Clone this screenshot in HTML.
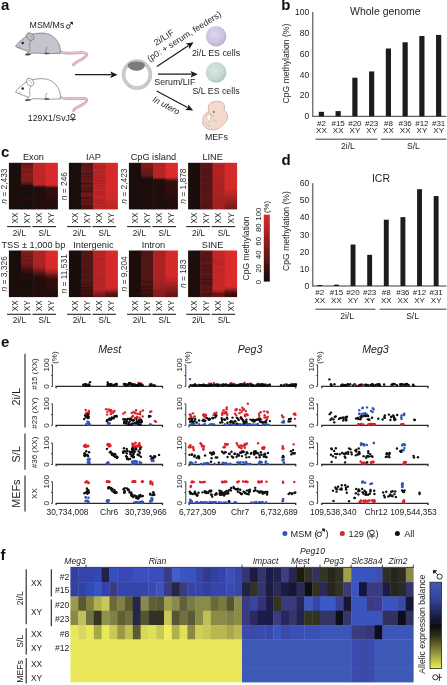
<!DOCTYPE html>
<html><head><meta charset="utf-8"><style>
html,body{margin:0;padding:0;background:#fff;width:447px;height:685px;overflow:hidden}
svg{display:block}
text{font-family:"Liberation Sans",sans-serif}
</style></head><body>
<svg width="447" height="685" viewBox="0 0 447 685" shape-rendering="auto">
<defs><filter id="soft" x="0" y="0" width="100%" height="100%"><feGaussianBlur stdDeviation="0.4"/></filter></defs><g filter="url(#soft)"><rect x="0" y="0" width="447" height="685" fill="#fff"/><text x="281.30" y="10.30" font-size="15" text-anchor="start" fill="#111" style="font-weight:bold;">b</text>
<line x1="312.80" y1="12.00" x2="312.80" y2="116.80" stroke="#3a3a3a" stroke-width="1"/>
<line x1="312.80" y1="116.30" x2="446.50" y2="116.30" stroke="#3a3a3a" stroke-width="1"/>
<text x="309.30" y="119.30" font-size="8.5" text-anchor="end" fill="#1c1c1c" style="">0</text>
<text x="309.30" y="98.44" font-size="8.5" text-anchor="end" fill="#1c1c1c" style="">20</text>
<text x="309.30" y="77.58" font-size="8.5" text-anchor="end" fill="#1c1c1c" style="">40</text>
<text x="309.30" y="56.72" font-size="8.5" text-anchor="end" fill="#1c1c1c" style="">60</text>
<text x="309.30" y="35.86" font-size="8.5" text-anchor="end" fill="#1c1c1c" style="">80</text>
<text x="309.30" y="15.00" font-size="8.5" text-anchor="end" fill="#1c1c1c" style="">100</text>
<rect x="318.80" y="111.82" width="5.20" height="4.48" fill="#1e1e1e"/>
<rect x="335.55" y="111.08" width="5.20" height="5.21" fill="#1e1e1e"/>
<rect x="352.30" y="77.71" width="5.20" height="38.59" fill="#1e1e1e"/>
<rect x="369.05" y="71.45" width="5.20" height="44.85" fill="#1e1e1e"/>
<rect x="385.80" y="48.50" width="5.20" height="67.80" fill="#1e1e1e"/>
<rect x="402.55" y="42.25" width="5.20" height="74.05" fill="#1e1e1e"/>
<rect x="419.30" y="35.99" width="5.20" height="80.31" fill="#1e1e1e"/>
<rect x="436.05" y="34.95" width="5.20" height="81.35" fill="#1e1e1e"/>
<text x="321.40" y="125.60" font-size="8.0" text-anchor="middle" fill="#1c1c1c" style="">#2</text>
<text x="321.40" y="133.30" font-size="8.0" text-anchor="middle" fill="#1c1c1c" style="">XX</text>
<text x="338.15" y="125.60" font-size="8.0" text-anchor="middle" fill="#1c1c1c" style="">#15</text>
<text x="338.15" y="133.30" font-size="8.0" text-anchor="middle" fill="#1c1c1c" style="">XX</text>
<text x="354.90" y="125.60" font-size="8.0" text-anchor="middle" fill="#1c1c1c" style="">#20</text>
<text x="354.90" y="133.30" font-size="8.0" text-anchor="middle" fill="#1c1c1c" style="">XY</text>
<text x="371.65" y="125.60" font-size="8.0" text-anchor="middle" fill="#1c1c1c" style="">#23</text>
<text x="371.65" y="133.30" font-size="8.0" text-anchor="middle" fill="#1c1c1c" style="">XY</text>
<text x="388.40" y="125.60" font-size="8.0" text-anchor="middle" fill="#1c1c1c" style="">#8</text>
<text x="388.40" y="133.30" font-size="8.0" text-anchor="middle" fill="#1c1c1c" style="">XX</text>
<text x="405.15" y="125.60" font-size="8.0" text-anchor="middle" fill="#1c1c1c" style="">#36</text>
<text x="405.15" y="133.30" font-size="8.0" text-anchor="middle" fill="#1c1c1c" style="">XX</text>
<text x="421.90" y="125.60" font-size="8.0" text-anchor="middle" fill="#1c1c1c" style="">#12</text>
<text x="421.90" y="133.30" font-size="8.0" text-anchor="middle" fill="#1c1c1c" style="">XY</text>
<text x="438.65" y="125.60" font-size="8.0" text-anchor="middle" fill="#1c1c1c" style="">#31</text>
<text x="438.65" y="133.30" font-size="8.0" text-anchor="middle" fill="#1c1c1c" style="">XY</text>
<line x1="315.50" y1="139.20" x2="377.60" y2="139.20" stroke="#3a3a3a" stroke-width="1"/>
<line x1="381.00" y1="139.20" x2="446.50" y2="139.20" stroke="#3a3a3a" stroke-width="1"/>
<text x="347.90" y="148.80" font-size="8.6" text-anchor="middle" fill="#1c1c1c" style="">2i/L</text>
<text x="413.40" y="148.80" font-size="8.6" text-anchor="middle" fill="#1c1c1c" style="">S/L</text>
<text x="385.30" y="15.00" font-size="10.5" text-anchor="middle" fill="#1c1c1c" style="">Whole genome</text>
<text x="288.60" y="63.50" font-size="8.6" text-anchor="middle" fill="#1c1c1c" style="" transform="rotate(-90 288.60 63.50)">CpG methylation (%)</text>
<text x="281.60" y="164.50" font-size="15" text-anchor="start" fill="#111" style="font-weight:bold;">d</text>
<line x1="312.80" y1="183.20" x2="312.80" y2="286.50" stroke="#3a3a3a" stroke-width="1"/>
<line x1="312.80" y1="286.00" x2="446.50" y2="286.00" stroke="#3a3a3a" stroke-width="1"/>
<text x="309.30" y="289.00" font-size="8.5" text-anchor="end" fill="#1c1c1c" style="">0</text>
<text x="309.30" y="271.87" font-size="8.5" text-anchor="end" fill="#1c1c1c" style="">10</text>
<text x="309.30" y="254.73" font-size="8.5" text-anchor="end" fill="#1c1c1c" style="">20</text>
<text x="309.30" y="237.60" font-size="8.5" text-anchor="end" fill="#1c1c1c" style="">30</text>
<text x="309.30" y="220.47" font-size="8.5" text-anchor="end" fill="#1c1c1c" style="">40</text>
<text x="309.30" y="203.33" font-size="8.5" text-anchor="end" fill="#1c1c1c" style="">50</text>
<text x="309.30" y="186.20" font-size="8.5" text-anchor="end" fill="#1c1c1c" style="">60</text>
<rect x="317.35" y="284.97" width="4.90" height="1.03" fill="#1e1e1e"/>
<rect x="333.97" y="284.63" width="4.90" height="1.37" fill="#1e1e1e"/>
<rect x="350.59" y="244.54" width="4.90" height="41.46" fill="#1e1e1e"/>
<rect x="367.21" y="254.82" width="4.90" height="31.18" fill="#1e1e1e"/>
<rect x="383.83" y="219.69" width="4.90" height="66.31" fill="#1e1e1e"/>
<rect x="400.45" y="217.12" width="4.90" height="68.88" fill="#1e1e1e"/>
<rect x="417.07" y="189.20" width="4.90" height="96.80" fill="#1e1e1e"/>
<rect x="433.69" y="196.05" width="4.90" height="89.95" fill="#1e1e1e"/>
<text x="319.80" y="295.30" font-size="8.0" text-anchor="middle" fill="#1c1c1c" style="">#2</text>
<text x="319.80" y="303.00" font-size="8.0" text-anchor="middle" fill="#1c1c1c" style="">XX</text>
<text x="336.42" y="295.30" font-size="8.0" text-anchor="middle" fill="#1c1c1c" style="">#15</text>
<text x="336.42" y="303.00" font-size="8.0" text-anchor="middle" fill="#1c1c1c" style="">XX</text>
<text x="353.04" y="295.30" font-size="8.0" text-anchor="middle" fill="#1c1c1c" style="">#20</text>
<text x="353.04" y="303.00" font-size="8.0" text-anchor="middle" fill="#1c1c1c" style="">XY</text>
<text x="369.66" y="295.30" font-size="8.0" text-anchor="middle" fill="#1c1c1c" style="">#23</text>
<text x="369.66" y="303.00" font-size="8.0" text-anchor="middle" fill="#1c1c1c" style="">XY</text>
<text x="386.28" y="295.30" font-size="8.0" text-anchor="middle" fill="#1c1c1c" style="">#8</text>
<text x="386.28" y="303.00" font-size="8.0" text-anchor="middle" fill="#1c1c1c" style="">XX</text>
<text x="402.90" y="295.30" font-size="8.0" text-anchor="middle" fill="#1c1c1c" style="">#36</text>
<text x="402.90" y="303.00" font-size="8.0" text-anchor="middle" fill="#1c1c1c" style="">XX</text>
<text x="419.52" y="295.30" font-size="8.0" text-anchor="middle" fill="#1c1c1c" style="">#12</text>
<text x="419.52" y="303.00" font-size="8.0" text-anchor="middle" fill="#1c1c1c" style="">XY</text>
<text x="436.14" y="295.30" font-size="8.0" text-anchor="middle" fill="#1c1c1c" style="">#31</text>
<text x="436.14" y="303.00" font-size="8.0" text-anchor="middle" fill="#1c1c1c" style="">XY</text>
<line x1="315.50" y1="309.20" x2="375.40" y2="309.20" stroke="#3a3a3a" stroke-width="1"/>
<line x1="379.60" y1="309.20" x2="446.50" y2="309.20" stroke="#3a3a3a" stroke-width="1"/>
<text x="347.10" y="318.80" font-size="8.6" text-anchor="middle" fill="#1c1c1c" style="">2i/L</text>
<text x="412.60" y="318.80" font-size="8.6" text-anchor="middle" fill="#1c1c1c" style="">S/L</text>
<text x="381.00" y="182.00" font-size="10.5" text-anchor="middle" fill="#1c1c1c" style="">ICR</text>
<text x="288.60" y="231.00" font-size="8.6" text-anchor="middle" fill="#1c1c1c" style="" transform="rotate(-90 288.60 231.00)">CpG methylation (%)</text>
<text x="1.00" y="156.70" font-size="15" text-anchor="start" fill="#111" style="font-weight:bold;">c</text>
<linearGradient id="hg1" x1="0" y1="0" x2="0" y2="1"><stop offset="0.0109" stop-color="#1e0b0b"/><stop offset="0.0326" stop-color="#1f0b0b"/><stop offset="0.0543" stop-color="#1e0b0b"/><stop offset="0.0761" stop-color="#1f0c0c"/><stop offset="0.0978" stop-color="#1f0c0c"/><stop offset="0.1196" stop-color="#1d0b0b"/><stop offset="0.1413" stop-color="#1d0b0b"/><stop offset="0.1630" stop-color="#200c0c"/><stop offset="0.1848" stop-color="#1e0b0b"/><stop offset="0.2065" stop-color="#1d0b0b"/><stop offset="0.2283" stop-color="#210c0c"/><stop offset="0.2500" stop-color="#1f0b0b"/><stop offset="0.2717" stop-color="#200c0c"/><stop offset="0.2935" stop-color="#1f0b0b"/><stop offset="0.3152" stop-color="#1f0c0c"/><stop offset="0.3370" stop-color="#1d0b0b"/><stop offset="0.3587" stop-color="#1f0c0c"/><stop offset="0.3804" stop-color="#200c0c"/><stop offset="0.4022" stop-color="#1f0b0b"/><stop offset="0.4239" stop-color="#200c0c"/><stop offset="0.4457" stop-color="#1f0c0c"/><stop offset="0.4674" stop-color="#1d0b0b"/><stop offset="0.4891" stop-color="#200c0c"/><stop offset="0.5109" stop-color="#1f0c0c"/><stop offset="0.5326" stop-color="#1e0b0b"/><stop offset="0.5543" stop-color="#1d0b0b"/><stop offset="0.5761" stop-color="#200c0c"/><stop offset="0.5978" stop-color="#1f0b0b"/><stop offset="0.6196" stop-color="#200c0c"/><stop offset="0.6413" stop-color="#200c0c"/><stop offset="0.6630" stop-color="#200c0c"/><stop offset="0.6848" stop-color="#200c0c"/><stop offset="0.7065" stop-color="#1e0b0b"/><stop offset="0.7283" stop-color="#200c0c"/><stop offset="0.7500" stop-color="#1e0b0b"/><stop offset="0.7717" stop-color="#210c0c"/><stop offset="0.7935" stop-color="#200c0c"/><stop offset="0.8152" stop-color="#1d0b0b"/><stop offset="0.8370" stop-color="#1d0b0b"/><stop offset="0.8587" stop-color="#1d0b0b"/><stop offset="0.8804" stop-color="#210c0c"/><stop offset="0.9022" stop-color="#1e0b0b"/><stop offset="0.9239" stop-color="#1f0c0c"/><stop offset="0.9457" stop-color="#1e0b0b"/><stop offset="0.9674" stop-color="#1f0b0b"/><stop offset="0.9891" stop-color="#1e0b0b"/></linearGradient>
<rect x="8.90" y="162.80" width="12.65" height="46.60" fill="url(#hg1)"/>
<linearGradient id="hg2" x1="0" y1="0" x2="0" y2="1"><stop offset="0.0109" stop-color="#5c1616"/><stop offset="0.0326" stop-color="#661717"/><stop offset="0.0543" stop-color="#691818"/><stop offset="0.0761" stop-color="#751a1a"/><stop offset="0.0978" stop-color="#711919"/><stop offset="0.1196" stop-color="#7b1b1b"/><stop offset="0.1413" stop-color="#7b1b1b"/><stop offset="0.1630" stop-color="#821c1c"/><stop offset="0.1848" stop-color="#7b1b1b"/><stop offset="0.2065" stop-color="#6e1919"/><stop offset="0.2283" stop-color="#861d1d"/><stop offset="0.2500" stop-color="#8c1e1e"/><stop offset="0.2717" stop-color="#8a1d1d"/><stop offset="0.2935" stop-color="#801c1c"/><stop offset="0.3152" stop-color="#841c1c"/><stop offset="0.3370" stop-color="#751a1a"/><stop offset="0.3587" stop-color="#881d1d"/><stop offset="0.3804" stop-color="#801c1c"/><stop offset="0.4022" stop-color="#771a1a"/><stop offset="0.4239" stop-color="#621717"/><stop offset="0.4457" stop-color="#5e1616"/><stop offset="0.4674" stop-color="#441212"/><stop offset="0.4891" stop-color="#160a0a"/><stop offset="0.5109" stop-color="#260d0d"/><stop offset="0.5326" stop-color="#1a0b0b"/><stop offset="0.5543" stop-color="#160a0a"/><stop offset="0.5761" stop-color="#160a0a"/><stop offset="0.5978" stop-color="#250c0c"/><stop offset="0.6196" stop-color="#280d0d"/><stop offset="0.6413" stop-color="#160a0a"/><stop offset="0.6630" stop-color="#200c0c"/><stop offset="0.6848" stop-color="#160a0a"/><stop offset="0.7065" stop-color="#230c0c"/><stop offset="0.7283" stop-color="#170a0a"/><stop offset="0.7500" stop-color="#280d0d"/><stop offset="0.7717" stop-color="#2b0e0e"/><stop offset="0.7935" stop-color="#1d0b0b"/><stop offset="0.8152" stop-color="#2c0e0e"/><stop offset="0.8370" stop-color="#170a0a"/><stop offset="0.8587" stop-color="#160a0a"/><stop offset="0.8804" stop-color="#1f0c0c"/><stop offset="0.9022" stop-color="#160a0a"/><stop offset="0.9239" stop-color="#160a0a"/><stop offset="0.9457" stop-color="#1a0b0b"/><stop offset="0.9674" stop-color="#200c0c"/><stop offset="0.9891" stop-color="#160a0a"/></linearGradient>
<rect x="20.95" y="162.80" width="12.85" height="46.60" fill="url(#hg2)"/>
<linearGradient id="hg3" x1="0" y1="0" x2="0" y2="1"><stop offset="0.0109" stop-color="#bd2626"/><stop offset="0.0326" stop-color="#c02626"/><stop offset="0.0543" stop-color="#be2626"/><stop offset="0.0761" stop-color="#c02626"/><stop offset="0.0978" stop-color="#c02626"/><stop offset="0.1196" stop-color="#be2626"/><stop offset="0.1413" stop-color="#be2626"/><stop offset="0.1630" stop-color="#bf2626"/><stop offset="0.1848" stop-color="#bf2626"/><stop offset="0.2065" stop-color="#bf2626"/><stop offset="0.2283" stop-color="#bf2626"/><stop offset="0.2500" stop-color="#bf2626"/><stop offset="0.2717" stop-color="#c02626"/><stop offset="0.2935" stop-color="#bf2626"/><stop offset="0.3152" stop-color="#be2626"/><stop offset="0.3370" stop-color="#bf2626"/><stop offset="0.3587" stop-color="#bd2626"/><stop offset="0.3804" stop-color="#be2626"/><stop offset="0.4022" stop-color="#c12626"/><stop offset="0.4239" stop-color="#bf2626"/><stop offset="0.4457" stop-color="#bf2626"/><stop offset="0.4674" stop-color="#b92525"/><stop offset="0.4891" stop-color="#8f1e1e"/><stop offset="0.5109" stop-color="#521414"/><stop offset="0.5326" stop-color="#250c0c"/><stop offset="0.5543" stop-color="#230c0c"/><stop offset="0.5761" stop-color="#240c0c"/><stop offset="0.5978" stop-color="#210c0c"/><stop offset="0.6196" stop-color="#240c0c"/><stop offset="0.6413" stop-color="#230c0c"/><stop offset="0.6630" stop-color="#240c0c"/><stop offset="0.6848" stop-color="#220c0c"/><stop offset="0.7065" stop-color="#240c0c"/><stop offset="0.7283" stop-color="#240c0c"/><stop offset="0.7500" stop-color="#210c0c"/><stop offset="0.7717" stop-color="#210c0c"/><stop offset="0.7935" stop-color="#240c0c"/><stop offset="0.8152" stop-color="#250c0c"/><stop offset="0.8370" stop-color="#220c0c"/><stop offset="0.8587" stop-color="#230c0c"/><stop offset="0.8804" stop-color="#230c0c"/><stop offset="0.9022" stop-color="#220c0c"/><stop offset="0.9239" stop-color="#220c0c"/><stop offset="0.9457" stop-color="#220c0c"/><stop offset="0.9674" stop-color="#220c0c"/><stop offset="0.9891" stop-color="#230c0c"/></linearGradient>
<rect x="33.20" y="162.80" width="12.85" height="46.60" fill="url(#hg3)"/>
<linearGradient id="hg4" x1="0" y1="0" x2="0" y2="1"><stop offset="0.0109" stop-color="#dc2b2b"/><stop offset="0.0326" stop-color="#dc2b2b"/><stop offset="0.0543" stop-color="#dd2b2b"/><stop offset="0.0761" stop-color="#d92b2b"/><stop offset="0.0978" stop-color="#db2b2b"/><stop offset="0.1196" stop-color="#dc2b2b"/><stop offset="0.1413" stop-color="#d92b2b"/><stop offset="0.1630" stop-color="#d92a2a"/><stop offset="0.1848" stop-color="#db2b2b"/><stop offset="0.2065" stop-color="#d82a2a"/><stop offset="0.2283" stop-color="#d72a2a"/><stop offset="0.2500" stop-color="#d82a2a"/><stop offset="0.2717" stop-color="#d92a2a"/><stop offset="0.2935" stop-color="#d62a2a"/><stop offset="0.3152" stop-color="#d72a2a"/><stop offset="0.3370" stop-color="#d62a2a"/><stop offset="0.3587" stop-color="#d82a2a"/><stop offset="0.3804" stop-color="#d62a2a"/><stop offset="0.4022" stop-color="#d72a2a"/><stop offset="0.4239" stop-color="#d42a2a"/><stop offset="0.4457" stop-color="#d42a2a"/><stop offset="0.4674" stop-color="#d52a2a"/><stop offset="0.4891" stop-color="#bf2626"/><stop offset="0.5109" stop-color="#811c1c"/><stop offset="0.5326" stop-color="#461212"/><stop offset="0.5543" stop-color="#330f0f"/><stop offset="0.5761" stop-color="#340f0f"/><stop offset="0.5978" stop-color="#320f0f"/><stop offset="0.6196" stop-color="#340f0f"/><stop offset="0.6413" stop-color="#340f0f"/><stop offset="0.6630" stop-color="#300e0e"/><stop offset="0.6848" stop-color="#300e0e"/><stop offset="0.7065" stop-color="#310e0e"/><stop offset="0.7283" stop-color="#2f0e0e"/><stop offset="0.7500" stop-color="#2e0e0e"/><stop offset="0.7717" stop-color="#2b0e0e"/><stop offset="0.7935" stop-color="#290d0d"/><stop offset="0.8152" stop-color="#280d0d"/><stop offset="0.8370" stop-color="#290d0d"/><stop offset="0.8587" stop-color="#260d0d"/><stop offset="0.8804" stop-color="#250d0d"/><stop offset="0.9022" stop-color="#250c0c"/><stop offset="0.9239" stop-color="#240c0c"/><stop offset="0.9457" stop-color="#230c0c"/><stop offset="0.9674" stop-color="#250d0d"/><stop offset="0.9891" stop-color="#220c0c"/></linearGradient>
<rect x="45.45" y="162.80" width="12.45" height="46.60" fill="url(#hg4)"/>
<text x="33.40" y="159.80" font-size="9.2" text-anchor="middle" fill="#1c1c1c" style="">Exon</text>
<text x="6.70" y="186.10" font-size="8.4" text-anchor="middle" fill="#333" transform="rotate(-90 6.70 186.10)"><tspan style="font-style:italic">n</tspan> = 2,433</text>
<text x="17.62" y="212.60" font-size="8.2" text-anchor="end" fill="#1c1c1c" style="" transform="rotate(-90 17.62 212.60)">XX</text>
<text x="29.88" y="212.60" font-size="8.2" text-anchor="end" fill="#1c1c1c" style="" transform="rotate(-90 29.88 212.60)">XY</text>
<text x="42.12" y="212.60" font-size="8.2" text-anchor="end" fill="#1c1c1c" style="" transform="rotate(-90 42.12 212.60)">XX</text>
<text x="54.38" y="212.60" font-size="8.2" text-anchor="end" fill="#1c1c1c" style="" transform="rotate(-90 54.38 212.60)">XY</text>
<line x1="7.10" y1="226.60" x2="30.80" y2="226.60" stroke="#222" stroke-width="1.1"/>
<line x1="32.40" y1="226.60" x2="56.00" y2="226.60" stroke="#222" stroke-width="1.1"/>
<text x="19.35" y="235.60" font-size="8.2" text-anchor="middle" fill="#1c1c1c" style="">2i/L</text>
<text x="44.65" y="235.60" font-size="8.2" text-anchor="middle" fill="#1c1c1c" style="">S/L</text>
<linearGradient id="hg5" x1="0" y1="0" x2="0" y2="1"><stop offset="0.0109" stop-color="#1a0b0b"/><stop offset="0.0326" stop-color="#190b0b"/><stop offset="0.0543" stop-color="#1c0b0b"/><stop offset="0.0761" stop-color="#190b0b"/><stop offset="0.0978" stop-color="#190a0a"/><stop offset="0.1196" stop-color="#1c0b0b"/><stop offset="0.1413" stop-color="#200c0c"/><stop offset="0.1630" stop-color="#1f0c0c"/><stop offset="0.1848" stop-color="#1f0b0b"/><stop offset="0.2065" stop-color="#1a0b0b"/><stop offset="0.2283" stop-color="#1d0b0b"/><stop offset="0.2500" stop-color="#1b0b0b"/><stop offset="0.2717" stop-color="#1a0b0b"/><stop offset="0.2935" stop-color="#190b0b"/><stop offset="0.3152" stop-color="#1a0b0b"/><stop offset="0.3370" stop-color="#200c0c"/><stop offset="0.3587" stop-color="#1f0c0c"/><stop offset="0.3804" stop-color="#1f0c0c"/><stop offset="0.4022" stop-color="#1f0c0c"/><stop offset="0.4239" stop-color="#1a0b0b"/><stop offset="0.4457" stop-color="#1b0b0b"/><stop offset="0.4674" stop-color="#1e0b0b"/><stop offset="0.4891" stop-color="#1e0b0b"/><stop offset="0.5109" stop-color="#200c0c"/><stop offset="0.5326" stop-color="#200c0c"/><stop offset="0.5543" stop-color="#190a0a"/><stop offset="0.5761" stop-color="#1d0b0b"/><stop offset="0.5978" stop-color="#1e0b0b"/><stop offset="0.6196" stop-color="#1d0b0b"/><stop offset="0.6413" stop-color="#1a0b0b"/><stop offset="0.6630" stop-color="#1c0b0b"/><stop offset="0.6848" stop-color="#190a0a"/><stop offset="0.7065" stop-color="#200c0c"/><stop offset="0.7283" stop-color="#200c0c"/><stop offset="0.7500" stop-color="#1d0b0b"/><stop offset="0.7717" stop-color="#1b0b0b"/><stop offset="0.7935" stop-color="#200c0c"/><stop offset="0.8152" stop-color="#1d0b0b"/><stop offset="0.8370" stop-color="#200c0c"/><stop offset="0.8587" stop-color="#1f0c0c"/><stop offset="0.8804" stop-color="#1d0b0b"/><stop offset="0.9022" stop-color="#1c0b0b"/><stop offset="0.9239" stop-color="#1d0b0b"/><stop offset="0.9457" stop-color="#1c0b0b"/><stop offset="0.9674" stop-color="#1a0b0b"/><stop offset="0.9891" stop-color="#1b0b0b"/></linearGradient>
<rect x="68.90" y="162.80" width="12.65" height="46.60" fill="url(#hg5)"/>
<linearGradient id="hg6" x1="0" y1="0" x2="0" y2="1"><stop offset="0.0109" stop-color="#7b1b1b"/><stop offset="0.0326" stop-color="#4c1313"/><stop offset="0.0543" stop-color="#4b1313"/><stop offset="0.0761" stop-color="#6e1919"/><stop offset="0.0978" stop-color="#591515"/><stop offset="0.1196" stop-color="#681818"/><stop offset="0.1413" stop-color="#631717"/><stop offset="0.1630" stop-color="#5b1616"/><stop offset="0.1848" stop-color="#821c1c"/><stop offset="0.2065" stop-color="#511414"/><stop offset="0.2283" stop-color="#5e1616"/><stop offset="0.2500" stop-color="#511414"/><stop offset="0.2717" stop-color="#6a1818"/><stop offset="0.2935" stop-color="#541414"/><stop offset="0.3152" stop-color="#591515"/><stop offset="0.3370" stop-color="#701919"/><stop offset="0.3587" stop-color="#551515"/><stop offset="0.3804" stop-color="#631717"/><stop offset="0.4022" stop-color="#781a1a"/><stop offset="0.4239" stop-color="#471212"/><stop offset="0.4457" stop-color="#441212"/><stop offset="0.4674" stop-color="#4e1313"/><stop offset="0.4891" stop-color="#6e1919"/><stop offset="0.5109" stop-color="#641717"/><stop offset="0.5326" stop-color="#4d1313"/><stop offset="0.5543" stop-color="#521414"/><stop offset="0.5761" stop-color="#481212"/><stop offset="0.5978" stop-color="#591515"/><stop offset="0.6196" stop-color="#3f1111"/><stop offset="0.6413" stop-color="#661717"/><stop offset="0.6630" stop-color="#721919"/><stop offset="0.6848" stop-color="#751a1a"/><stop offset="0.7065" stop-color="#671818"/><stop offset="0.7283" stop-color="#741a1a"/><stop offset="0.7500" stop-color="#3b1010"/><stop offset="0.7717" stop-color="#4b1313"/><stop offset="0.7935" stop-color="#731a1a"/><stop offset="0.8152" stop-color="#671818"/><stop offset="0.8370" stop-color="#511414"/><stop offset="0.8587" stop-color="#701919"/><stop offset="0.8804" stop-color="#5c1616"/><stop offset="0.9022" stop-color="#681818"/><stop offset="0.9239" stop-color="#481212"/><stop offset="0.9457" stop-color="#411111"/><stop offset="0.9674" stop-color="#501414"/><stop offset="0.9891" stop-color="#3d1010"/></linearGradient>
<rect x="80.95" y="162.80" width="12.85" height="46.60" fill="url(#hg6)"/>
<linearGradient id="hg7" x1="0" y1="0" x2="0" y2="1"><stop offset="0.0109" stop-color="#b82525"/><stop offset="0.0326" stop-color="#c42727"/><stop offset="0.0543" stop-color="#b72525"/><stop offset="0.0761" stop-color="#b02424"/><stop offset="0.0978" stop-color="#b02424"/><stop offset="0.1196" stop-color="#b32424"/><stop offset="0.1413" stop-color="#c02626"/><stop offset="0.1630" stop-color="#b72525"/><stop offset="0.1848" stop-color="#b62525"/><stop offset="0.2065" stop-color="#b12424"/><stop offset="0.2283" stop-color="#c52727"/><stop offset="0.2500" stop-color="#b92525"/><stop offset="0.2717" stop-color="#b42424"/><stop offset="0.2935" stop-color="#b12424"/><stop offset="0.3152" stop-color="#b12424"/><stop offset="0.3370" stop-color="#b32424"/><stop offset="0.3587" stop-color="#be2626"/><stop offset="0.3804" stop-color="#b32424"/><stop offset="0.4022" stop-color="#b02424"/><stop offset="0.4239" stop-color="#ba2525"/><stop offset="0.4457" stop-color="#b52424"/><stop offset="0.4674" stop-color="#c52727"/><stop offset="0.4891" stop-color="#b22424"/><stop offset="0.5109" stop-color="#bb2525"/><stop offset="0.5326" stop-color="#c02626"/><stop offset="0.5543" stop-color="#b82525"/><stop offset="0.5761" stop-color="#c52727"/><stop offset="0.5978" stop-color="#ba2525"/><stop offset="0.6196" stop-color="#b52424"/><stop offset="0.6413" stop-color="#b82525"/><stop offset="0.6630" stop-color="#b02424"/><stop offset="0.6848" stop-color="#b82525"/><stop offset="0.7065" stop-color="#b52424"/><stop offset="0.7283" stop-color="#c32727"/><stop offset="0.7500" stop-color="#c12727"/><stop offset="0.7717" stop-color="#ba2525"/><stop offset="0.7935" stop-color="#b02424"/><stop offset="0.8152" stop-color="#b52424"/><stop offset="0.8370" stop-color="#b52424"/><stop offset="0.8587" stop-color="#b42424"/><stop offset="0.8804" stop-color="#b42424"/><stop offset="0.9022" stop-color="#c22727"/><stop offset="0.9239" stop-color="#b22424"/><stop offset="0.9457" stop-color="#b02424"/><stop offset="0.9674" stop-color="#c32727"/><stop offset="0.9891" stop-color="#bc2626"/></linearGradient>
<rect x="93.20" y="162.80" width="12.85" height="46.60" fill="url(#hg7)"/>
<linearGradient id="hg8" x1="0" y1="0" x2="0" y2="1"><stop offset="0.0109" stop-color="#d82a2a"/><stop offset="0.0326" stop-color="#d32a2a"/><stop offset="0.0543" stop-color="#d82a2a"/><stop offset="0.0761" stop-color="#d52a2a"/><stop offset="0.0978" stop-color="#d72a2a"/><stop offset="0.1196" stop-color="#d62a2a"/><stop offset="0.1413" stop-color="#d42a2a"/><stop offset="0.1630" stop-color="#d12929"/><stop offset="0.1848" stop-color="#d22929"/><stop offset="0.2065" stop-color="#d72a2a"/><stop offset="0.2283" stop-color="#d82a2a"/><stop offset="0.2500" stop-color="#d82a2a"/><stop offset="0.2717" stop-color="#d32929"/><stop offset="0.2935" stop-color="#d52a2a"/><stop offset="0.3152" stop-color="#d72a2a"/><stop offset="0.3370" stop-color="#d52a2a"/><stop offset="0.3587" stop-color="#d72a2a"/><stop offset="0.3804" stop-color="#d42a2a"/><stop offset="0.4022" stop-color="#d52a2a"/><stop offset="0.4239" stop-color="#d62a2a"/><stop offset="0.4457" stop-color="#d22929"/><stop offset="0.4674" stop-color="#d82a2a"/><stop offset="0.4891" stop-color="#d82a2a"/><stop offset="0.5109" stop-color="#d02929"/><stop offset="0.5326" stop-color="#d82a2a"/><stop offset="0.5543" stop-color="#d82a2a"/><stop offset="0.5761" stop-color="#d62a2a"/><stop offset="0.5978" stop-color="#d02929"/><stop offset="0.6196" stop-color="#d82a2a"/><stop offset="0.6413" stop-color="#d12929"/><stop offset="0.6630" stop-color="#d82a2a"/><stop offset="0.6848" stop-color="#d62a2a"/><stop offset="0.7065" stop-color="#d02929"/><stop offset="0.7283" stop-color="#cf2929"/><stop offset="0.7500" stop-color="#d12929"/><stop offset="0.7717" stop-color="#ce2929"/><stop offset="0.7935" stop-color="#ce2929"/><stop offset="0.8152" stop-color="#ce2929"/><stop offset="0.8370" stop-color="#c62727"/><stop offset="0.8587" stop-color="#c22727"/><stop offset="0.8804" stop-color="#c82828"/><stop offset="0.9022" stop-color="#be2626"/><stop offset="0.9239" stop-color="#c42727"/><stop offset="0.9457" stop-color="#bc2626"/><stop offset="0.9674" stop-color="#c02626"/><stop offset="0.9891" stop-color="#be2626"/></linearGradient>
<rect x="105.45" y="162.80" width="12.45" height="46.60" fill="url(#hg8)"/>
<text x="93.40" y="159.80" font-size="9.2" text-anchor="middle" fill="#1c1c1c" style="">IAP</text>
<text x="66.70" y="186.10" font-size="8.4" text-anchor="middle" fill="#333" transform="rotate(-90 66.70 186.10)"><tspan style="font-style:italic">n</tspan> = 246</text>
<text x="77.62" y="212.60" font-size="8.2" text-anchor="end" fill="#1c1c1c" style="" transform="rotate(-90 77.62 212.60)">XX</text>
<text x="89.88" y="212.60" font-size="8.2" text-anchor="end" fill="#1c1c1c" style="" transform="rotate(-90 89.88 212.60)">XY</text>
<text x="102.12" y="212.60" font-size="8.2" text-anchor="end" fill="#1c1c1c" style="" transform="rotate(-90 102.12 212.60)">XX</text>
<text x="114.38" y="212.60" font-size="8.2" text-anchor="end" fill="#1c1c1c" style="" transform="rotate(-90 114.38 212.60)">XY</text>
<line x1="67.10" y1="226.60" x2="90.80" y2="226.60" stroke="#222" stroke-width="1.1"/>
<line x1="92.40" y1="226.60" x2="116.00" y2="226.60" stroke="#222" stroke-width="1.1"/>
<text x="79.35" y="235.60" font-size="8.2" text-anchor="middle" fill="#1c1c1c" style="">2i/L</text>
<text x="104.65" y="235.60" font-size="8.2" text-anchor="middle" fill="#1c1c1c" style="">S/L</text>
<linearGradient id="hg9" x1="0" y1="0" x2="0" y2="1"><stop offset="0.0109" stop-color="#1d0b0b"/><stop offset="0.0326" stop-color="#1e0b0b"/><stop offset="0.0543" stop-color="#1e0b0b"/><stop offset="0.0761" stop-color="#1e0b0b"/><stop offset="0.0978" stop-color="#1e0b0b"/><stop offset="0.1196" stop-color="#1e0b0b"/><stop offset="0.1413" stop-color="#1a0b0b"/><stop offset="0.1630" stop-color="#1c0b0b"/><stop offset="0.1848" stop-color="#1e0b0b"/><stop offset="0.2065" stop-color="#1d0b0b"/><stop offset="0.2283" stop-color="#1e0b0b"/><stop offset="0.2500" stop-color="#1b0b0b"/><stop offset="0.2717" stop-color="#1c0b0b"/><stop offset="0.2935" stop-color="#1b0b0b"/><stop offset="0.3152" stop-color="#1d0b0b"/><stop offset="0.3370" stop-color="#1d0b0b"/><stop offset="0.3587" stop-color="#1a0b0b"/><stop offset="0.3804" stop-color="#1b0b0b"/><stop offset="0.4022" stop-color="#1c0b0b"/><stop offset="0.4239" stop-color="#1e0b0b"/><stop offset="0.4457" stop-color="#1e0b0b"/><stop offset="0.4674" stop-color="#1b0b0b"/><stop offset="0.4891" stop-color="#1e0b0b"/><stop offset="0.5109" stop-color="#1b0b0b"/><stop offset="0.5326" stop-color="#1d0b0b"/><stop offset="0.5543" stop-color="#1b0b0b"/><stop offset="0.5761" stop-color="#1a0b0b"/><stop offset="0.5978" stop-color="#1e0b0b"/><stop offset="0.6196" stop-color="#1b0b0b"/><stop offset="0.6413" stop-color="#1b0b0b"/><stop offset="0.6630" stop-color="#1f0b0b"/><stop offset="0.6848" stop-color="#1e0b0b"/><stop offset="0.7065" stop-color="#1c0b0b"/><stop offset="0.7283" stop-color="#1e0b0b"/><stop offset="0.7500" stop-color="#1d0b0b"/><stop offset="0.7717" stop-color="#1d0b0b"/><stop offset="0.7935" stop-color="#1b0b0b"/><stop offset="0.8152" stop-color="#1e0b0b"/><stop offset="0.8370" stop-color="#1d0b0b"/><stop offset="0.8587" stop-color="#1e0b0b"/><stop offset="0.8804" stop-color="#1e0b0b"/><stop offset="0.9022" stop-color="#1c0b0b"/><stop offset="0.9239" stop-color="#1c0b0b"/><stop offset="0.9457" stop-color="#1b0b0b"/><stop offset="0.9674" stop-color="#1b0b0b"/><stop offset="0.9891" stop-color="#1b0b0b"/></linearGradient>
<rect x="128.90" y="162.80" width="12.65" height="46.60" fill="url(#hg9)"/>
<linearGradient id="hg10" x1="0" y1="0" x2="0" y2="1"><stop offset="0.0109" stop-color="#7e1b1b"/><stop offset="0.0326" stop-color="#801c1c"/><stop offset="0.0543" stop-color="#761a1a"/><stop offset="0.0761" stop-color="#7c1b1b"/><stop offset="0.0978" stop-color="#751a1a"/><stop offset="0.1196" stop-color="#731919"/><stop offset="0.1413" stop-color="#771a1a"/><stop offset="0.1630" stop-color="#701919"/><stop offset="0.1848" stop-color="#6c1818"/><stop offset="0.2065" stop-color="#6b1818"/><stop offset="0.2283" stop-color="#6c1818"/><stop offset="0.2500" stop-color="#611717"/><stop offset="0.2717" stop-color="#681818"/><stop offset="0.2935" stop-color="#4a1313"/><stop offset="0.3152" stop-color="#3c1010"/><stop offset="0.3370" stop-color="#2a0d0d"/><stop offset="0.3587" stop-color="#160a0a"/><stop offset="0.3804" stop-color="#200c0c"/><stop offset="0.4022" stop-color="#1b0b0b"/><stop offset="0.4239" stop-color="#1d0b0b"/><stop offset="0.4457" stop-color="#160a0a"/><stop offset="0.4674" stop-color="#170a0a"/><stop offset="0.4891" stop-color="#180a0a"/><stop offset="0.5109" stop-color="#220c0c"/><stop offset="0.5326" stop-color="#190a0a"/><stop offset="0.5543" stop-color="#200c0c"/><stop offset="0.5761" stop-color="#220c0c"/><stop offset="0.5978" stop-color="#220c0c"/><stop offset="0.6196" stop-color="#1a0b0b"/><stop offset="0.6413" stop-color="#1b0b0b"/><stop offset="0.6630" stop-color="#1d0b0b"/><stop offset="0.6848" stop-color="#200c0c"/><stop offset="0.7065" stop-color="#170a0a"/><stop offset="0.7283" stop-color="#200c0c"/><stop offset="0.7500" stop-color="#200c0c"/><stop offset="0.7717" stop-color="#210c0c"/><stop offset="0.7935" stop-color="#160a0a"/><stop offset="0.8152" stop-color="#220c0c"/><stop offset="0.8370" stop-color="#170a0a"/><stop offset="0.8587" stop-color="#1a0b0b"/><stop offset="0.8804" stop-color="#1e0b0b"/><stop offset="0.9022" stop-color="#220c0c"/><stop offset="0.9239" stop-color="#1a0b0b"/><stop offset="0.9457" stop-color="#220c0c"/><stop offset="0.9674" stop-color="#1d0b0b"/><stop offset="0.9891" stop-color="#1a0b0b"/></linearGradient>
<rect x="140.95" y="162.80" width="12.85" height="46.60" fill="url(#hg10)"/>
<linearGradient id="hg11" x1="0" y1="0" x2="0" y2="1"><stop offset="0.0109" stop-color="#b52525"/><stop offset="0.0326" stop-color="#b42424"/><stop offset="0.0543" stop-color="#b42424"/><stop offset="0.0761" stop-color="#b42424"/><stop offset="0.0978" stop-color="#b72525"/><stop offset="0.1196" stop-color="#b82525"/><stop offset="0.1413" stop-color="#b42424"/><stop offset="0.1630" stop-color="#b42424"/><stop offset="0.1848" stop-color="#b82525"/><stop offset="0.2065" stop-color="#b62525"/><stop offset="0.2283" stop-color="#b52525"/><stop offset="0.2500" stop-color="#b52424"/><stop offset="0.2717" stop-color="#b62525"/><stop offset="0.2935" stop-color="#b72525"/><stop offset="0.3152" stop-color="#a82222"/><stop offset="0.3370" stop-color="#731a1a"/><stop offset="0.3587" stop-color="#391010"/><stop offset="0.3804" stop-color="#230c0c"/><stop offset="0.4022" stop-color="#1f0b0b"/><stop offset="0.4239" stop-color="#210c0c"/><stop offset="0.4457" stop-color="#220c0c"/><stop offset="0.4674" stop-color="#1f0c0c"/><stop offset="0.4891" stop-color="#220c0c"/><stop offset="0.5109" stop-color="#230c0c"/><stop offset="0.5326" stop-color="#210c0c"/><stop offset="0.5543" stop-color="#220c0c"/><stop offset="0.5761" stop-color="#1f0c0c"/><stop offset="0.5978" stop-color="#210c0c"/><stop offset="0.6196" stop-color="#1f0c0c"/><stop offset="0.6413" stop-color="#220c0c"/><stop offset="0.6630" stop-color="#200c0c"/><stop offset="0.6848" stop-color="#210c0c"/><stop offset="0.7065" stop-color="#230c0c"/><stop offset="0.7283" stop-color="#220c0c"/><stop offset="0.7500" stop-color="#230c0c"/><stop offset="0.7717" stop-color="#210c0c"/><stop offset="0.7935" stop-color="#210c0c"/><stop offset="0.8152" stop-color="#220c0c"/><stop offset="0.8370" stop-color="#210c0c"/><stop offset="0.8587" stop-color="#200c0c"/><stop offset="0.8804" stop-color="#200c0c"/><stop offset="0.9022" stop-color="#1f0c0c"/><stop offset="0.9239" stop-color="#200c0c"/><stop offset="0.9457" stop-color="#230c0c"/><stop offset="0.9674" stop-color="#230c0c"/><stop offset="0.9891" stop-color="#210c0c"/></linearGradient>
<rect x="153.20" y="162.80" width="12.85" height="46.60" fill="url(#hg11)"/>
<linearGradient id="hg12" x1="0" y1="0" x2="0" y2="1"><stop offset="0.0109" stop-color="#dd2b2b"/><stop offset="0.0326" stop-color="#dc2b2b"/><stop offset="0.0543" stop-color="#db2b2b"/><stop offset="0.0761" stop-color="#dc2b2b"/><stop offset="0.0978" stop-color="#de2b2b"/><stop offset="0.1196" stop-color="#de2b2b"/><stop offset="0.1413" stop-color="#dc2b2b"/><stop offset="0.1630" stop-color="#de2b2b"/><stop offset="0.1848" stop-color="#de2b2b"/><stop offset="0.2065" stop-color="#de2b2b"/><stop offset="0.2283" stop-color="#dd2b2b"/><stop offset="0.2500" stop-color="#de2b2b"/><stop offset="0.2717" stop-color="#dc2b2b"/><stop offset="0.2935" stop-color="#de2b2b"/><stop offset="0.3152" stop-color="#d12929"/><stop offset="0.3370" stop-color="#a92222"/><stop offset="0.3587" stop-color="#741a1a"/><stop offset="0.3804" stop-color="#461212"/><stop offset="0.4022" stop-color="#330f0f"/><stop offset="0.4239" stop-color="#360f0f"/><stop offset="0.4457" stop-color="#350f0f"/><stop offset="0.4674" stop-color="#340f0f"/><stop offset="0.4891" stop-color="#310e0e"/><stop offset="0.5109" stop-color="#330f0f"/><stop offset="0.5326" stop-color="#310e0e"/><stop offset="0.5543" stop-color="#320f0f"/><stop offset="0.5761" stop-color="#300e0e"/><stop offset="0.5978" stop-color="#310e0e"/><stop offset="0.6196" stop-color="#2f0e0e"/><stop offset="0.6413" stop-color="#2f0e0e"/><stop offset="0.6630" stop-color="#2c0e0e"/><stop offset="0.6848" stop-color="#2c0e0e"/><stop offset="0.7065" stop-color="#2b0e0e"/><stop offset="0.7283" stop-color="#2b0d0d"/><stop offset="0.7500" stop-color="#270d0d"/><stop offset="0.7717" stop-color="#290d0d"/><stop offset="0.7935" stop-color="#280d0d"/><stop offset="0.8152" stop-color="#260d0d"/><stop offset="0.8370" stop-color="#260d0d"/><stop offset="0.8587" stop-color="#250d0d"/><stop offset="0.8804" stop-color="#230c0c"/><stop offset="0.9022" stop-color="#220c0c"/><stop offset="0.9239" stop-color="#200c0c"/><stop offset="0.9457" stop-color="#230c0c"/><stop offset="0.9674" stop-color="#230c0c"/><stop offset="0.9891" stop-color="#210c0c"/></linearGradient>
<rect x="165.45" y="162.80" width="12.45" height="46.60" fill="url(#hg12)"/>
<text x="153.40" y="159.80" font-size="9.2" text-anchor="middle" fill="#1c1c1c" style="">CpG island</text>
<text x="126.70" y="186.10" font-size="8.4" text-anchor="middle" fill="#333" transform="rotate(-90 126.70 186.10)"><tspan style="font-style:italic">n</tspan> = 2,423</text>
<text x="137.62" y="212.60" font-size="8.2" text-anchor="end" fill="#1c1c1c" style="" transform="rotate(-90 137.62 212.60)">XX</text>
<text x="149.88" y="212.60" font-size="8.2" text-anchor="end" fill="#1c1c1c" style="" transform="rotate(-90 149.88 212.60)">XY</text>
<text x="162.12" y="212.60" font-size="8.2" text-anchor="end" fill="#1c1c1c" style="" transform="rotate(-90 162.12 212.60)">XX</text>
<text x="174.38" y="212.60" font-size="8.2" text-anchor="end" fill="#1c1c1c" style="" transform="rotate(-90 174.38 212.60)">XY</text>
<line x1="127.10" y1="226.60" x2="150.80" y2="226.60" stroke="#222" stroke-width="1.1"/>
<line x1="152.40" y1="226.60" x2="176.00" y2="226.60" stroke="#222" stroke-width="1.1"/>
<text x="139.35" y="235.60" font-size="8.2" text-anchor="middle" fill="#1c1c1c" style="">2i/L</text>
<text x="164.65" y="235.60" font-size="8.2" text-anchor="middle" fill="#1c1c1c" style="">S/L</text>
<linearGradient id="hg13" x1="0" y1="0" x2="0" y2="1"><stop offset="0.0109" stop-color="#1e0b0b"/><stop offset="0.0326" stop-color="#1e0b0b"/><stop offset="0.0543" stop-color="#1c0b0b"/><stop offset="0.0761" stop-color="#1b0b0b"/><stop offset="0.0978" stop-color="#1a0b0b"/><stop offset="0.1196" stop-color="#1d0b0b"/><stop offset="0.1413" stop-color="#1c0b0b"/><stop offset="0.1630" stop-color="#1e0b0b"/><stop offset="0.1848" stop-color="#1c0b0b"/><stop offset="0.2065" stop-color="#1e0b0b"/><stop offset="0.2283" stop-color="#1b0b0b"/><stop offset="0.2500" stop-color="#1e0b0b"/><stop offset="0.2717" stop-color="#1d0b0b"/><stop offset="0.2935" stop-color="#1c0b0b"/><stop offset="0.3152" stop-color="#1d0b0b"/><stop offset="0.3370" stop-color="#1d0b0b"/><stop offset="0.3587" stop-color="#1b0b0b"/><stop offset="0.3804" stop-color="#1d0b0b"/><stop offset="0.4022" stop-color="#1e0b0b"/><stop offset="0.4239" stop-color="#1b0b0b"/><stop offset="0.4457" stop-color="#1e0b0b"/><stop offset="0.4674" stop-color="#1d0b0b"/><stop offset="0.4891" stop-color="#1e0b0b"/><stop offset="0.5109" stop-color="#1c0b0b"/><stop offset="0.5326" stop-color="#1b0b0b"/><stop offset="0.5543" stop-color="#1e0b0b"/><stop offset="0.5761" stop-color="#1e0b0b"/><stop offset="0.5978" stop-color="#1c0b0b"/><stop offset="0.6196" stop-color="#1b0b0b"/><stop offset="0.6413" stop-color="#1b0b0b"/><stop offset="0.6630" stop-color="#1d0b0b"/><stop offset="0.6848" stop-color="#1c0b0b"/><stop offset="0.7065" stop-color="#1e0b0b"/><stop offset="0.7283" stop-color="#1d0b0b"/><stop offset="0.7500" stop-color="#1b0b0b"/><stop offset="0.7717" stop-color="#1d0b0b"/><stop offset="0.7935" stop-color="#1c0b0b"/><stop offset="0.8152" stop-color="#1e0b0b"/><stop offset="0.8370" stop-color="#1e0b0b"/><stop offset="0.8587" stop-color="#1d0b0b"/><stop offset="0.8804" stop-color="#1d0b0b"/><stop offset="0.9022" stop-color="#1d0b0b"/><stop offset="0.9239" stop-color="#1e0b0b"/><stop offset="0.9457" stop-color="#1f0b0b"/><stop offset="0.9674" stop-color="#1a0b0b"/><stop offset="0.9891" stop-color="#1c0b0b"/></linearGradient>
<rect x="188.10" y="162.80" width="12.65" height="46.60" fill="url(#hg13)"/>
<linearGradient id="hg14" x1="0" y1="0" x2="0" y2="1"><stop offset="0.0109" stop-color="#5b1616"/><stop offset="0.0326" stop-color="#541414"/><stop offset="0.0543" stop-color="#5a1515"/><stop offset="0.0761" stop-color="#4f1414"/><stop offset="0.0978" stop-color="#601616"/><stop offset="0.1196" stop-color="#581515"/><stop offset="0.1413" stop-color="#4f1414"/><stop offset="0.1630" stop-color="#5b1616"/><stop offset="0.1848" stop-color="#531414"/><stop offset="0.2065" stop-color="#511414"/><stop offset="0.2283" stop-color="#571515"/><stop offset="0.2500" stop-color="#4f1313"/><stop offset="0.2717" stop-color="#501414"/><stop offset="0.2935" stop-color="#5e1616"/><stop offset="0.3152" stop-color="#5b1515"/><stop offset="0.3370" stop-color="#4c1313"/><stop offset="0.3587" stop-color="#5c1616"/><stop offset="0.3804" stop-color="#4b1313"/><stop offset="0.4022" stop-color="#521414"/><stop offset="0.4239" stop-color="#5e1616"/><stop offset="0.4457" stop-color="#581515"/><stop offset="0.4674" stop-color="#511414"/><stop offset="0.4891" stop-color="#521414"/><stop offset="0.5109" stop-color="#521414"/><stop offset="0.5326" stop-color="#4c1313"/><stop offset="0.5543" stop-color="#5f1616"/><stop offset="0.5761" stop-color="#4a1313"/><stop offset="0.5978" stop-color="#521414"/><stop offset="0.6196" stop-color="#591515"/><stop offset="0.6413" stop-color="#511414"/><stop offset="0.6630" stop-color="#5e1616"/><stop offset="0.6848" stop-color="#4e1313"/><stop offset="0.7065" stop-color="#5d1616"/><stop offset="0.7283" stop-color="#5b1616"/><stop offset="0.7500" stop-color="#561515"/><stop offset="0.7717" stop-color="#5b1515"/><stop offset="0.7935" stop-color="#511414"/><stop offset="0.8152" stop-color="#591515"/><stop offset="0.8370" stop-color="#581515"/><stop offset="0.8587" stop-color="#521414"/><stop offset="0.8804" stop-color="#511414"/><stop offset="0.9022" stop-color="#561515"/><stop offset="0.9239" stop-color="#4f1414"/><stop offset="0.9457" stop-color="#481212"/><stop offset="0.9674" stop-color="#561515"/><stop offset="0.9891" stop-color="#4b1313"/></linearGradient>
<rect x="200.15" y="162.80" width="12.85" height="46.60" fill="url(#hg14)"/>
<linearGradient id="hg15" x1="0" y1="0" x2="0" y2="1"><stop offset="0.0109" stop-color="#b52525"/><stop offset="0.0326" stop-color="#b82525"/><stop offset="0.0543" stop-color="#b22424"/><stop offset="0.0761" stop-color="#b02424"/><stop offset="0.0978" stop-color="#b02424"/><stop offset="0.1196" stop-color="#b42424"/><stop offset="0.1413" stop-color="#b22424"/><stop offset="0.1630" stop-color="#b02424"/><stop offset="0.1848" stop-color="#b12424"/><stop offset="0.2065" stop-color="#b52525"/><stop offset="0.2283" stop-color="#af2323"/><stop offset="0.2500" stop-color="#b02424"/><stop offset="0.2717" stop-color="#b32424"/><stop offset="0.2935" stop-color="#b02424"/><stop offset="0.3152" stop-color="#ad2323"/><stop offset="0.3370" stop-color="#ae2323"/><stop offset="0.3587" stop-color="#ae2323"/><stop offset="0.3804" stop-color="#ab2323"/><stop offset="0.4022" stop-color="#ac2323"/><stop offset="0.4239" stop-color="#ab2323"/><stop offset="0.4457" stop-color="#af2323"/><stop offset="0.4674" stop-color="#aa2323"/><stop offset="0.4891" stop-color="#ad2323"/><stop offset="0.5109" stop-color="#af2323"/><stop offset="0.5326" stop-color="#ae2323"/><stop offset="0.5543" stop-color="#a92222"/><stop offset="0.5761" stop-color="#aa2323"/><stop offset="0.5978" stop-color="#a72222"/><stop offset="0.6196" stop-color="#a82222"/><stop offset="0.6413" stop-color="#a82222"/><stop offset="0.6630" stop-color="#aa2323"/><stop offset="0.6848" stop-color="#ab2323"/><stop offset="0.7065" stop-color="#a52222"/><stop offset="0.7283" stop-color="#a22121"/><stop offset="0.7500" stop-color="#a52222"/><stop offset="0.7717" stop-color="#a12121"/><stop offset="0.7935" stop-color="#a12121"/><stop offset="0.8152" stop-color="#a72222"/><stop offset="0.8370" stop-color="#a02121"/><stop offset="0.8587" stop-color="#a52222"/><stop offset="0.8804" stop-color="#a22121"/><stop offset="0.9022" stop-color="#a62222"/><stop offset="0.9239" stop-color="#a52222"/><stop offset="0.9457" stop-color="#9e2121"/><stop offset="0.9674" stop-color="#9e2121"/><stop offset="0.9891" stop-color="#a42222"/></linearGradient>
<rect x="212.40" y="162.80" width="12.85" height="46.60" fill="url(#hg15)"/>
<linearGradient id="hg16" x1="0" y1="0" x2="0" y2="1"><stop offset="0.0109" stop-color="#d52a2a"/><stop offset="0.0326" stop-color="#d42a2a"/><stop offset="0.0543" stop-color="#d52a2a"/><stop offset="0.0761" stop-color="#d52a2a"/><stop offset="0.0978" stop-color="#d42a2a"/><stop offset="0.1196" stop-color="#d42a2a"/><stop offset="0.1413" stop-color="#d22929"/><stop offset="0.1630" stop-color="#d32a2a"/><stop offset="0.1848" stop-color="#d32929"/><stop offset="0.2065" stop-color="#d52a2a"/><stop offset="0.2283" stop-color="#d52a2a"/><stop offset="0.2500" stop-color="#d32929"/><stop offset="0.2717" stop-color="#d52a2a"/><stop offset="0.2935" stop-color="#d22929"/><stop offset="0.3152" stop-color="#d22929"/><stop offset="0.3370" stop-color="#d52a2a"/><stop offset="0.3587" stop-color="#d42a2a"/><stop offset="0.3804" stop-color="#d62a2a"/><stop offset="0.4022" stop-color="#d52a2a"/><stop offset="0.4239" stop-color="#d52a2a"/><stop offset="0.4457" stop-color="#d22929"/><stop offset="0.4674" stop-color="#d62a2a"/><stop offset="0.4891" stop-color="#d22929"/><stop offset="0.5109" stop-color="#d52a2a"/><stop offset="0.5326" stop-color="#d62a2a"/><stop offset="0.5543" stop-color="#d52a2a"/><stop offset="0.5761" stop-color="#d02929"/><stop offset="0.5978" stop-color="#ca2828"/><stop offset="0.6196" stop-color="#c62727"/><stop offset="0.6413" stop-color="#c22727"/><stop offset="0.6630" stop-color="#ba2525"/><stop offset="0.6848" stop-color="#b92525"/><stop offset="0.7065" stop-color="#b42424"/><stop offset="0.7283" stop-color="#ad2323"/><stop offset="0.7500" stop-color="#aa2323"/><stop offset="0.7717" stop-color="#a42222"/><stop offset="0.7935" stop-color="#9f2121"/><stop offset="0.8152" stop-color="#9c2020"/><stop offset="0.8370" stop-color="#941f1f"/><stop offset="0.8587" stop-color="#931f1f"/><stop offset="0.8804" stop-color="#8f1e1e"/><stop offset="0.9022" stop-color="#871d1d"/><stop offset="0.9239" stop-color="#851d1d"/><stop offset="0.9457" stop-color="#7d1b1b"/><stop offset="0.9674" stop-color="#7b1b1b"/><stop offset="0.9891" stop-color="#741a1a"/></linearGradient>
<rect x="224.65" y="162.80" width="12.45" height="46.60" fill="url(#hg16)"/>
<text x="212.60" y="159.80" font-size="9.2" text-anchor="middle" fill="#1c1c1c" style="">LINE</text>
<text x="185.90" y="186.10" font-size="8.4" text-anchor="middle" fill="#333" transform="rotate(-90 185.90 186.10)"><tspan style="font-style:italic">n</tspan> = 1,878</text>
<text x="196.82" y="212.60" font-size="8.2" text-anchor="end" fill="#1c1c1c" style="" transform="rotate(-90 196.82 212.60)">XX</text>
<text x="209.07" y="212.60" font-size="8.2" text-anchor="end" fill="#1c1c1c" style="" transform="rotate(-90 209.07 212.60)">XY</text>
<text x="221.32" y="212.60" font-size="8.2" text-anchor="end" fill="#1c1c1c" style="" transform="rotate(-90 221.32 212.60)">XX</text>
<text x="233.57" y="212.60" font-size="8.2" text-anchor="end" fill="#1c1c1c" style="" transform="rotate(-90 233.57 212.60)">XY</text>
<line x1="186.30" y1="226.60" x2="210.00" y2="226.60" stroke="#222" stroke-width="1.1"/>
<line x1="211.60" y1="226.60" x2="235.20" y2="226.60" stroke="#222" stroke-width="1.1"/>
<text x="198.55" y="235.60" font-size="8.2" text-anchor="middle" fill="#1c1c1c" style="">2i/L</text>
<text x="223.85" y="235.60" font-size="8.2" text-anchor="middle" fill="#1c1c1c" style="">S/L</text>
<linearGradient id="hg17" x1="0" y1="0" x2="0" y2="1"><stop offset="0.0109" stop-color="#1c0b0b"/><stop offset="0.0326" stop-color="#1b0b0b"/><stop offset="0.0543" stop-color="#1d0b0b"/><stop offset="0.0761" stop-color="#1b0b0b"/><stop offset="0.0978" stop-color="#1d0b0b"/><stop offset="0.1196" stop-color="#1c0b0b"/><stop offset="0.1413" stop-color="#1b0b0b"/><stop offset="0.1630" stop-color="#1d0b0b"/><stop offset="0.1848" stop-color="#1a0b0b"/><stop offset="0.2065" stop-color="#1c0b0b"/><stop offset="0.2283" stop-color="#1b0b0b"/><stop offset="0.2500" stop-color="#1b0b0b"/><stop offset="0.2717" stop-color="#1c0b0b"/><stop offset="0.2935" stop-color="#1e0b0b"/><stop offset="0.3152" stop-color="#1b0b0b"/><stop offset="0.3370" stop-color="#1b0b0b"/><stop offset="0.3587" stop-color="#1d0b0b"/><stop offset="0.3804" stop-color="#1e0b0b"/><stop offset="0.4022" stop-color="#1d0b0b"/><stop offset="0.4239" stop-color="#1c0b0b"/><stop offset="0.4457" stop-color="#1f0b0b"/><stop offset="0.4674" stop-color="#1b0b0b"/><stop offset="0.4891" stop-color="#1e0b0b"/><stop offset="0.5109" stop-color="#1c0b0b"/><stop offset="0.5326" stop-color="#1b0b0b"/><stop offset="0.5543" stop-color="#1b0b0b"/><stop offset="0.5761" stop-color="#1c0b0b"/><stop offset="0.5978" stop-color="#1e0b0b"/><stop offset="0.6196" stop-color="#1b0b0b"/><stop offset="0.6413" stop-color="#1d0b0b"/><stop offset="0.6630" stop-color="#1d0b0b"/><stop offset="0.6848" stop-color="#1c0b0b"/><stop offset="0.7065" stop-color="#1d0b0b"/><stop offset="0.7283" stop-color="#1b0b0b"/><stop offset="0.7500" stop-color="#1b0b0b"/><stop offset="0.7717" stop-color="#1b0b0b"/><stop offset="0.7935" stop-color="#1d0b0b"/><stop offset="0.8152" stop-color="#1c0b0b"/><stop offset="0.8370" stop-color="#1c0b0b"/><stop offset="0.8587" stop-color="#1d0b0b"/><stop offset="0.8804" stop-color="#1c0b0b"/><stop offset="0.9022" stop-color="#1c0b0b"/><stop offset="0.9239" stop-color="#1e0b0b"/><stop offset="0.9457" stop-color="#1d0b0b"/><stop offset="0.9674" stop-color="#1b0b0b"/><stop offset="0.9891" stop-color="#1d0b0b"/></linearGradient>
<rect x="8.90" y="250.50" width="12.65" height="46.60" fill="url(#hg17)"/>
<linearGradient id="hg18" x1="0" y1="0" x2="0" y2="1"><stop offset="0.0109" stop-color="#761a1a"/><stop offset="0.0326" stop-color="#7d1b1b"/><stop offset="0.0543" stop-color="#7a1b1b"/><stop offset="0.0761" stop-color="#701919"/><stop offset="0.0978" stop-color="#7f1c1c"/><stop offset="0.1196" stop-color="#6d1818"/><stop offset="0.1413" stop-color="#731a1a"/><stop offset="0.1630" stop-color="#7b1b1b"/><stop offset="0.1848" stop-color="#6e1919"/><stop offset="0.2065" stop-color="#751a1a"/><stop offset="0.2283" stop-color="#6b1818"/><stop offset="0.2500" stop-color="#771a1a"/><stop offset="0.2717" stop-color="#751a1a"/><stop offset="0.2935" stop-color="#6c1818"/><stop offset="0.3152" stop-color="#6c1818"/><stop offset="0.3370" stop-color="#591515"/><stop offset="0.3587" stop-color="#591515"/><stop offset="0.3804" stop-color="#4f1313"/><stop offset="0.4022" stop-color="#461212"/><stop offset="0.4239" stop-color="#3b1010"/><stop offset="0.4457" stop-color="#3b1010"/><stop offset="0.4674" stop-color="#360f0f"/><stop offset="0.4891" stop-color="#260d0d"/><stop offset="0.5109" stop-color="#250d0d"/><stop offset="0.5326" stop-color="#160a0a"/><stop offset="0.5543" stop-color="#210c0c"/><stop offset="0.5761" stop-color="#200c0c"/><stop offset="0.5978" stop-color="#270d0d"/><stop offset="0.6196" stop-color="#230c0c"/><stop offset="0.6413" stop-color="#180a0a"/><stop offset="0.6630" stop-color="#1a0b0b"/><stop offset="0.6848" stop-color="#200c0c"/><stop offset="0.7065" stop-color="#160a0a"/><stop offset="0.7283" stop-color="#1c0b0b"/><stop offset="0.7500" stop-color="#160a0a"/><stop offset="0.7717" stop-color="#160a0a"/><stop offset="0.7935" stop-color="#160a0a"/><stop offset="0.8152" stop-color="#220c0c"/><stop offset="0.8370" stop-color="#160a0a"/><stop offset="0.8587" stop-color="#170a0a"/><stop offset="0.8804" stop-color="#1a0b0b"/><stop offset="0.9022" stop-color="#250c0c"/><stop offset="0.9239" stop-color="#160a0a"/><stop offset="0.9457" stop-color="#1b0b0b"/><stop offset="0.9674" stop-color="#1e0b0b"/><stop offset="0.9891" stop-color="#250c0c"/></linearGradient>
<rect x="20.95" y="250.50" width="12.85" height="46.60" fill="url(#hg18)"/>
<linearGradient id="hg19" x1="0" y1="0" x2="0" y2="1"><stop offset="0.0109" stop-color="#af2323"/><stop offset="0.0326" stop-color="#af2323"/><stop offset="0.0543" stop-color="#ac2323"/><stop offset="0.0761" stop-color="#ad2323"/><stop offset="0.0978" stop-color="#ad2323"/><stop offset="0.1196" stop-color="#af2323"/><stop offset="0.1413" stop-color="#af2424"/><stop offset="0.1630" stop-color="#ac2323"/><stop offset="0.1848" stop-color="#ac2323"/><stop offset="0.2065" stop-color="#ac2323"/><stop offset="0.2283" stop-color="#ac2323"/><stop offset="0.2500" stop-color="#ad2323"/><stop offset="0.2717" stop-color="#ae2323"/><stop offset="0.2935" stop-color="#ac2323"/><stop offset="0.3152" stop-color="#aa2323"/><stop offset="0.3370" stop-color="#a82222"/><stop offset="0.3587" stop-color="#a02121"/><stop offset="0.3804" stop-color="#982020"/><stop offset="0.4022" stop-color="#8e1e1e"/><stop offset="0.4239" stop-color="#801c1c"/><stop offset="0.4457" stop-color="#711919"/><stop offset="0.4674" stop-color="#641717"/><stop offset="0.4891" stop-color="#561515"/><stop offset="0.5109" stop-color="#461212"/><stop offset="0.5326" stop-color="#3e1111"/><stop offset="0.5543" stop-color="#330f0f"/><stop offset="0.5761" stop-color="#2c0e0e"/><stop offset="0.5978" stop-color="#260d0d"/><stop offset="0.6196" stop-color="#220c0c"/><stop offset="0.6413" stop-color="#230c0c"/><stop offset="0.6630" stop-color="#210c0c"/><stop offset="0.6848" stop-color="#240c0c"/><stop offset="0.7065" stop-color="#210c0c"/><stop offset="0.7283" stop-color="#210c0c"/><stop offset="0.7500" stop-color="#220c0c"/><stop offset="0.7717" stop-color="#220c0c"/><stop offset="0.7935" stop-color="#220c0c"/><stop offset="0.8152" stop-color="#210c0c"/><stop offset="0.8370" stop-color="#210c0c"/><stop offset="0.8587" stop-color="#210c0c"/><stop offset="0.8804" stop-color="#210c0c"/><stop offset="0.9022" stop-color="#220c0c"/><stop offset="0.9239" stop-color="#210c0c"/><stop offset="0.9457" stop-color="#250c0c"/><stop offset="0.9674" stop-color="#230c0c"/><stop offset="0.9891" stop-color="#210c0c"/></linearGradient>
<rect x="33.20" y="250.50" width="12.85" height="46.60" fill="url(#hg19)"/>
<linearGradient id="hg20" x1="0" y1="0" x2="0" y2="1"><stop offset="0.0109" stop-color="#de2b2b"/><stop offset="0.0326" stop-color="#de2b2b"/><stop offset="0.0543" stop-color="#dd2b2b"/><stop offset="0.0761" stop-color="#dc2b2b"/><stop offset="0.0978" stop-color="#de2b2b"/><stop offset="0.1196" stop-color="#de2b2b"/><stop offset="0.1413" stop-color="#dc2b2b"/><stop offset="0.1630" stop-color="#db2b2b"/><stop offset="0.1848" stop-color="#d92b2b"/><stop offset="0.2065" stop-color="#d92a2a"/><stop offset="0.2283" stop-color="#d92b2b"/><stop offset="0.2500" stop-color="#d82a2a"/><stop offset="0.2717" stop-color="#da2b2b"/><stop offset="0.2935" stop-color="#d72a2a"/><stop offset="0.3152" stop-color="#d62a2a"/><stop offset="0.3370" stop-color="#da2b2b"/><stop offset="0.3587" stop-color="#d72a2a"/><stop offset="0.3804" stop-color="#d32929"/><stop offset="0.4022" stop-color="#cc2828"/><stop offset="0.4239" stop-color="#be2626"/><stop offset="0.4457" stop-color="#b12424"/><stop offset="0.4674" stop-color="#a22121"/><stop offset="0.4891" stop-color="#8f1e1e"/><stop offset="0.5109" stop-color="#7c1b1b"/><stop offset="0.5326" stop-color="#671818"/><stop offset="0.5543" stop-color="#571515"/><stop offset="0.5761" stop-color="#481212"/><stop offset="0.5978" stop-color="#3f1111"/><stop offset="0.6196" stop-color="#370f0f"/><stop offset="0.6413" stop-color="#350f0f"/><stop offset="0.6630" stop-color="#320f0f"/><stop offset="0.6848" stop-color="#310e0e"/><stop offset="0.7065" stop-color="#320f0f"/><stop offset="0.7283" stop-color="#320f0f"/><stop offset="0.7500" stop-color="#300e0e"/><stop offset="0.7717" stop-color="#2e0e0e"/><stop offset="0.7935" stop-color="#2c0e0e"/><stop offset="0.8152" stop-color="#2a0d0d"/><stop offset="0.8370" stop-color="#270d0d"/><stop offset="0.8587" stop-color="#260d0d"/><stop offset="0.8804" stop-color="#240c0c"/><stop offset="0.9022" stop-color="#220c0c"/><stop offset="0.9239" stop-color="#210c0c"/><stop offset="0.9457" stop-color="#210c0c"/><stop offset="0.9674" stop-color="#200c0c"/><stop offset="0.9891" stop-color="#220c0c"/></linearGradient>
<rect x="45.45" y="250.50" width="12.45" height="46.60" fill="url(#hg20)"/>
<text x="33.40" y="247.50" font-size="9.2" text-anchor="middle" fill="#1c1c1c" style="">TSS ± 1,000 bp</text>
<text x="6.70" y="273.80" font-size="8.4" text-anchor="middle" fill="#333" transform="rotate(-90 6.70 273.80)"><tspan style="font-style:italic">n</tspan> = 3,326</text>
<text x="17.62" y="300.30" font-size="8.2" text-anchor="end" fill="#1c1c1c" style="" transform="rotate(-90 17.62 300.30)">XX</text>
<text x="29.88" y="300.30" font-size="8.2" text-anchor="end" fill="#1c1c1c" style="" transform="rotate(-90 29.88 300.30)">XY</text>
<text x="42.12" y="300.30" font-size="8.2" text-anchor="end" fill="#1c1c1c" style="" transform="rotate(-90 42.12 300.30)">XX</text>
<text x="54.38" y="300.30" font-size="8.2" text-anchor="end" fill="#1c1c1c" style="" transform="rotate(-90 54.38 300.30)">XY</text>
<line x1="7.10" y1="314.30" x2="30.80" y2="314.30" stroke="#222" stroke-width="1.1"/>
<line x1="32.40" y1="314.30" x2="56.00" y2="314.30" stroke="#222" stroke-width="1.1"/>
<text x="19.35" y="323.30" font-size="8.2" text-anchor="middle" fill="#1c1c1c" style="">2i/L</text>
<text x="44.65" y="323.30" font-size="8.2" text-anchor="middle" fill="#1c1c1c" style="">S/L</text>
<linearGradient id="hg21" x1="0" y1="0" x2="0" y2="1"><stop offset="0.0109" stop-color="#1b0b0b"/><stop offset="0.0326" stop-color="#1e0b0b"/><stop offset="0.0543" stop-color="#1b0b0b"/><stop offset="0.0761" stop-color="#1d0b0b"/><stop offset="0.0978" stop-color="#1b0b0b"/><stop offset="0.1196" stop-color="#1b0b0b"/><stop offset="0.1413" stop-color="#1f0b0b"/><stop offset="0.1630" stop-color="#1b0b0b"/><stop offset="0.1848" stop-color="#1d0b0b"/><stop offset="0.2065" stop-color="#1c0b0b"/><stop offset="0.2283" stop-color="#1c0b0b"/><stop offset="0.2500" stop-color="#1c0b0b"/><stop offset="0.2717" stop-color="#1b0b0b"/><stop offset="0.2935" stop-color="#1e0b0b"/><stop offset="0.3152" stop-color="#1b0b0b"/><stop offset="0.3370" stop-color="#1b0b0b"/><stop offset="0.3587" stop-color="#1a0b0b"/><stop offset="0.3804" stop-color="#1b0b0b"/><stop offset="0.4022" stop-color="#1c0b0b"/><stop offset="0.4239" stop-color="#1e0b0b"/><stop offset="0.4457" stop-color="#1c0b0b"/><stop offset="0.4674" stop-color="#1b0b0b"/><stop offset="0.4891" stop-color="#1b0b0b"/><stop offset="0.5109" stop-color="#1f0b0b"/><stop offset="0.5326" stop-color="#1b0b0b"/><stop offset="0.5543" stop-color="#1d0b0b"/><stop offset="0.5761" stop-color="#1c0b0b"/><stop offset="0.5978" stop-color="#1d0b0b"/><stop offset="0.6196" stop-color="#1c0b0b"/><stop offset="0.6413" stop-color="#1d0b0b"/><stop offset="0.6630" stop-color="#1c0b0b"/><stop offset="0.6848" stop-color="#1d0b0b"/><stop offset="0.7065" stop-color="#1e0b0b"/><stop offset="0.7283" stop-color="#1d0b0b"/><stop offset="0.7500" stop-color="#1b0b0b"/><stop offset="0.7717" stop-color="#1b0b0b"/><stop offset="0.7935" stop-color="#1e0b0b"/><stop offset="0.8152" stop-color="#1c0b0b"/><stop offset="0.8370" stop-color="#1b0b0b"/><stop offset="0.8587" stop-color="#1e0b0b"/><stop offset="0.8804" stop-color="#1d0b0b"/><stop offset="0.9022" stop-color="#1d0b0b"/><stop offset="0.9239" stop-color="#1e0b0b"/><stop offset="0.9457" stop-color="#1c0b0b"/><stop offset="0.9674" stop-color="#1c0b0b"/><stop offset="0.9891" stop-color="#1e0b0b"/></linearGradient>
<rect x="68.90" y="250.50" width="12.65" height="46.60" fill="url(#hg21)"/>
<linearGradient id="hg22" x1="0" y1="0" x2="0" y2="1"><stop offset="0.0109" stop-color="#4a1313"/><stop offset="0.0326" stop-color="#551414"/><stop offset="0.0543" stop-color="#491313"/><stop offset="0.0761" stop-color="#541414"/><stop offset="0.0978" stop-color="#541414"/><stop offset="0.1196" stop-color="#581515"/><stop offset="0.1413" stop-color="#561515"/><stop offset="0.1630" stop-color="#501414"/><stop offset="0.1848" stop-color="#4b1313"/><stop offset="0.2065" stop-color="#4a1313"/><stop offset="0.2283" stop-color="#511414"/><stop offset="0.2500" stop-color="#501414"/><stop offset="0.2717" stop-color="#491212"/><stop offset="0.2935" stop-color="#571515"/><stop offset="0.3152" stop-color="#501414"/><stop offset="0.3370" stop-color="#541414"/><stop offset="0.3587" stop-color="#4b1313"/><stop offset="0.3804" stop-color="#4c1313"/><stop offset="0.4022" stop-color="#481212"/><stop offset="0.4239" stop-color="#4e1313"/><stop offset="0.4457" stop-color="#4c1313"/><stop offset="0.4674" stop-color="#4f1313"/><stop offset="0.4891" stop-color="#4e1313"/><stop offset="0.5109" stop-color="#561515"/><stop offset="0.5326" stop-color="#571515"/><stop offset="0.5543" stop-color="#4b1313"/><stop offset="0.5761" stop-color="#4f1313"/><stop offset="0.5978" stop-color="#4b1313"/><stop offset="0.6196" stop-color="#521414"/><stop offset="0.6413" stop-color="#561515"/><stop offset="0.6630" stop-color="#481212"/><stop offset="0.6848" stop-color="#501414"/><stop offset="0.7065" stop-color="#471212"/><stop offset="0.7283" stop-color="#411111"/><stop offset="0.7500" stop-color="#4d1313"/><stop offset="0.7717" stop-color="#441212"/><stop offset="0.7935" stop-color="#401111"/><stop offset="0.8152" stop-color="#441212"/><stop offset="0.8370" stop-color="#3f1111"/><stop offset="0.8587" stop-color="#411111"/><stop offset="0.8804" stop-color="#401111"/><stop offset="0.9022" stop-color="#3f1111"/><stop offset="0.9239" stop-color="#401111"/><stop offset="0.9457" stop-color="#3a1010"/><stop offset="0.9674" stop-color="#350f0f"/><stop offset="0.9891" stop-color="#340f0f"/></linearGradient>
<rect x="80.95" y="250.50" width="12.85" height="46.60" fill="url(#hg22)"/>
<linearGradient id="hg23" x1="0" y1="0" x2="0" y2="1"><stop offset="0.0109" stop-color="#b22424"/><stop offset="0.0326" stop-color="#b62525"/><stop offset="0.0543" stop-color="#b52424"/><stop offset="0.0761" stop-color="#b82525"/><stop offset="0.0978" stop-color="#b62525"/><stop offset="0.1196" stop-color="#b82525"/><stop offset="0.1413" stop-color="#ba2525"/><stop offset="0.1630" stop-color="#b22424"/><stop offset="0.1848" stop-color="#b22424"/><stop offset="0.2065" stop-color="#b32424"/><stop offset="0.2283" stop-color="#b52424"/><stop offset="0.2500" stop-color="#b62525"/><stop offset="0.2717" stop-color="#b82525"/><stop offset="0.2935" stop-color="#b52424"/><stop offset="0.3152" stop-color="#ba2525"/><stop offset="0.3370" stop-color="#b22424"/><stop offset="0.3587" stop-color="#b92525"/><stop offset="0.3804" stop-color="#b32424"/><stop offset="0.4022" stop-color="#b92525"/><stop offset="0.4239" stop-color="#b22424"/><stop offset="0.4457" stop-color="#ba2525"/><stop offset="0.4674" stop-color="#b82525"/><stop offset="0.4891" stop-color="#ba2525"/><stop offset="0.5109" stop-color="#b72525"/><stop offset="0.5326" stop-color="#b32424"/><stop offset="0.5543" stop-color="#ba2525"/><stop offset="0.5761" stop-color="#b52525"/><stop offset="0.5978" stop-color="#b22424"/><stop offset="0.6196" stop-color="#b72525"/><stop offset="0.6413" stop-color="#b62525"/><stop offset="0.6630" stop-color="#b62525"/><stop offset="0.6848" stop-color="#b32424"/><stop offset="0.7065" stop-color="#b32424"/><stop offset="0.7283" stop-color="#b72525"/><stop offset="0.7500" stop-color="#b52525"/><stop offset="0.7717" stop-color="#b32424"/><stop offset="0.7935" stop-color="#b52525"/><stop offset="0.8152" stop-color="#b82525"/><stop offset="0.8370" stop-color="#b62525"/><stop offset="0.8587" stop-color="#ad2323"/><stop offset="0.8804" stop-color="#a22121"/><stop offset="0.9022" stop-color="#951f1f"/><stop offset="0.9239" stop-color="#861d1d"/><stop offset="0.9457" stop-color="#7a1b1b"/><stop offset="0.9674" stop-color="#721919"/><stop offset="0.9891" stop-color="#6a1818"/></linearGradient>
<rect x="93.20" y="250.50" width="12.85" height="46.60" fill="url(#hg23)"/>
<linearGradient id="hg24" x1="0" y1="0" x2="0" y2="1"><stop offset="0.0109" stop-color="#d92b2b"/><stop offset="0.0326" stop-color="#d92a2a"/><stop offset="0.0543" stop-color="#d82a2a"/><stop offset="0.0761" stop-color="#d62a2a"/><stop offset="0.0978" stop-color="#d72a2a"/><stop offset="0.1196" stop-color="#d72a2a"/><stop offset="0.1413" stop-color="#d52a2a"/><stop offset="0.1630" stop-color="#d92a2a"/><stop offset="0.1848" stop-color="#d82a2a"/><stop offset="0.2065" stop-color="#d62a2a"/><stop offset="0.2283" stop-color="#d72a2a"/><stop offset="0.2500" stop-color="#d42a2a"/><stop offset="0.2717" stop-color="#d42a2a"/><stop offset="0.2935" stop-color="#d52a2a"/><stop offset="0.3152" stop-color="#d62a2a"/><stop offset="0.3370" stop-color="#d52a2a"/><stop offset="0.3587" stop-color="#d22929"/><stop offset="0.3804" stop-color="#d52a2a"/><stop offset="0.4022" stop-color="#d62a2a"/><stop offset="0.4239" stop-color="#d52a2a"/><stop offset="0.4457" stop-color="#d52a2a"/><stop offset="0.4674" stop-color="#d52a2a"/><stop offset="0.4891" stop-color="#d22929"/><stop offset="0.5109" stop-color="#d22929"/><stop offset="0.5326" stop-color="#d32929"/><stop offset="0.5543" stop-color="#d42a2a"/><stop offset="0.5761" stop-color="#d22929"/><stop offset="0.5978" stop-color="#d42a2a"/><stop offset="0.6196" stop-color="#d32a2a"/><stop offset="0.6413" stop-color="#d22929"/><stop offset="0.6630" stop-color="#d22929"/><stop offset="0.6848" stop-color="#d32929"/><stop offset="0.7065" stop-color="#d22929"/><stop offset="0.7283" stop-color="#d02929"/><stop offset="0.7500" stop-color="#d22929"/><stop offset="0.7717" stop-color="#cf2929"/><stop offset="0.7935" stop-color="#cd2929"/><stop offset="0.8152" stop-color="#c62727"/><stop offset="0.8370" stop-color="#b62525"/><stop offset="0.8587" stop-color="#9f2121"/><stop offset="0.8804" stop-color="#891d1d"/><stop offset="0.9022" stop-color="#741a1a"/><stop offset="0.9239" stop-color="#611717"/><stop offset="0.9457" stop-color="#511414"/><stop offset="0.9674" stop-color="#491212"/><stop offset="0.9891" stop-color="#471212"/></linearGradient>
<rect x="105.45" y="250.50" width="12.45" height="46.60" fill="url(#hg24)"/>
<text x="93.40" y="247.50" font-size="9.2" text-anchor="middle" fill="#1c1c1c" style="">Intergenic</text>
<text x="66.70" y="273.80" font-size="8.4" text-anchor="middle" fill="#333" transform="rotate(-90 66.70 273.80)"><tspan style="font-style:italic">n</tspan> = 11,531</text>
<text x="77.62" y="300.30" font-size="8.2" text-anchor="end" fill="#1c1c1c" style="" transform="rotate(-90 77.62 300.30)">XX</text>
<text x="89.88" y="300.30" font-size="8.2" text-anchor="end" fill="#1c1c1c" style="" transform="rotate(-90 89.88 300.30)">XY</text>
<text x="102.12" y="300.30" font-size="8.2" text-anchor="end" fill="#1c1c1c" style="" transform="rotate(-90 102.12 300.30)">XX</text>
<text x="114.38" y="300.30" font-size="8.2" text-anchor="end" fill="#1c1c1c" style="" transform="rotate(-90 114.38 300.30)">XY</text>
<line x1="67.10" y1="314.30" x2="90.80" y2="314.30" stroke="#222" stroke-width="1.1"/>
<line x1="92.40" y1="314.30" x2="116.00" y2="314.30" stroke="#222" stroke-width="1.1"/>
<text x="79.35" y="323.30" font-size="8.2" text-anchor="middle" fill="#1c1c1c" style="">2i/L</text>
<text x="104.65" y="323.30" font-size="8.2" text-anchor="middle" fill="#1c1c1c" style="">S/L</text>
<linearGradient id="hg25" x1="0" y1="0" x2="0" y2="1"><stop offset="0.0109" stop-color="#1e0b0b"/><stop offset="0.0326" stop-color="#1e0b0b"/><stop offset="0.0543" stop-color="#1d0b0b"/><stop offset="0.0761" stop-color="#200c0c"/><stop offset="0.0978" stop-color="#1d0b0b"/><stop offset="0.1196" stop-color="#1f0b0b"/><stop offset="0.1413" stop-color="#200c0c"/><stop offset="0.1630" stop-color="#1d0b0b"/><stop offset="0.1848" stop-color="#1f0b0b"/><stop offset="0.2065" stop-color="#1f0c0c"/><stop offset="0.2283" stop-color="#1d0b0b"/><stop offset="0.2500" stop-color="#1e0b0b"/><stop offset="0.2717" stop-color="#200c0c"/><stop offset="0.2935" stop-color="#1e0b0b"/><stop offset="0.3152" stop-color="#200c0c"/><stop offset="0.3370" stop-color="#1d0b0b"/><stop offset="0.3587" stop-color="#1e0b0b"/><stop offset="0.3804" stop-color="#1d0b0b"/><stop offset="0.4022" stop-color="#1f0b0b"/><stop offset="0.4239" stop-color="#200c0c"/><stop offset="0.4457" stop-color="#1f0c0c"/><stop offset="0.4674" stop-color="#200c0c"/><stop offset="0.4891" stop-color="#1e0b0b"/><stop offset="0.5109" stop-color="#200c0c"/><stop offset="0.5326" stop-color="#1d0b0b"/><stop offset="0.5543" stop-color="#1e0b0b"/><stop offset="0.5761" stop-color="#1f0c0c"/><stop offset="0.5978" stop-color="#200c0c"/><stop offset="0.6196" stop-color="#1e0b0b"/><stop offset="0.6413" stop-color="#1d0b0b"/><stop offset="0.6630" stop-color="#1e0b0b"/><stop offset="0.6848" stop-color="#1d0b0b"/><stop offset="0.7065" stop-color="#1e0b0b"/><stop offset="0.7283" stop-color="#200c0c"/><stop offset="0.7500" stop-color="#1d0b0b"/><stop offset="0.7717" stop-color="#200c0c"/><stop offset="0.7935" stop-color="#200c0c"/><stop offset="0.8152" stop-color="#1d0b0b"/><stop offset="0.8370" stop-color="#1e0b0b"/><stop offset="0.8587" stop-color="#1f0b0b"/><stop offset="0.8804" stop-color="#1d0b0b"/><stop offset="0.9022" stop-color="#1e0b0b"/><stop offset="0.9239" stop-color="#200c0c"/><stop offset="0.9457" stop-color="#1d0b0b"/><stop offset="0.9674" stop-color="#1f0c0c"/><stop offset="0.9891" stop-color="#1d0b0b"/></linearGradient>
<rect x="128.90" y="250.50" width="12.65" height="46.60" fill="url(#hg25)"/>
<linearGradient id="hg26" x1="0" y1="0" x2="0" y2="1"><stop offset="0.0109" stop-color="#541414"/><stop offset="0.0326" stop-color="#591515"/><stop offset="0.0543" stop-color="#4d1313"/><stop offset="0.0761" stop-color="#4a1313"/><stop offset="0.0978" stop-color="#4b1313"/><stop offset="0.1196" stop-color="#531414"/><stop offset="0.1413" stop-color="#4a1313"/><stop offset="0.1630" stop-color="#4b1313"/><stop offset="0.1848" stop-color="#521414"/><stop offset="0.2065" stop-color="#5a1515"/><stop offset="0.2283" stop-color="#511414"/><stop offset="0.2500" stop-color="#511414"/><stop offset="0.2717" stop-color="#551414"/><stop offset="0.2935" stop-color="#4b1313"/><stop offset="0.3152" stop-color="#541414"/><stop offset="0.3370" stop-color="#4d1313"/><stop offset="0.3587" stop-color="#541414"/><stop offset="0.3804" stop-color="#5a1515"/><stop offset="0.4022" stop-color="#4b1313"/><stop offset="0.4239" stop-color="#531414"/><stop offset="0.4457" stop-color="#541414"/><stop offset="0.4674" stop-color="#4c1313"/><stop offset="0.4891" stop-color="#4e1313"/><stop offset="0.5109" stop-color="#5a1515"/><stop offset="0.5326" stop-color="#591515"/><stop offset="0.5543" stop-color="#491313"/><stop offset="0.5761" stop-color="#521414"/><stop offset="0.5978" stop-color="#551515"/><stop offset="0.6196" stop-color="#481212"/><stop offset="0.6413" stop-color="#4d1313"/><stop offset="0.6630" stop-color="#421111"/><stop offset="0.6848" stop-color="#471212"/><stop offset="0.7065" stop-color="#4b1313"/><stop offset="0.7283" stop-color="#481212"/><stop offset="0.7500" stop-color="#4a1313"/><stop offset="0.7717" stop-color="#3d1111"/><stop offset="0.7935" stop-color="#411111"/><stop offset="0.8152" stop-color="#481212"/><stop offset="0.8370" stop-color="#421111"/><stop offset="0.8587" stop-color="#3f1111"/><stop offset="0.8804" stop-color="#3d1111"/><stop offset="0.9022" stop-color="#461212"/><stop offset="0.9239" stop-color="#3e1111"/><stop offset="0.9457" stop-color="#330f0f"/><stop offset="0.9674" stop-color="#3f1111"/><stop offset="0.9891" stop-color="#360f0f"/></linearGradient>
<rect x="140.95" y="250.50" width="12.85" height="46.60" fill="url(#hg26)"/>
<linearGradient id="hg27" x1="0" y1="0" x2="0" y2="1"><stop offset="0.0109" stop-color="#ad2323"/><stop offset="0.0326" stop-color="#ab2323"/><stop offset="0.0543" stop-color="#ad2323"/><stop offset="0.0761" stop-color="#ac2323"/><stop offset="0.0978" stop-color="#aa2323"/><stop offset="0.1196" stop-color="#ae2323"/><stop offset="0.1413" stop-color="#aa2323"/><stop offset="0.1630" stop-color="#b02424"/><stop offset="0.1848" stop-color="#a92323"/><stop offset="0.2065" stop-color="#b02424"/><stop offset="0.2283" stop-color="#b02424"/><stop offset="0.2500" stop-color="#ad2323"/><stop offset="0.2717" stop-color="#af2424"/><stop offset="0.2935" stop-color="#ab2323"/><stop offset="0.3152" stop-color="#af2424"/><stop offset="0.3370" stop-color="#ad2323"/><stop offset="0.3587" stop-color="#ab2323"/><stop offset="0.3804" stop-color="#b12424"/><stop offset="0.4022" stop-color="#ac2323"/><stop offset="0.4239" stop-color="#ac2323"/><stop offset="0.4457" stop-color="#b02424"/><stop offset="0.4674" stop-color="#ac2323"/><stop offset="0.4891" stop-color="#af2323"/><stop offset="0.5109" stop-color="#aa2323"/><stop offset="0.5326" stop-color="#b02424"/><stop offset="0.5543" stop-color="#ab2323"/><stop offset="0.5761" stop-color="#a92323"/><stop offset="0.5978" stop-color="#b12424"/><stop offset="0.6196" stop-color="#a82222"/><stop offset="0.6413" stop-color="#ad2323"/><stop offset="0.6630" stop-color="#ab2323"/><stop offset="0.6848" stop-color="#a52222"/><stop offset="0.7065" stop-color="#9d2121"/><stop offset="0.7283" stop-color="#9c2020"/><stop offset="0.7500" stop-color="#9a2020"/><stop offset="0.7717" stop-color="#9a2020"/><stop offset="0.7935" stop-color="#992020"/><stop offset="0.8152" stop-color="#9a2020"/><stop offset="0.8370" stop-color="#921f1f"/><stop offset="0.8587" stop-color="#8e1e1e"/><stop offset="0.8804" stop-color="#8f1e1e"/><stop offset="0.9022" stop-color="#891d1d"/><stop offset="0.9239" stop-color="#871d1d"/><stop offset="0.9457" stop-color="#881d1d"/><stop offset="0.9674" stop-color="#871d1d"/><stop offset="0.9891" stop-color="#7f1c1c"/></linearGradient>
<rect x="153.20" y="250.50" width="12.85" height="46.60" fill="url(#hg27)"/>
<linearGradient id="hg28" x1="0" y1="0" x2="0" y2="1"><stop offset="0.0109" stop-color="#d42a2a"/><stop offset="0.0326" stop-color="#d52a2a"/><stop offset="0.0543" stop-color="#d52a2a"/><stop offset="0.0761" stop-color="#d42a2a"/><stop offset="0.0978" stop-color="#d62a2a"/><stop offset="0.1196" stop-color="#d32929"/><stop offset="0.1413" stop-color="#d52a2a"/><stop offset="0.1630" stop-color="#d52a2a"/><stop offset="0.1848" stop-color="#d62a2a"/><stop offset="0.2065" stop-color="#d42a2a"/><stop offset="0.2283" stop-color="#d22929"/><stop offset="0.2500" stop-color="#d22929"/><stop offset="0.2717" stop-color="#d42a2a"/><stop offset="0.2935" stop-color="#d32929"/><stop offset="0.3152" stop-color="#d52a2a"/><stop offset="0.3370" stop-color="#d22929"/><stop offset="0.3587" stop-color="#d52a2a"/><stop offset="0.3804" stop-color="#d32929"/><stop offset="0.4022" stop-color="#d22929"/><stop offset="0.4239" stop-color="#d32929"/><stop offset="0.4457" stop-color="#d42a2a"/><stop offset="0.4674" stop-color="#d42a2a"/><stop offset="0.4891" stop-color="#d42a2a"/><stop offset="0.5109" stop-color="#d32929"/><stop offset="0.5326" stop-color="#d42a2a"/><stop offset="0.5543" stop-color="#d52a2a"/><stop offset="0.5761" stop-color="#cd2929"/><stop offset="0.5978" stop-color="#c92828"/><stop offset="0.6196" stop-color="#c02626"/><stop offset="0.6413" stop-color="#be2626"/><stop offset="0.6630" stop-color="#b82525"/><stop offset="0.6848" stop-color="#b12424"/><stop offset="0.7065" stop-color="#ab2323"/><stop offset="0.7283" stop-color="#a52222"/><stop offset="0.7500" stop-color="#a12121"/><stop offset="0.7717" stop-color="#982020"/><stop offset="0.7935" stop-color="#941f1f"/><stop offset="0.8152" stop-color="#8e1e1e"/><stop offset="0.8370" stop-color="#871d1d"/><stop offset="0.8587" stop-color="#841c1c"/><stop offset="0.8804" stop-color="#7e1b1b"/><stop offset="0.9022" stop-color="#751a1a"/><stop offset="0.9239" stop-color="#721919"/><stop offset="0.9457" stop-color="#6b1818"/><stop offset="0.9674" stop-color="#661717"/><stop offset="0.9891" stop-color="#611616"/></linearGradient>
<rect x="165.45" y="250.50" width="12.45" height="46.60" fill="url(#hg28)"/>
<text x="153.40" y="247.50" font-size="9.2" text-anchor="middle" fill="#1c1c1c" style="">Intron</text>
<text x="126.70" y="273.80" font-size="8.4" text-anchor="middle" fill="#333" transform="rotate(-90 126.70 273.80)"><tspan style="font-style:italic">n</tspan> = 9,204</text>
<text x="137.62" y="300.30" font-size="8.2" text-anchor="end" fill="#1c1c1c" style="" transform="rotate(-90 137.62 300.30)">XX</text>
<text x="149.88" y="300.30" font-size="8.2" text-anchor="end" fill="#1c1c1c" style="" transform="rotate(-90 149.88 300.30)">XY</text>
<text x="162.12" y="300.30" font-size="8.2" text-anchor="end" fill="#1c1c1c" style="" transform="rotate(-90 162.12 300.30)">XX</text>
<text x="174.38" y="300.30" font-size="8.2" text-anchor="end" fill="#1c1c1c" style="" transform="rotate(-90 174.38 300.30)">XY</text>
<line x1="127.10" y1="314.30" x2="150.80" y2="314.30" stroke="#222" stroke-width="1.1"/>
<line x1="152.40" y1="314.30" x2="176.00" y2="314.30" stroke="#222" stroke-width="1.1"/>
<text x="139.35" y="323.30" font-size="8.2" text-anchor="middle" fill="#1c1c1c" style="">2i/L</text>
<text x="164.65" y="323.30" font-size="8.2" text-anchor="middle" fill="#1c1c1c" style="">S/L</text>
<linearGradient id="hg29" x1="0" y1="0" x2="0" y2="1"><stop offset="0.0109" stop-color="#1f0c0c"/><stop offset="0.0326" stop-color="#1e0b0b"/><stop offset="0.0543" stop-color="#1f0c0c"/><stop offset="0.0761" stop-color="#1c0b0b"/><stop offset="0.0978" stop-color="#210c0c"/><stop offset="0.1196" stop-color="#210c0c"/><stop offset="0.1413" stop-color="#200c0c"/><stop offset="0.1630" stop-color="#1c0b0b"/><stop offset="0.1848" stop-color="#1f0b0b"/><stop offset="0.2065" stop-color="#1d0b0b"/><stop offset="0.2283" stop-color="#1c0b0b"/><stop offset="0.2500" stop-color="#230c0c"/><stop offset="0.2717" stop-color="#230c0c"/><stop offset="0.2935" stop-color="#1b0b0b"/><stop offset="0.3152" stop-color="#220c0c"/><stop offset="0.3370" stop-color="#200c0c"/><stop offset="0.3587" stop-color="#1e0b0b"/><stop offset="0.3804" stop-color="#1d0b0b"/><stop offset="0.4022" stop-color="#200c0c"/><stop offset="0.4239" stop-color="#1e0b0b"/><stop offset="0.4457" stop-color="#200c0c"/><stop offset="0.4674" stop-color="#200c0c"/><stop offset="0.4891" stop-color="#1b0b0b"/><stop offset="0.5109" stop-color="#210c0c"/><stop offset="0.5326" stop-color="#230c0c"/><stop offset="0.5543" stop-color="#230c0c"/><stop offset="0.5761" stop-color="#200c0c"/><stop offset="0.5978" stop-color="#1b0b0b"/><stop offset="0.6196" stop-color="#1a0b0b"/><stop offset="0.6413" stop-color="#1b0b0b"/><stop offset="0.6630" stop-color="#220c0c"/><stop offset="0.6848" stop-color="#1d0b0b"/><stop offset="0.7065" stop-color="#1d0b0b"/><stop offset="0.7283" stop-color="#220c0c"/><stop offset="0.7500" stop-color="#1d0b0b"/><stop offset="0.7717" stop-color="#1f0c0c"/><stop offset="0.7935" stop-color="#1e0b0b"/><stop offset="0.8152" stop-color="#1b0b0b"/><stop offset="0.8370" stop-color="#1f0c0c"/><stop offset="0.8587" stop-color="#220c0c"/><stop offset="0.8804" stop-color="#1c0b0b"/><stop offset="0.9022" stop-color="#1c0b0b"/><stop offset="0.9239" stop-color="#1e0b0b"/><stop offset="0.9457" stop-color="#1b0b0b"/><stop offset="0.9674" stop-color="#1f0b0b"/><stop offset="0.9891" stop-color="#210c0c"/></linearGradient>
<rect x="188.10" y="250.50" width="12.65" height="46.60" fill="url(#hg29)"/>
<linearGradient id="hg30" x1="0" y1="0" x2="0" y2="1"><stop offset="0.0109" stop-color="#621717"/><stop offset="0.0326" stop-color="#5c1616"/><stop offset="0.0543" stop-color="#6a1818"/><stop offset="0.0761" stop-color="#4b1313"/><stop offset="0.0978" stop-color="#5d1616"/><stop offset="0.1196" stop-color="#541414"/><stop offset="0.1413" stop-color="#5e1616"/><stop offset="0.1630" stop-color="#491212"/><stop offset="0.1848" stop-color="#651717"/><stop offset="0.2065" stop-color="#471212"/><stop offset="0.2283" stop-color="#4a1313"/><stop offset="0.2500" stop-color="#661717"/><stop offset="0.2717" stop-color="#6c1818"/><stop offset="0.2935" stop-color="#551515"/><stop offset="0.3152" stop-color="#541414"/><stop offset="0.3370" stop-color="#4c1313"/><stop offset="0.3587" stop-color="#4e1313"/><stop offset="0.3804" stop-color="#5c1616"/><stop offset="0.4022" stop-color="#491212"/><stop offset="0.4239" stop-color="#461212"/><stop offset="0.4457" stop-color="#541414"/><stop offset="0.4674" stop-color="#481212"/><stop offset="0.4891" stop-color="#5c1616"/><stop offset="0.5109" stop-color="#631717"/><stop offset="0.5326" stop-color="#611717"/><stop offset="0.5543" stop-color="#541414"/><stop offset="0.5761" stop-color="#4e1313"/><stop offset="0.5978" stop-color="#521414"/><stop offset="0.6196" stop-color="#3f1111"/><stop offset="0.6413" stop-color="#5d1616"/><stop offset="0.6630" stop-color="#4d1313"/><stop offset="0.6848" stop-color="#4c1313"/><stop offset="0.7065" stop-color="#411111"/><stop offset="0.7283" stop-color="#511414"/><stop offset="0.7500" stop-color="#571515"/><stop offset="0.7717" stop-color="#4e1313"/><stop offset="0.7935" stop-color="#631717"/><stop offset="0.8152" stop-color="#5a1515"/><stop offset="0.8370" stop-color="#471212"/><stop offset="0.8587" stop-color="#531414"/><stop offset="0.8804" stop-color="#631717"/><stop offset="0.9022" stop-color="#521414"/><stop offset="0.9239" stop-color="#561515"/><stop offset="0.9457" stop-color="#3e1111"/><stop offset="0.9674" stop-color="#501414"/><stop offset="0.9891" stop-color="#4f1313"/></linearGradient>
<rect x="200.15" y="250.50" width="12.85" height="46.60" fill="url(#hg30)"/>
<linearGradient id="hg31" x1="0" y1="0" x2="0" y2="1"><stop offset="0.0109" stop-color="#c12626"/><stop offset="0.0326" stop-color="#c12727"/><stop offset="0.0543" stop-color="#c52727"/><stop offset="0.0761" stop-color="#c42727"/><stop offset="0.0978" stop-color="#c32727"/><stop offset="0.1196" stop-color="#bc2626"/><stop offset="0.1413" stop-color="#c22727"/><stop offset="0.1630" stop-color="#cd2828"/><stop offset="0.1848" stop-color="#c12626"/><stop offset="0.2065" stop-color="#b92525"/><stop offset="0.2283" stop-color="#b82525"/><stop offset="0.2500" stop-color="#c42727"/><stop offset="0.2717" stop-color="#b92525"/><stop offset="0.2935" stop-color="#ba2525"/><stop offset="0.3152" stop-color="#ba2525"/><stop offset="0.3370" stop-color="#c22727"/><stop offset="0.3587" stop-color="#cd2929"/><stop offset="0.3804" stop-color="#c22727"/><stop offset="0.4022" stop-color="#c22727"/><stop offset="0.4239" stop-color="#c12727"/><stop offset="0.4457" stop-color="#c32727"/><stop offset="0.4674" stop-color="#c22727"/><stop offset="0.4891" stop-color="#c82828"/><stop offset="0.5109" stop-color="#cb2828"/><stop offset="0.5326" stop-color="#c72828"/><stop offset="0.5543" stop-color="#c12727"/><stop offset="0.5761" stop-color="#c62727"/><stop offset="0.5978" stop-color="#cc2828"/><stop offset="0.6196" stop-color="#bb2626"/><stop offset="0.6413" stop-color="#bd2626"/><stop offset="0.6630" stop-color="#c52727"/><stop offset="0.6848" stop-color="#c72727"/><stop offset="0.7065" stop-color="#c62727"/><stop offset="0.7283" stop-color="#c52727"/><stop offset="0.7500" stop-color="#ca2828"/><stop offset="0.7717" stop-color="#c22727"/><stop offset="0.7935" stop-color="#c92828"/><stop offset="0.8152" stop-color="#cd2828"/><stop offset="0.8370" stop-color="#bd2626"/><stop offset="0.8587" stop-color="#b62525"/><stop offset="0.8804" stop-color="#9c2020"/><stop offset="0.9022" stop-color="#881d1d"/><stop offset="0.9239" stop-color="#621717"/><stop offset="0.9457" stop-color="#6b1818"/><stop offset="0.9674" stop-color="#671818"/><stop offset="0.9891" stop-color="#6c1818"/></linearGradient>
<rect x="212.40" y="250.50" width="12.85" height="46.60" fill="url(#hg31)"/>
<linearGradient id="hg32" x1="0" y1="0" x2="0" y2="1"><stop offset="0.0109" stop-color="#e12c2c"/><stop offset="0.0326" stop-color="#db2b2b"/><stop offset="0.0543" stop-color="#de2b2b"/><stop offset="0.0761" stop-color="#da2b2b"/><stop offset="0.0978" stop-color="#de2b2b"/><stop offset="0.1196" stop-color="#e02c2c"/><stop offset="0.1413" stop-color="#da2b2b"/><stop offset="0.1630" stop-color="#db2b2b"/><stop offset="0.1848" stop-color="#d92b2b"/><stop offset="0.2065" stop-color="#da2b2b"/><stop offset="0.2283" stop-color="#da2b2b"/><stop offset="0.2500" stop-color="#d92b2b"/><stop offset="0.2717" stop-color="#e12c2c"/><stop offset="0.2935" stop-color="#e02c2c"/><stop offset="0.3152" stop-color="#dc2b2b"/><stop offset="0.3370" stop-color="#df2b2b"/><stop offset="0.3587" stop-color="#de2b2b"/><stop offset="0.3804" stop-color="#dd2b2b"/><stop offset="0.4022" stop-color="#dc2b2b"/><stop offset="0.4239" stop-color="#de2b2b"/><stop offset="0.4457" stop-color="#dd2b2b"/><stop offset="0.4674" stop-color="#db2b2b"/><stop offset="0.4891" stop-color="#dc2b2b"/><stop offset="0.5109" stop-color="#de2b2b"/><stop offset="0.5326" stop-color="#de2b2b"/><stop offset="0.5543" stop-color="#da2b2b"/><stop offset="0.5761" stop-color="#de2b2b"/><stop offset="0.5978" stop-color="#e02c2c"/><stop offset="0.6196" stop-color="#e02c2c"/><stop offset="0.6413" stop-color="#de2b2b"/><stop offset="0.6630" stop-color="#d92b2b"/><stop offset="0.6848" stop-color="#dc2b2b"/><stop offset="0.7065" stop-color="#d92b2b"/><stop offset="0.7283" stop-color="#d92a2a"/><stop offset="0.7500" stop-color="#db2b2b"/><stop offset="0.7717" stop-color="#d72a2a"/><stop offset="0.7935" stop-color="#cc2828"/><stop offset="0.8152" stop-color="#b62525"/><stop offset="0.8370" stop-color="#9a2020"/><stop offset="0.8587" stop-color="#841c1c"/><stop offset="0.8804" stop-color="#691818"/><stop offset="0.9022" stop-color="#541414"/><stop offset="0.9239" stop-color="#421111"/><stop offset="0.9457" stop-color="#3d1010"/><stop offset="0.9674" stop-color="#3c1010"/><stop offset="0.9891" stop-color="#3f1111"/></linearGradient>
<rect x="224.65" y="250.50" width="12.45" height="46.60" fill="url(#hg32)"/>
<text x="212.60" y="247.50" font-size="9.2" text-anchor="middle" fill="#1c1c1c" style="">SINE</text>
<text x="185.90" y="273.80" font-size="8.4" text-anchor="middle" fill="#333" transform="rotate(-90 185.90 273.80)"><tspan style="font-style:italic">n</tspan> = 183</text>
<text x="196.82" y="300.30" font-size="8.2" text-anchor="end" fill="#1c1c1c" style="" transform="rotate(-90 196.82 300.30)">XX</text>
<text x="209.07" y="300.30" font-size="8.2" text-anchor="end" fill="#1c1c1c" style="" transform="rotate(-90 209.07 300.30)">XY</text>
<text x="221.32" y="300.30" font-size="8.2" text-anchor="end" fill="#1c1c1c" style="" transform="rotate(-90 221.32 300.30)">XX</text>
<text x="233.57" y="300.30" font-size="8.2" text-anchor="end" fill="#1c1c1c" style="" transform="rotate(-90 233.57 300.30)">XY</text>
<line x1="186.30" y1="314.30" x2="210.00" y2="314.30" stroke="#222" stroke-width="1.1"/>
<line x1="211.60" y1="314.30" x2="235.20" y2="314.30" stroke="#222" stroke-width="1.1"/>
<text x="198.55" y="323.30" font-size="8.2" text-anchor="middle" fill="#1c1c1c" style="">2i/L</text>
<text x="223.85" y="323.30" font-size="8.2" text-anchor="middle" fill="#1c1c1c" style="">S/L</text>
<defs><linearGradient id="rg" x1="0" y1="1" x2="0" y2="0"><stop offset="0" stop-color="#140808"/><stop offset="1" stop-color="#e02a2a"/></linearGradient></defs>
<rect x="263.80" y="214.60" width="6.00" height="67.00" fill="url(#rg)"/>
<text x="260.90" y="282.00" font-size="7.9" text-anchor="middle" fill="#1c1c1c" style="" transform="rotate(-90 260.90 282.00)">0</text>
<text x="260.90" y="268.42" font-size="7.9" text-anchor="middle" fill="#1c1c1c" style="" transform="rotate(-90 260.90 268.42)">20</text>
<text x="260.90" y="254.84" font-size="7.9" text-anchor="middle" fill="#1c1c1c" style="" transform="rotate(-90 260.90 254.84)">40</text>
<text x="260.90" y="241.26" font-size="7.9" text-anchor="middle" fill="#1c1c1c" style="" transform="rotate(-90 260.90 241.26)">60</text>
<text x="260.90" y="227.68" font-size="7.9" text-anchor="middle" fill="#1c1c1c" style="" transform="rotate(-90 260.90 227.68)">80</text>
<text x="260.90" y="214.10" font-size="7.9" text-anchor="middle" fill="#1c1c1c" style="" transform="rotate(-90 260.90 214.10)">100</text>
<text x="268.60" y="207.00" font-size="7.8" text-anchor="middle" fill="#1c1c1c" style="" transform="rotate(-90 268.60 207.00)">(%)</text>
<text x="248.60" y="248.50" font-size="8.6" text-anchor="middle" fill="#1c1c1c" style="" transform="rotate(-90 248.60 248.50)">CpG methylation</text>
<text x="1.00" y="346.80" font-size="15" text-anchor="start" fill="#111" style="font-weight:bold;">e</text>
<path d="M51.00 364.90 H52.40 V386.40 H51.00 M51.00 375.65 H52.40" stroke="#2a2a2a" stroke-width="0.9" fill="none"/>
<path d="M56.10 388.20 V386.40 H162.50 V388.20" stroke="#2a2a2a" stroke-width="1.3" fill="none"/>
<text x="48.60" y="386.40" font-size="8.0" text-anchor="middle" fill="#1c1c1c" style="" transform="rotate(-90 48.60 386.40)">0</text>
<text x="48.60" y="364.90" font-size="8.0" text-anchor="middle" fill="#1c1c1c" style="" transform="rotate(-90 48.60 364.90)">100</text>
<path d="M51.00 403.90 H52.40 V425.40 H51.00 M51.00 414.65 H52.40" stroke="#2a2a2a" stroke-width="0.9" fill="none"/>
<path d="M56.10 427.20 V425.40 H162.50 V427.20" stroke="#2a2a2a" stroke-width="1.3" fill="none"/>
<text x="48.60" y="425.40" font-size="8.0" text-anchor="middle" fill="#1c1c1c" style="" transform="rotate(-90 48.60 425.40)">0</text>
<text x="48.60" y="403.90" font-size="8.0" text-anchor="middle" fill="#1c1c1c" style="" transform="rotate(-90 48.60 403.90)">100</text>
<path d="M51.00 443.00 H52.40 V464.50 H51.00 M51.00 453.75 H52.40" stroke="#2a2a2a" stroke-width="0.9" fill="none"/>
<path d="M56.10 466.30 V464.50 H162.50 V466.30" stroke="#2a2a2a" stroke-width="1.3" fill="none"/>
<text x="48.60" y="464.50" font-size="8.0" text-anchor="middle" fill="#1c1c1c" style="" transform="rotate(-90 48.60 464.50)">0</text>
<text x="48.60" y="443.00" font-size="8.0" text-anchor="middle" fill="#1c1c1c" style="" transform="rotate(-90 48.60 443.00)">100</text>
<path d="M51.00 481.80 H52.40 V503.30 H51.00 M51.00 492.55 H52.40" stroke="#2a2a2a" stroke-width="0.9" fill="none"/>
<path d="M56.10 505.10 V503.30 H162.50 V505.10" stroke="#2a2a2a" stroke-width="1.3" fill="none"/>
<text x="48.60" y="503.30" font-size="8.0" text-anchor="middle" fill="#1c1c1c" style="" transform="rotate(-90 48.60 503.30)">0</text>
<text x="48.60" y="481.80" font-size="8.0" text-anchor="middle" fill="#1c1c1c" style="" transform="rotate(-90 48.60 481.80)">100</text>
<text x="57.00" y="357.60" font-size="8.0" text-anchor="middle" fill="#1c1c1c" style="" transform="rotate(-90 57.00 357.60)">(%)</text>
<path d="M184.40 364.90 H185.80 V386.40 H184.40 M184.40 375.65 H185.80" stroke="#2a2a2a" stroke-width="0.9" fill="none"/>
<path d="M189.10 388.20 V386.40 H295.70 V388.20" stroke="#2a2a2a" stroke-width="1.3" fill="none"/>
<text x="182.00" y="386.40" font-size="8.0" text-anchor="middle" fill="#1c1c1c" style="" transform="rotate(-90 182.00 386.40)">0</text>
<text x="182.00" y="364.90" font-size="8.0" text-anchor="middle" fill="#1c1c1c" style="" transform="rotate(-90 182.00 364.90)">100</text>
<path d="M184.40 403.90 H185.80 V425.40 H184.40 M184.40 414.65 H185.80" stroke="#2a2a2a" stroke-width="0.9" fill="none"/>
<path d="M189.10 427.20 V425.40 H295.70 V427.20" stroke="#2a2a2a" stroke-width="1.3" fill="none"/>
<text x="182.00" y="425.40" font-size="8.0" text-anchor="middle" fill="#1c1c1c" style="" transform="rotate(-90 182.00 425.40)">0</text>
<text x="182.00" y="403.90" font-size="8.0" text-anchor="middle" fill="#1c1c1c" style="" transform="rotate(-90 182.00 403.90)">100</text>
<path d="M184.40 443.00 H185.80 V464.50 H184.40 M184.40 453.75 H185.80" stroke="#2a2a2a" stroke-width="0.9" fill="none"/>
<path d="M189.10 466.30 V464.50 H295.70 V466.30" stroke="#2a2a2a" stroke-width="1.3" fill="none"/>
<text x="182.00" y="464.50" font-size="8.0" text-anchor="middle" fill="#1c1c1c" style="" transform="rotate(-90 182.00 464.50)">0</text>
<text x="182.00" y="443.00" font-size="8.0" text-anchor="middle" fill="#1c1c1c" style="" transform="rotate(-90 182.00 443.00)">100</text>
<path d="M184.40 481.80 H185.80 V503.30 H184.40 M184.40 492.55 H185.80" stroke="#2a2a2a" stroke-width="0.9" fill="none"/>
<path d="M189.10 505.10 V503.30 H295.70 V505.10" stroke="#2a2a2a" stroke-width="1.3" fill="none"/>
<text x="182.00" y="503.30" font-size="8.0" text-anchor="middle" fill="#1c1c1c" style="" transform="rotate(-90 182.00 503.30)">0</text>
<text x="182.00" y="481.80" font-size="8.0" text-anchor="middle" fill="#1c1c1c" style="" transform="rotate(-90 182.00 481.80)">100</text>
<text x="190.40" y="357.60" font-size="8.0" text-anchor="middle" fill="#1c1c1c" style="" transform="rotate(-90 190.40 357.60)">(%)</text>
<path d="M316.20 364.90 H317.60 V386.40 H316.20 M316.20 375.65 H317.60" stroke="#2a2a2a" stroke-width="0.9" fill="none"/>
<path d="M321.80 388.20 V386.40 H428.00 V388.20" stroke="#2a2a2a" stroke-width="1.3" fill="none"/>
<text x="313.80" y="386.40" font-size="8.0" text-anchor="middle" fill="#1c1c1c" style="" transform="rotate(-90 313.80 386.40)">0</text>
<text x="313.80" y="364.90" font-size="8.0" text-anchor="middle" fill="#1c1c1c" style="" transform="rotate(-90 313.80 364.90)">100</text>
<path d="M316.20 403.90 H317.60 V425.40 H316.20 M316.20 414.65 H317.60" stroke="#2a2a2a" stroke-width="0.9" fill="none"/>
<path d="M321.80 427.20 V425.40 H428.00 V427.20" stroke="#2a2a2a" stroke-width="1.3" fill="none"/>
<text x="313.80" y="425.40" font-size="8.0" text-anchor="middle" fill="#1c1c1c" style="" transform="rotate(-90 313.80 425.40)">0</text>
<text x="313.80" y="403.90" font-size="8.0" text-anchor="middle" fill="#1c1c1c" style="" transform="rotate(-90 313.80 403.90)">100</text>
<path d="M316.20 443.00 H317.60 V464.50 H316.20 M316.20 453.75 H317.60" stroke="#2a2a2a" stroke-width="0.9" fill="none"/>
<path d="M321.80 466.30 V464.50 H428.00 V466.30" stroke="#2a2a2a" stroke-width="1.3" fill="none"/>
<text x="313.80" y="464.50" font-size="8.0" text-anchor="middle" fill="#1c1c1c" style="" transform="rotate(-90 313.80 464.50)">0</text>
<text x="313.80" y="443.00" font-size="8.0" text-anchor="middle" fill="#1c1c1c" style="" transform="rotate(-90 313.80 443.00)">100</text>
<path d="M316.20 481.80 H317.60 V503.30 H316.20 M316.20 492.55 H317.60" stroke="#2a2a2a" stroke-width="0.9" fill="none"/>
<path d="M321.80 505.10 V503.30 H428.00 V505.10" stroke="#2a2a2a" stroke-width="1.3" fill="none"/>
<text x="313.80" y="503.30" font-size="8.0" text-anchor="middle" fill="#1c1c1c" style="" transform="rotate(-90 313.80 503.30)">0</text>
<text x="313.80" y="481.80" font-size="8.0" text-anchor="middle" fill="#1c1c1c" style="" transform="rotate(-90 313.80 481.80)">100</text>
<text x="322.20" y="357.60" font-size="8.0" text-anchor="middle" fill="#1c1c1c" style="" transform="rotate(-90 322.20 357.60)">(%)</text>
<text x="109.70" y="353.10" font-size="10.6" text-anchor="middle" fill="#1c1c1c" style="font-style:italic;">Mest</text>
<text x="250.00" y="353.10" font-size="10.6" text-anchor="middle" fill="#1c1c1c" style="font-style:italic;">Peg3</text>
<text x="375.50" y="353.10" font-size="10.6" text-anchor="middle" fill="#1c1c1c" style="font-style:italic;">Meg3</text>
<text x="20.00" y="396.70" font-size="10.8" text-anchor="middle" fill="#1c1c1c" style="" transform="rotate(-90 20.00 396.70)">2i/L</text>
<text x="20.00" y="454.40" font-size="10.8" text-anchor="middle" fill="#1c1c1c" style="" transform="rotate(-90 20.00 454.40)">S/L</text>
<text x="20.00" y="493.60" font-size="10.8" text-anchor="middle" fill="#1c1c1c" style="" transform="rotate(-90 20.00 493.60)">MEFs</text>
<line x1="25.00" y1="353.80" x2="25.00" y2="427.40" stroke="#222" stroke-width="1.1"/>
<line x1="25.00" y1="433.60" x2="25.00" y2="469.80" stroke="#222" stroke-width="1.1"/>
<line x1="25.00" y1="475.60" x2="25.00" y2="511.40" stroke="#222" stroke-width="1.1"/>
<text x="36.80" y="374.00" font-size="8.0" text-anchor="middle" fill="#1c1c1c" style="" transform="rotate(-90 36.80 374.00)">#15 (XX)</text>
<text x="36.80" y="413.00" font-size="8.0" text-anchor="middle" fill="#1c1c1c" style="" transform="rotate(-90 36.80 413.00)">#23 (XY)</text>
<text x="36.80" y="452.40" font-size="8.0" text-anchor="middle" fill="#1c1c1c" style="" transform="rotate(-90 36.80 452.40)">#36 (XX)</text>
<text x="36.80" y="493.60" font-size="8.0" text-anchor="middle" fill="#1c1c1c" style="" transform="rotate(-90 36.80 493.60)">XX</text>
<text x="67.50" y="515.00" font-size="8.4" text-anchor="middle" fill="#1c1c1c" style="">30,734,008</text>
<text x="109.20" y="515.00" font-size="8.4" text-anchor="middle" fill="#1c1c1c" style="">Chr6</text>
<text x="145.80" y="515.00" font-size="8.4" text-anchor="middle" fill="#1c1c1c" style="">30,739,966</text>
<text x="197.60" y="515.00" font-size="8.4" text-anchor="middle" fill="#1c1c1c" style="">6,727,309</text>
<text x="240.00" y="515.00" font-size="8.4" text-anchor="middle" fill="#1c1c1c" style="">Chr7</text>
<text x="279.10" y="515.00" font-size="8.4" text-anchor="middle" fill="#1c1c1c" style="">6,732,689</text>
<text x="333.30" y="515.00" font-size="8.4" text-anchor="middle" fill="#1c1c1c" style="">109,538,340</text>
<text x="376.20" y="515.00" font-size="8.4" text-anchor="middle" fill="#1c1c1c" style="">Chr12</text>
<text x="413.50" y="515.00" font-size="8.4" text-anchor="middle" fill="#1c1c1c" style="">109,544,353</text>
<circle cx="284.90" cy="533.60" r="2.50" fill="#3556b6"/>
<text x="290.50" y="536.70" font-size="9.2" text-anchor="start" fill="#1c1c1c" style="">MSM (</text>
<circle cx="342.30" cy="533.60" r="2.50" fill="#da2229"/>
<text x="348.60" y="536.70" font-size="9.2" text-anchor="start" fill="#1c1c1c" style="">129 (</text>
<circle cx="397.40" cy="533.60" r="2.50" fill="#111111"/>
<text x="404.20" y="536.70" font-size="9.2" text-anchor="start" fill="#1c1c1c" style="">All</text>
<g transform="translate(319.20 534.30) rotate(0)" stroke="#1c1c1c" stroke-width="0.9" fill="none"><circle cx="0" cy="0" r="2.28"/><path d="M1.60 -1.60 L5.36 -5.36"/><path d="M2.85 -5.36 L5.36 -5.36 L5.36 -2.85 Z" fill="#1c1c1c" stroke-linejoin="miter"/></g>
<text x="325.40" y="536.70" font-size="9.2" text-anchor="start" fill="#1c1c1c" style="">)</text>
<g transform="translate(372.00 532.40) rotate(0)" stroke="#1c1c1c" stroke-width="0.9" fill="none"><circle cx="0" cy="0" r="2.28"/><path d="M0 2.28 V5.81 M-3.19 3.65 H3.19"/></g>
<text x="375.60" y="536.70" font-size="9.2" text-anchor="start" fill="#1c1c1c" style="">)</text>
<circle cx="139.25" cy="384.15" r="1.20" fill="#da2229"/>
<circle cx="140.48" cy="383.28" r="1.20" fill="#da2229"/>
<circle cx="139.11" cy="383.60" r="1.20" fill="#da2229"/>
<circle cx="139.70" cy="383.69" r="1.20" fill="#da2229"/>
<circle cx="138.37" cy="382.88" r="1.20" fill="#da2229"/>
<circle cx="86.81" cy="413.40" r="1.20" fill="#da2229"/>
<circle cx="86.77" cy="412.62" r="1.20" fill="#da2229"/>
<circle cx="88.79" cy="413.76" r="1.20" fill="#da2229"/>
<circle cx="88.89" cy="412.38" r="1.20" fill="#da2229"/>
<circle cx="86.52" cy="413.51" r="1.20" fill="#da2229"/>
<circle cx="87.59" cy="413.33" r="1.20" fill="#da2229"/>
<circle cx="85.71" cy="414.05" r="1.20" fill="#da2229"/>
<circle cx="85.70" cy="409.99" r="1.20" fill="#da2229"/>
<circle cx="88.89" cy="410.95" r="1.20" fill="#da2229"/>
<circle cx="106.02" cy="409.16" r="1.20" fill="#da2229"/>
<circle cx="111.22" cy="410.25" r="1.20" fill="#da2229"/>
<circle cx="107.07" cy="414.58" r="1.20" fill="#da2229"/>
<circle cx="108.49" cy="409.51" r="1.20" fill="#da2229"/>
<circle cx="109.47" cy="410.47" r="1.20" fill="#da2229"/>
<circle cx="107.40" cy="411.85" r="1.20" fill="#da2229"/>
<circle cx="110.26" cy="409.90" r="1.20" fill="#da2229"/>
<circle cx="110.84" cy="413.73" r="1.20" fill="#da2229"/>
<circle cx="111.24" cy="413.83" r="1.20" fill="#da2229"/>
<circle cx="110.81" cy="411.64" r="1.20" fill="#da2229"/>
<circle cx="113.56" cy="411.81" r="1.20" fill="#da2229"/>
<circle cx="114.55" cy="411.01" r="1.20" fill="#da2229"/>
<circle cx="113.12" cy="412.72" r="1.20" fill="#da2229"/>
<circle cx="124.97" cy="412.36" r="1.20" fill="#da2229"/>
<circle cx="123.30" cy="413.66" r="1.20" fill="#da2229"/>
<circle cx="137.47" cy="417.10" r="1.20" fill="#da2229"/>
<circle cx="134.89" cy="418.03" r="1.20" fill="#da2229"/>
<circle cx="139.54" cy="417.77" r="1.20" fill="#da2229"/>
<circle cx="142.94" cy="410.53" r="1.20" fill="#da2229"/>
<circle cx="140.47" cy="411.81" r="1.20" fill="#da2229"/>
<circle cx="135.41" cy="412.61" r="1.20" fill="#da2229"/>
<circle cx="140.14" cy="414.32" r="1.20" fill="#da2229"/>
<circle cx="131.74" cy="413.07" r="1.20" fill="#da2229"/>
<circle cx="134.91" cy="413.20" r="1.20" fill="#da2229"/>
<circle cx="136.05" cy="410.26" r="1.20" fill="#da2229"/>
<circle cx="133.42" cy="411.84" r="1.20" fill="#da2229"/>
<circle cx="139.38" cy="413.66" r="1.20" fill="#da2229"/>
<circle cx="131.96" cy="417.03" r="1.20" fill="#da2229"/>
<circle cx="142.61" cy="416.47" r="1.20" fill="#da2229"/>
<circle cx="132.96" cy="415.97" r="1.20" fill="#da2229"/>
<circle cx="137.45" cy="413.98" r="1.20" fill="#da2229"/>
<circle cx="131.04" cy="418.42" r="1.20" fill="#da2229"/>
<circle cx="136.95" cy="416.86" r="1.20" fill="#da2229"/>
<circle cx="151.22" cy="411.36" r="1.20" fill="#da2229"/>
<circle cx="150.19" cy="411.99" r="1.20" fill="#da2229"/>
<circle cx="154.81" cy="421.05" r="1.20" fill="#da2229"/>
<circle cx="155.91" cy="421.85" r="1.20" fill="#da2229"/>
<circle cx="85.46" cy="444.59" r="1.20" fill="#da2229"/>
<circle cx="84.16" cy="446.24" r="1.20" fill="#da2229"/>
<circle cx="86.37" cy="446.69" r="1.20" fill="#da2229"/>
<circle cx="88.08" cy="445.67" r="1.20" fill="#da2229"/>
<circle cx="85.49" cy="445.99" r="1.20" fill="#da2229"/>
<circle cx="88.15" cy="446.25" r="1.20" fill="#da2229"/>
<circle cx="84.41" cy="445.84" r="1.20" fill="#da2229"/>
<circle cx="85.17" cy="445.36" r="1.20" fill="#da2229"/>
<circle cx="85.21" cy="446.82" r="1.20" fill="#da2229"/>
<circle cx="110.47" cy="445.52" r="1.20" fill="#da2229"/>
<circle cx="107.46" cy="444.72" r="1.20" fill="#da2229"/>
<circle cx="109.47" cy="444.20" r="1.20" fill="#da2229"/>
<circle cx="109.99" cy="445.79" r="1.20" fill="#da2229"/>
<circle cx="108.13" cy="445.39" r="1.20" fill="#da2229"/>
<circle cx="108.58" cy="444.58" r="1.20" fill="#da2229"/>
<circle cx="109.15" cy="446.54" r="1.20" fill="#da2229"/>
<circle cx="107.86" cy="444.06" r="1.20" fill="#da2229"/>
<circle cx="132.35" cy="443.70" r="1.20" fill="#da2229"/>
<circle cx="138.86" cy="445.33" r="1.20" fill="#da2229"/>
<circle cx="136.49" cy="445.98" r="1.20" fill="#da2229"/>
<circle cx="139.37" cy="444.96" r="1.20" fill="#da2229"/>
<circle cx="134.65" cy="447.09" r="1.20" fill="#da2229"/>
<circle cx="135.45" cy="442.87" r="1.20" fill="#da2229"/>
<circle cx="138.76" cy="444.27" r="1.20" fill="#da2229"/>
<circle cx="141.34" cy="447.09" r="1.20" fill="#da2229"/>
<circle cx="138.02" cy="446.34" r="1.20" fill="#da2229"/>
<circle cx="135.97" cy="446.37" r="1.20" fill="#da2229"/>
<circle cx="135.49" cy="442.97" r="1.20" fill="#da2229"/>
<circle cx="139.25" cy="443.23" r="1.20" fill="#da2229"/>
<circle cx="132.75" cy="445.81" r="1.20" fill="#da2229"/>
<circle cx="139.84" cy="447.04" r="1.20" fill="#da2229"/>
<circle cx="133.90" cy="446.84" r="1.20" fill="#da2229"/>
<circle cx="140.18" cy="446.13" r="1.20" fill="#da2229"/>
<circle cx="136.24" cy="447.16" r="1.20" fill="#da2229"/>
<circle cx="133.14" cy="444.80" r="1.20" fill="#da2229"/>
<circle cx="139.91" cy="445.62" r="1.20" fill="#da2229"/>
<circle cx="135.19" cy="447.04" r="1.20" fill="#da2229"/>
<circle cx="133.00" cy="446.53" r="1.20" fill="#da2229"/>
<circle cx="134.06" cy="444.53" r="1.20" fill="#da2229"/>
<circle cx="86.79" cy="481.35" r="1.20" fill="#da2229"/>
<circle cx="86.42" cy="481.61" r="1.20" fill="#da2229"/>
<circle cx="85.46" cy="482.32" r="1.20" fill="#da2229"/>
<circle cx="87.75" cy="482.04" r="1.20" fill="#da2229"/>
<circle cx="87.05" cy="482.32" r="1.20" fill="#da2229"/>
<circle cx="88.89" cy="483.12" r="1.20" fill="#da2229"/>
<circle cx="87.66" cy="482.19" r="1.20" fill="#da2229"/>
<circle cx="109.69" cy="481.84" r="1.20" fill="#da2229"/>
<circle cx="107.49" cy="481.93" r="1.20" fill="#da2229"/>
<circle cx="108.98" cy="481.39" r="1.20" fill="#da2229"/>
<circle cx="107.12" cy="481.42" r="1.20" fill="#da2229"/>
<circle cx="108.95" cy="481.93" r="1.20" fill="#da2229"/>
<circle cx="107.82" cy="481.92" r="1.20" fill="#da2229"/>
<circle cx="106.88" cy="481.43" r="1.20" fill="#da2229"/>
<circle cx="133.38" cy="481.58" r="1.20" fill="#da2229"/>
<circle cx="132.62" cy="481.87" r="1.20" fill="#da2229"/>
<circle cx="142.47" cy="481.88" r="1.20" fill="#da2229"/>
<circle cx="133.92" cy="481.34" r="1.20" fill="#da2229"/>
<circle cx="135.40" cy="481.81" r="1.20" fill="#da2229"/>
<circle cx="133.06" cy="481.62" r="1.20" fill="#da2229"/>
<circle cx="132.65" cy="481.80" r="1.20" fill="#da2229"/>
<circle cx="134.44" cy="481.46" r="1.20" fill="#da2229"/>
<circle cx="133.78" cy="481.57" r="1.20" fill="#da2229"/>
<circle cx="134.66" cy="481.30" r="1.20" fill="#da2229"/>
<circle cx="142.90" cy="481.35" r="1.20" fill="#da2229"/>
<circle cx="141.90" cy="481.59" r="1.20" fill="#da2229"/>
<circle cx="142.24" cy="481.53" r="1.20" fill="#da2229"/>
<circle cx="133.75" cy="481.47" r="1.20" fill="#da2229"/>
<circle cx="152.55" cy="484.48" r="1.20" fill="#da2229"/>
<circle cx="150.58" cy="482.00" r="1.20" fill="#da2229"/>
<circle cx="152.30" cy="482.72" r="1.20" fill="#da2229"/>
<circle cx="150.37" cy="483.67" r="1.20" fill="#da2229"/>
<circle cx="150.71" cy="481.36" r="1.20" fill="#da2229"/>
<circle cx="203.61" cy="384.38" r="1.20" fill="#da2229"/>
<circle cx="211.02" cy="383.69" r="1.20" fill="#da2229"/>
<circle cx="209.00" cy="383.72" r="1.20" fill="#da2229"/>
<circle cx="213.84" cy="383.09" r="1.20" fill="#da2229"/>
<circle cx="201.74" cy="385.18" r="1.20" fill="#da2229"/>
<circle cx="244.44" cy="382.71" r="1.20" fill="#da2229"/>
<circle cx="234.62" cy="384.14" r="1.20" fill="#da2229"/>
<circle cx="240.33" cy="384.08" r="1.20" fill="#da2229"/>
<circle cx="230.00" cy="384.56" r="1.20" fill="#da2229"/>
<circle cx="233.47" cy="383.67" r="1.20" fill="#da2229"/>
<circle cx="231.08" cy="383.22" r="1.20" fill="#da2229"/>
<circle cx="265.52" cy="384.51" r="1.20" fill="#da2229"/>
<circle cx="259.13" cy="384.02" r="1.20" fill="#da2229"/>
<circle cx="262.77" cy="384.04" r="1.20" fill="#da2229"/>
<circle cx="258.26" cy="383.86" r="1.20" fill="#da2229"/>
<circle cx="250.38" cy="383.44" r="1.20" fill="#da2229"/>
<circle cx="292.99" cy="384.28" r="1.20" fill="#da2229"/>
<circle cx="286.02" cy="384.39" r="1.20" fill="#da2229"/>
<circle cx="284.28" cy="384.79" r="1.20" fill="#da2229"/>
<circle cx="190.51" cy="414.83" r="1.20" fill="#da2229"/>
<circle cx="190.75" cy="417.85" r="1.20" fill="#da2229"/>
<circle cx="194.56" cy="416.83" r="1.20" fill="#da2229"/>
<circle cx="192.92" cy="418.34" r="1.20" fill="#da2229"/>
<circle cx="192.94" cy="413.36" r="1.20" fill="#da2229"/>
<circle cx="194.49" cy="416.33" r="1.20" fill="#da2229"/>
<circle cx="189.90" cy="414.52" r="1.20" fill="#da2229"/>
<circle cx="191.15" cy="416.61" r="1.20" fill="#da2229"/>
<circle cx="190.47" cy="415.91" r="1.20" fill="#da2229"/>
<circle cx="204.09" cy="416.29" r="1.20" fill="#da2229"/>
<circle cx="203.88" cy="414.54" r="1.20" fill="#da2229"/>
<circle cx="204.86" cy="415.38" r="1.20" fill="#da2229"/>
<circle cx="205.94" cy="415.75" r="1.20" fill="#da2229"/>
<circle cx="203.22" cy="414.91" r="1.20" fill="#da2229"/>
<circle cx="205.83" cy="414.68" r="1.20" fill="#da2229"/>
<circle cx="205.50" cy="417.60" r="1.20" fill="#da2229"/>
<circle cx="214.53" cy="413.27" r="1.20" fill="#da2229"/>
<circle cx="216.40" cy="412.73" r="1.20" fill="#da2229"/>
<circle cx="213.60" cy="414.95" r="1.20" fill="#da2229"/>
<circle cx="224.89" cy="412.50" r="1.20" fill="#da2229"/>
<circle cx="222.65" cy="412.53" r="1.20" fill="#da2229"/>
<circle cx="226.50" cy="409.15" r="1.20" fill="#da2229"/>
<circle cx="223.61" cy="410.29" r="1.20" fill="#da2229"/>
<circle cx="227.26" cy="414.80" r="1.20" fill="#da2229"/>
<circle cx="222.10" cy="414.75" r="1.20" fill="#da2229"/>
<circle cx="226.75" cy="407.46" r="1.20" fill="#da2229"/>
<circle cx="224.71" cy="413.28" r="1.20" fill="#da2229"/>
<circle cx="226.39" cy="413.24" r="1.20" fill="#da2229"/>
<circle cx="222.27" cy="413.93" r="1.20" fill="#da2229"/>
<circle cx="226.20" cy="411.87" r="1.20" fill="#da2229"/>
<circle cx="239.51" cy="413.16" r="1.20" fill="#da2229"/>
<circle cx="236.78" cy="409.13" r="1.20" fill="#da2229"/>
<circle cx="239.86" cy="409.96" r="1.20" fill="#da2229"/>
<circle cx="242.38" cy="407.70" r="1.20" fill="#da2229"/>
<circle cx="245.35" cy="415.95" r="1.20" fill="#da2229"/>
<circle cx="240.87" cy="417.26" r="1.20" fill="#da2229"/>
<circle cx="244.82" cy="414.89" r="1.20" fill="#da2229"/>
<circle cx="247.70" cy="414.95" r="1.20" fill="#da2229"/>
<circle cx="241.61" cy="412.09" r="1.20" fill="#da2229"/>
<circle cx="245.76" cy="410.98" r="1.20" fill="#da2229"/>
<circle cx="246.45" cy="413.94" r="1.20" fill="#da2229"/>
<circle cx="236.27" cy="415.38" r="1.20" fill="#da2229"/>
<circle cx="235.60" cy="409.77" r="1.20" fill="#da2229"/>
<circle cx="243.92" cy="409.26" r="1.20" fill="#da2229"/>
<circle cx="245.15" cy="416.03" r="1.20" fill="#da2229"/>
<circle cx="235.83" cy="410.29" r="1.20" fill="#da2229"/>
<circle cx="235.01" cy="413.75" r="1.20" fill="#da2229"/>
<circle cx="242.64" cy="410.36" r="1.20" fill="#da2229"/>
<circle cx="264.16" cy="411.36" r="1.20" fill="#da2229"/>
<circle cx="267.75" cy="416.85" r="1.20" fill="#da2229"/>
<circle cx="261.15" cy="419.34" r="1.20" fill="#da2229"/>
<circle cx="259.21" cy="415.76" r="1.20" fill="#da2229"/>
<circle cx="264.42" cy="417.50" r="1.20" fill="#da2229"/>
<circle cx="258.99" cy="413.63" r="1.20" fill="#da2229"/>
<circle cx="264.72" cy="415.22" r="1.20" fill="#da2229"/>
<circle cx="259.41" cy="417.83" r="1.20" fill="#da2229"/>
<circle cx="260.68" cy="412.19" r="1.20" fill="#da2229"/>
<circle cx="267.26" cy="419.12" r="1.20" fill="#da2229"/>
<circle cx="267.37" cy="411.68" r="1.20" fill="#da2229"/>
<circle cx="265.93" cy="417.52" r="1.20" fill="#da2229"/>
<circle cx="267.67" cy="412.57" r="1.20" fill="#da2229"/>
<circle cx="259.39" cy="419.22" r="1.20" fill="#da2229"/>
<circle cx="282.76" cy="417.03" r="1.20" fill="#da2229"/>
<circle cx="282.05" cy="415.42" r="1.20" fill="#da2229"/>
<circle cx="283.35" cy="417.30" r="1.20" fill="#da2229"/>
<circle cx="294.98" cy="418.85" r="1.20" fill="#da2229"/>
<circle cx="295.50" cy="414.74" r="1.20" fill="#da2229"/>
<circle cx="294.04" cy="414.32" r="1.20" fill="#da2229"/>
<circle cx="294.71" cy="413.51" r="1.20" fill="#da2229"/>
<circle cx="247.87" cy="403.74" r="1.20" fill="#da2229"/>
<circle cx="189.59" cy="446.24" r="1.20" fill="#da2229"/>
<circle cx="189.21" cy="447.07" r="1.20" fill="#da2229"/>
<circle cx="190.42" cy="445.14" r="1.20" fill="#da2229"/>
<circle cx="190.67" cy="447.22" r="1.20" fill="#da2229"/>
<circle cx="189.07" cy="447.15" r="1.20" fill="#da2229"/>
<circle cx="193.80" cy="450.14" r="1.20" fill="#da2229"/>
<circle cx="193.37" cy="448.52" r="1.20" fill="#da2229"/>
<circle cx="193.20" cy="447.04" r="1.20" fill="#da2229"/>
<circle cx="201.28" cy="444.21" r="1.20" fill="#da2229"/>
<circle cx="202.59" cy="445.65" r="1.20" fill="#da2229"/>
<circle cx="202.01" cy="446.36" r="1.20" fill="#da2229"/>
<circle cx="200.50" cy="443.27" r="1.20" fill="#da2229"/>
<circle cx="203.20" cy="446.50" r="1.20" fill="#da2229"/>
<circle cx="204.02" cy="446.44" r="1.20" fill="#da2229"/>
<circle cx="203.32" cy="449.03" r="1.20" fill="#da2229"/>
<circle cx="203.59" cy="449.52" r="1.20" fill="#da2229"/>
<circle cx="227.73" cy="444.32" r="1.20" fill="#da2229"/>
<circle cx="224.70" cy="447.28" r="1.20" fill="#da2229"/>
<circle cx="223.55" cy="447.22" r="1.20" fill="#da2229"/>
<circle cx="225.13" cy="443.89" r="1.20" fill="#da2229"/>
<circle cx="226.45" cy="444.72" r="1.20" fill="#da2229"/>
<circle cx="224.56" cy="446.50" r="1.20" fill="#da2229"/>
<circle cx="226.82" cy="444.56" r="1.20" fill="#da2229"/>
<circle cx="243.30" cy="445.59" r="1.20" fill="#da2229"/>
<circle cx="244.70" cy="445.40" r="1.20" fill="#da2229"/>
<circle cx="238.90" cy="446.70" r="1.20" fill="#da2229"/>
<circle cx="239.41" cy="447.19" r="1.20" fill="#da2229"/>
<circle cx="245.88" cy="444.67" r="1.20" fill="#da2229"/>
<circle cx="242.75" cy="446.24" r="1.20" fill="#da2229"/>
<circle cx="241.34" cy="448.32" r="1.20" fill="#da2229"/>
<circle cx="241.22" cy="445.41" r="1.20" fill="#da2229"/>
<circle cx="239.85" cy="445.90" r="1.20" fill="#da2229"/>
<circle cx="246.99" cy="443.45" r="1.20" fill="#da2229"/>
<circle cx="236.85" cy="443.25" r="1.20" fill="#da2229"/>
<circle cx="244.74" cy="444.06" r="1.20" fill="#da2229"/>
<circle cx="244.85" cy="447.69" r="1.20" fill="#da2229"/>
<circle cx="237.45" cy="445.09" r="1.20" fill="#da2229"/>
<circle cx="263.80" cy="448.34" r="1.20" fill="#da2229"/>
<circle cx="258.10" cy="443.25" r="1.20" fill="#da2229"/>
<circle cx="264.37" cy="447.38" r="1.20" fill="#da2229"/>
<circle cx="263.80" cy="447.15" r="1.20" fill="#da2229"/>
<circle cx="263.89" cy="448.87" r="1.20" fill="#da2229"/>
<circle cx="262.26" cy="447.60" r="1.20" fill="#da2229"/>
<circle cx="262.45" cy="448.80" r="1.20" fill="#da2229"/>
<circle cx="283.29" cy="448.35" r="1.20" fill="#da2229"/>
<circle cx="282.89" cy="448.53" r="1.20" fill="#da2229"/>
<circle cx="282.77" cy="448.01" r="1.20" fill="#da2229"/>
<circle cx="282.66" cy="446.12" r="1.20" fill="#da2229"/>
<circle cx="293.66" cy="444.36" r="1.20" fill="#da2229"/>
<circle cx="192.09" cy="481.46" r="1.20" fill="#da2229"/>
<circle cx="191.64" cy="482.22" r="1.20" fill="#da2229"/>
<circle cx="192.74" cy="481.99" r="1.20" fill="#da2229"/>
<circle cx="193.74" cy="481.96" r="1.20" fill="#da2229"/>
<circle cx="200.07" cy="482.01" r="1.20" fill="#da2229"/>
<circle cx="204.80" cy="481.86" r="1.20" fill="#da2229"/>
<circle cx="204.11" cy="481.98" r="1.20" fill="#da2229"/>
<circle cx="203.04" cy="482.29" r="1.20" fill="#da2229"/>
<circle cx="201.01" cy="482.26" r="1.20" fill="#da2229"/>
<circle cx="225.22" cy="482.03" r="1.20" fill="#da2229"/>
<circle cx="226.46" cy="481.68" r="1.20" fill="#da2229"/>
<circle cx="223.92" cy="482.09" r="1.20" fill="#da2229"/>
<circle cx="222.20" cy="482.24" r="1.20" fill="#da2229"/>
<circle cx="225.05" cy="481.41" r="1.20" fill="#da2229"/>
<circle cx="223.51" cy="481.94" r="1.20" fill="#da2229"/>
<circle cx="222.10" cy="481.74" r="1.20" fill="#da2229"/>
<circle cx="237.68" cy="482.02" r="1.20" fill="#da2229"/>
<circle cx="237.56" cy="482.08" r="1.20" fill="#da2229"/>
<circle cx="237.63" cy="482.18" r="1.20" fill="#da2229"/>
<circle cx="238.85" cy="481.37" r="1.20" fill="#da2229"/>
<circle cx="247.53" cy="481.98" r="1.20" fill="#da2229"/>
<circle cx="243.06" cy="481.55" r="1.20" fill="#da2229"/>
<circle cx="245.31" cy="481.79" r="1.20" fill="#da2229"/>
<circle cx="246.28" cy="481.50" r="1.20" fill="#da2229"/>
<circle cx="245.59" cy="481.91" r="1.20" fill="#da2229"/>
<circle cx="259.18" cy="482.33" r="1.20" fill="#da2229"/>
<circle cx="259.49" cy="482.21" r="1.20" fill="#da2229"/>
<circle cx="266.47" cy="481.77" r="1.20" fill="#da2229"/>
<circle cx="258.25" cy="482.03" r="1.20" fill="#da2229"/>
<circle cx="261.71" cy="481.48" r="1.20" fill="#da2229"/>
<circle cx="261.72" cy="481.79" r="1.20" fill="#da2229"/>
<circle cx="260.38" cy="482.03" r="1.20" fill="#da2229"/>
<circle cx="258.72" cy="481.53" r="1.20" fill="#da2229"/>
<circle cx="282.98" cy="481.76" r="1.20" fill="#da2229"/>
<circle cx="283.14" cy="482.87" r="1.20" fill="#da2229"/>
<circle cx="294.27" cy="482.03" r="1.20" fill="#da2229"/>
<circle cx="190.57" cy="487.01" r="1.20" fill="#da2229"/>
<circle cx="190.93" cy="486.04" r="1.20" fill="#da2229"/>
<circle cx="367.67" cy="385.33" r="1.20" fill="#da2229"/>
<circle cx="367.69" cy="385.54" r="1.20" fill="#da2229"/>
<circle cx="359.43" cy="384.98" r="1.20" fill="#da2229"/>
<circle cx="364.43" cy="384.87" r="1.20" fill="#da2229"/>
<circle cx="368.25" cy="385.28" r="1.20" fill="#da2229"/>
<circle cx="363.98" cy="385.16" r="1.20" fill="#da2229"/>
<circle cx="361.39" cy="385.52" r="1.20" fill="#da2229"/>
<circle cx="362.47" cy="385.02" r="1.20" fill="#da2229"/>
<circle cx="374.15" cy="424.80" r="1.20" fill="#da2229"/>
<circle cx="358.42" cy="424.52" r="1.20" fill="#da2229"/>
<circle cx="369.60" cy="424.43" r="1.20" fill="#da2229"/>
<circle cx="370.92" cy="423.86" r="1.20" fill="#da2229"/>
<circle cx="369.33" cy="424.18" r="1.20" fill="#da2229"/>
<circle cx="360.43" cy="424.27" r="1.20" fill="#da2229"/>
<circle cx="368.67" cy="424.69" r="1.20" fill="#da2229"/>
<circle cx="358.44" cy="424.17" r="1.20" fill="#da2229"/>
<circle cx="374.89" cy="424.20" r="1.20" fill="#da2229"/>
<circle cx="361.41" cy="423.96" r="1.20" fill="#da2229"/>
<circle cx="363.40" cy="424.53" r="1.20" fill="#da2229"/>
<circle cx="371.83" cy="424.05" r="1.20" fill="#da2229"/>
<circle cx="373.83" cy="423.95" r="1.20" fill="#da2229"/>
<circle cx="358.04" cy="424.65" r="1.20" fill="#da2229"/>
<circle cx="367.91" cy="424.65" r="1.20" fill="#da2229"/>
<circle cx="372.47" cy="424.11" r="1.20" fill="#da2229"/>
<circle cx="370.85" cy="423.89" r="1.20" fill="#da2229"/>
<circle cx="370.03" cy="423.86" r="1.20" fill="#da2229"/>
<circle cx="402.87" cy="424.75" r="1.20" fill="#da2229"/>
<circle cx="403.07" cy="423.88" r="1.20" fill="#da2229"/>
<circle cx="403.46" cy="424.55" r="1.20" fill="#da2229"/>
<circle cx="401.39" cy="424.76" r="1.20" fill="#da2229"/>
<circle cx="401.49" cy="424.14" r="1.20" fill="#da2229"/>
<circle cx="361.97" cy="462.88" r="1.20" fill="#da2229"/>
<circle cx="365.85" cy="463.14" r="1.20" fill="#da2229"/>
<circle cx="363.92" cy="463.10" r="1.20" fill="#da2229"/>
<circle cx="362.31" cy="462.90" r="1.20" fill="#da2229"/>
<circle cx="362.67" cy="463.70" r="1.20" fill="#da2229"/>
<circle cx="363.85" cy="462.56" r="1.20" fill="#da2229"/>
<circle cx="360.67" cy="461.49" r="1.20" fill="#da2229"/>
<circle cx="365.92" cy="463.29" r="1.20" fill="#da2229"/>
<circle cx="371.36" cy="461.99" r="1.20" fill="#da2229"/>
<circle cx="372.02" cy="462.54" r="1.20" fill="#da2229"/>
<circle cx="373.06" cy="462.06" r="1.20" fill="#da2229"/>
<circle cx="371.06" cy="462.74" r="1.20" fill="#da2229"/>
<circle cx="373.24" cy="461.72" r="1.20" fill="#da2229"/>
<circle cx="373.46" cy="461.94" r="1.20" fill="#da2229"/>
<circle cx="404.97" cy="463.93" r="1.20" fill="#da2229"/>
<circle cx="404.10" cy="462.17" r="1.20" fill="#da2229"/>
<circle cx="403.73" cy="463.84" r="1.20" fill="#da2229"/>
<circle cx="404.78" cy="462.02" r="1.20" fill="#da2229"/>
<circle cx="405.99" cy="462.12" r="1.20" fill="#da2229"/>
<circle cx="365.63" cy="502.72" r="1.20" fill="#da2229"/>
<circle cx="369.56" cy="500.50" r="1.20" fill="#da2229"/>
<circle cx="366.81" cy="501.35" r="1.20" fill="#da2229"/>
<circle cx="359.57" cy="501.97" r="1.20" fill="#da2229"/>
<circle cx="368.07" cy="500.73" r="1.20" fill="#da2229"/>
<circle cx="363.52" cy="500.65" r="1.20" fill="#da2229"/>
<circle cx="368.00" cy="501.37" r="1.20" fill="#da2229"/>
<circle cx="361.42" cy="501.01" r="1.20" fill="#da2229"/>
<circle cx="360.33" cy="501.72" r="1.20" fill="#da2229"/>
<circle cx="373.07" cy="500.56" r="1.20" fill="#da2229"/>
<circle cx="374.06" cy="502.30" r="1.20" fill="#da2229"/>
<circle cx="373.38" cy="501.59" r="1.20" fill="#da2229"/>
<circle cx="360.80" cy="500.49" r="1.20" fill="#da2229"/>
<circle cx="374.15" cy="500.29" r="1.20" fill="#da2229"/>
<circle cx="364.09" cy="502.22" r="1.20" fill="#da2229"/>
<circle cx="373.72" cy="500.96" r="1.20" fill="#da2229"/>
<circle cx="373.73" cy="500.92" r="1.20" fill="#da2229"/>
<circle cx="374.74" cy="500.92" r="1.20" fill="#da2229"/>
<circle cx="371.94" cy="500.42" r="1.20" fill="#da2229"/>
<circle cx="365.31" cy="500.43" r="1.20" fill="#da2229"/>
<circle cx="403.83" cy="500.32" r="1.20" fill="#da2229"/>
<circle cx="404.08" cy="501.15" r="1.20" fill="#da2229"/>
<circle cx="403.02" cy="501.92" r="1.20" fill="#da2229"/>
<circle cx="403.55" cy="502.77" r="1.20" fill="#da2229"/>
<circle cx="403.63" cy="502.14" r="1.20" fill="#da2229"/>
<circle cx="132.33" cy="385.14" r="1.20" fill="#3556b6"/>
<circle cx="134.58" cy="385.19" r="1.20" fill="#3556b6"/>
<circle cx="134.10" cy="384.19" r="1.20" fill="#3556b6"/>
<circle cx="150.04" cy="384.18" r="1.20" fill="#3556b6"/>
<circle cx="150.54" cy="384.98" r="1.20" fill="#3556b6"/>
<circle cx="151.23" cy="383.87" r="1.20" fill="#3556b6"/>
<circle cx="89.50" cy="424.60" r="1.20" fill="#3556b6"/>
<circle cx="89.16" cy="424.63" r="1.20" fill="#3556b6"/>
<circle cx="87.43" cy="421.68" r="1.20" fill="#3556b6"/>
<circle cx="89.52" cy="424.55" r="1.20" fill="#3556b6"/>
<circle cx="88.27" cy="423.54" r="1.20" fill="#3556b6"/>
<circle cx="88.70" cy="422.13" r="1.20" fill="#3556b6"/>
<circle cx="88.23" cy="421.89" r="1.20" fill="#3556b6"/>
<circle cx="89.59" cy="424.37" r="1.20" fill="#3556b6"/>
<circle cx="86.23" cy="424.26" r="1.20" fill="#3556b6"/>
<circle cx="108.03" cy="423.41" r="1.20" fill="#3556b6"/>
<circle cx="109.42" cy="423.33" r="1.20" fill="#3556b6"/>
<circle cx="108.62" cy="423.61" r="1.20" fill="#3556b6"/>
<circle cx="108.62" cy="424.04" r="1.20" fill="#3556b6"/>
<circle cx="108.65" cy="423.10" r="1.20" fill="#3556b6"/>
<circle cx="109.43" cy="423.35" r="1.20" fill="#3556b6"/>
<circle cx="108.70" cy="424.74" r="1.20" fill="#3556b6"/>
<circle cx="137.62" cy="424.12" r="1.20" fill="#3556b6"/>
<circle cx="137.46" cy="424.56" r="1.20" fill="#3556b6"/>
<circle cx="138.00" cy="423.47" r="1.20" fill="#3556b6"/>
<circle cx="137.14" cy="423.29" r="1.20" fill="#3556b6"/>
<circle cx="135.05" cy="424.17" r="1.20" fill="#3556b6"/>
<circle cx="140.77" cy="423.60" r="1.20" fill="#3556b6"/>
<circle cx="135.10" cy="424.70" r="1.20" fill="#3556b6"/>
<circle cx="135.57" cy="423.93" r="1.20" fill="#3556b6"/>
<circle cx="135.76" cy="424.22" r="1.20" fill="#3556b6"/>
<circle cx="137.26" cy="424.72" r="1.20" fill="#3556b6"/>
<circle cx="138.00" cy="424.15" r="1.20" fill="#3556b6"/>
<circle cx="139.63" cy="424.31" r="1.20" fill="#3556b6"/>
<circle cx="150.14" cy="424.19" r="1.20" fill="#3556b6"/>
<circle cx="151.39" cy="424.89" r="1.20" fill="#3556b6"/>
<circle cx="151.04" cy="424.86" r="1.20" fill="#3556b6"/>
<circle cx="89.32" cy="462.08" r="1.20" fill="#3556b6"/>
<circle cx="87.67" cy="462.53" r="1.20" fill="#3556b6"/>
<circle cx="87.74" cy="459.52" r="1.20" fill="#3556b6"/>
<circle cx="89.57" cy="459.53" r="1.20" fill="#3556b6"/>
<circle cx="89.47" cy="462.89" r="1.20" fill="#3556b6"/>
<circle cx="89.03" cy="462.71" r="1.20" fill="#3556b6"/>
<circle cx="89.35" cy="458.64" r="1.20" fill="#3556b6"/>
<circle cx="88.59" cy="460.32" r="1.20" fill="#3556b6"/>
<circle cx="88.67" cy="462.55" r="1.20" fill="#3556b6"/>
<circle cx="108.59" cy="463.81" r="1.20" fill="#3556b6"/>
<circle cx="106.72" cy="463.42" r="1.20" fill="#3556b6"/>
<circle cx="108.06" cy="463.15" r="1.20" fill="#3556b6"/>
<circle cx="107.16" cy="462.92" r="1.20" fill="#3556b6"/>
<circle cx="108.26" cy="462.19" r="1.20" fill="#3556b6"/>
<circle cx="140.45" cy="463.09" r="1.20" fill="#3556b6"/>
<circle cx="132.52" cy="463.70" r="1.20" fill="#3556b6"/>
<circle cx="133.15" cy="461.60" r="1.20" fill="#3556b6"/>
<circle cx="132.84" cy="461.56" r="1.20" fill="#3556b6"/>
<circle cx="132.02" cy="461.78" r="1.20" fill="#3556b6"/>
<circle cx="134.47" cy="461.92" r="1.20" fill="#3556b6"/>
<circle cx="139.60" cy="461.89" r="1.20" fill="#3556b6"/>
<circle cx="132.74" cy="463.93" r="1.20" fill="#3556b6"/>
<circle cx="135.83" cy="461.07" r="1.20" fill="#3556b6"/>
<circle cx="136.64" cy="463.15" r="1.20" fill="#3556b6"/>
<circle cx="136.71" cy="461.35" r="1.20" fill="#3556b6"/>
<circle cx="134.07" cy="463.60" r="1.20" fill="#3556b6"/>
<circle cx="141.18" cy="462.63" r="1.20" fill="#3556b6"/>
<circle cx="136.44" cy="463.00" r="1.20" fill="#3556b6"/>
<circle cx="134.44" cy="461.22" r="1.20" fill="#3556b6"/>
<circle cx="140.02" cy="463.18" r="1.20" fill="#3556b6"/>
<circle cx="153.17" cy="458.89" r="1.20" fill="#3556b6"/>
<circle cx="152.25" cy="458.69" r="1.20" fill="#3556b6"/>
<circle cx="151.27" cy="459.15" r="1.20" fill="#3556b6"/>
<circle cx="153.55" cy="461.04" r="1.20" fill="#3556b6"/>
<circle cx="151.83" cy="460.97" r="1.20" fill="#3556b6"/>
<circle cx="85.68" cy="497.57" r="1.20" fill="#3556b6"/>
<circle cx="88.49" cy="497.72" r="1.20" fill="#3556b6"/>
<circle cx="88.21" cy="501.11" r="1.20" fill="#3556b6"/>
<circle cx="85.44" cy="501.13" r="1.20" fill="#3556b6"/>
<circle cx="88.94" cy="502.67" r="1.20" fill="#3556b6"/>
<circle cx="87.67" cy="500.73" r="1.20" fill="#3556b6"/>
<circle cx="86.44" cy="500.64" r="1.20" fill="#3556b6"/>
<circle cx="87.96" cy="501.71" r="1.20" fill="#3556b6"/>
<circle cx="85.80" cy="497.32" r="1.20" fill="#3556b6"/>
<circle cx="108.26" cy="501.64" r="1.20" fill="#3556b6"/>
<circle cx="106.75" cy="500.91" r="1.20" fill="#3556b6"/>
<circle cx="108.80" cy="500.26" r="1.20" fill="#3556b6"/>
<circle cx="107.33" cy="500.75" r="1.20" fill="#3556b6"/>
<circle cx="107.08" cy="500.51" r="1.20" fill="#3556b6"/>
<circle cx="107.55" cy="502.71" r="1.20" fill="#3556b6"/>
<circle cx="139.74" cy="501.86" r="1.20" fill="#3556b6"/>
<circle cx="137.85" cy="502.63" r="1.20" fill="#3556b6"/>
<circle cx="136.03" cy="502.59" r="1.20" fill="#3556b6"/>
<circle cx="141.40" cy="502.01" r="1.20" fill="#3556b6"/>
<circle cx="135.97" cy="502.47" r="1.20" fill="#3556b6"/>
<circle cx="134.26" cy="502.33" r="1.20" fill="#3556b6"/>
<circle cx="142.76" cy="501.99" r="1.20" fill="#3556b6"/>
<circle cx="142.36" cy="502.72" r="1.20" fill="#3556b6"/>
<circle cx="142.26" cy="501.82" r="1.20" fill="#3556b6"/>
<circle cx="141.11" cy="502.66" r="1.20" fill="#3556b6"/>
<circle cx="141.69" cy="501.75" r="1.20" fill="#3556b6"/>
<circle cx="140.40" cy="502.25" r="1.20" fill="#3556b6"/>
<circle cx="136.43" cy="501.86" r="1.20" fill="#3556b6"/>
<circle cx="138.99" cy="502.45" r="1.20" fill="#3556b6"/>
<circle cx="150.25" cy="501.65" r="1.20" fill="#3556b6"/>
<circle cx="152.11" cy="500.45" r="1.20" fill="#3556b6"/>
<circle cx="150.40" cy="500.40" r="1.20" fill="#3556b6"/>
<circle cx="151.39" cy="498.08" r="1.20" fill="#3556b6"/>
<circle cx="151.42" cy="501.17" r="1.20" fill="#3556b6"/>
<circle cx="152.49" cy="498.82" r="1.20" fill="#3556b6"/>
<circle cx="190.05" cy="379.11" r="1.20" fill="#3556b6"/>
<circle cx="222.42" cy="385.65" r="1.20" fill="#3556b6"/>
<circle cx="194.38" cy="385.45" r="1.20" fill="#3556b6"/>
<circle cx="239.74" cy="385.29" r="1.20" fill="#3556b6"/>
<circle cx="190.63" cy="385.63" r="1.20" fill="#3556b6"/>
<circle cx="224.99" cy="385.63" r="1.20" fill="#3556b6"/>
<circle cx="193.47" cy="385.37" r="1.20" fill="#3556b6"/>
<circle cx="193.44" cy="385.49" r="1.20" fill="#3556b6"/>
<circle cx="215.00" cy="385.63" r="1.20" fill="#3556b6"/>
<circle cx="257.04" cy="385.77" r="1.20" fill="#3556b6"/>
<circle cx="230.92" cy="385.73" r="1.20" fill="#3556b6"/>
<circle cx="238.42" cy="424.31" r="1.20" fill="#3556b6"/>
<circle cx="243.05" cy="424.80" r="1.20" fill="#3556b6"/>
<circle cx="240.25" cy="424.19" r="1.20" fill="#3556b6"/>
<circle cx="194.49" cy="423.86" r="1.20" fill="#3556b6"/>
<circle cx="257.91" cy="424.05" r="1.20" fill="#3556b6"/>
<circle cx="252.70" cy="424.36" r="1.20" fill="#3556b6"/>
<circle cx="263.14" cy="424.73" r="1.20" fill="#3556b6"/>
<circle cx="249.24" cy="423.85" r="1.20" fill="#3556b6"/>
<circle cx="194.08" cy="424.20" r="1.20" fill="#3556b6"/>
<circle cx="267.83" cy="424.75" r="1.20" fill="#3556b6"/>
<circle cx="234.29" cy="423.93" r="1.20" fill="#3556b6"/>
<circle cx="210.36" cy="424.67" r="1.20" fill="#3556b6"/>
<circle cx="247.14" cy="424.05" r="1.20" fill="#3556b6"/>
<circle cx="265.28" cy="424.20" r="1.20" fill="#3556b6"/>
<circle cx="193.36" cy="424.02" r="1.20" fill="#3556b6"/>
<circle cx="212.16" cy="424.29" r="1.20" fill="#3556b6"/>
<circle cx="247.39" cy="423.85" r="1.20" fill="#3556b6"/>
<circle cx="233.66" cy="424.74" r="1.20" fill="#3556b6"/>
<circle cx="230.45" cy="424.30" r="1.20" fill="#3556b6"/>
<circle cx="249.92" cy="424.69" r="1.20" fill="#3556b6"/>
<circle cx="233.68" cy="424.85" r="1.20" fill="#3556b6"/>
<circle cx="268.79" cy="424.88" r="1.20" fill="#3556b6"/>
<circle cx="232.82" cy="424.71" r="1.20" fill="#3556b6"/>
<circle cx="211.25" cy="424.47" r="1.20" fill="#3556b6"/>
<circle cx="209.50" cy="424.62" r="1.20" fill="#3556b6"/>
<circle cx="214.00" cy="424.36" r="1.20" fill="#3556b6"/>
<circle cx="266.47" cy="424.68" r="1.20" fill="#3556b6"/>
<circle cx="202.98" cy="424.85" r="1.20" fill="#3556b6"/>
<circle cx="263.17" cy="424.06" r="1.20" fill="#3556b6"/>
<circle cx="256.27" cy="424.74" r="1.20" fill="#3556b6"/>
<circle cx="224.76" cy="424.18" r="1.20" fill="#3556b6"/>
<circle cx="232.04" cy="424.11" r="1.20" fill="#3556b6"/>
<circle cx="204.73" cy="423.93" r="1.20" fill="#3556b6"/>
<circle cx="236.95" cy="424.24" r="1.20" fill="#3556b6"/>
<circle cx="236.47" cy="424.42" r="1.20" fill="#3556b6"/>
<circle cx="190.02" cy="424.72" r="1.20" fill="#3556b6"/>
<circle cx="227.98" cy="424.81" r="1.20" fill="#3556b6"/>
<circle cx="237.20" cy="424.70" r="1.20" fill="#3556b6"/>
<circle cx="244.46" cy="424.46" r="1.20" fill="#3556b6"/>
<circle cx="242.27" cy="424.62" r="1.20" fill="#3556b6"/>
<circle cx="199.09" cy="424.19" r="1.20" fill="#3556b6"/>
<circle cx="255.87" cy="424.67" r="1.20" fill="#3556b6"/>
<circle cx="191.97" cy="423.97" r="1.20" fill="#3556b6"/>
<circle cx="250.01" cy="424.08" r="1.20" fill="#3556b6"/>
<circle cx="253.05" cy="424.45" r="1.20" fill="#3556b6"/>
<circle cx="283.90" cy="421.43" r="1.20" fill="#3556b6"/>
<circle cx="283.51" cy="420.86" r="1.20" fill="#3556b6"/>
<circle cx="283.82" cy="422.47" r="1.20" fill="#3556b6"/>
<circle cx="282.11" cy="422.36" r="1.20" fill="#3556b6"/>
<circle cx="229.15" cy="463.99" r="1.20" fill="#3556b6"/>
<circle cx="214.45" cy="463.65" r="1.20" fill="#3556b6"/>
<circle cx="239.61" cy="463.60" r="1.20" fill="#3556b6"/>
<circle cx="250.23" cy="463.92" r="1.20" fill="#3556b6"/>
<circle cx="246.78" cy="463.98" r="1.20" fill="#3556b6"/>
<circle cx="259.42" cy="463.87" r="1.20" fill="#3556b6"/>
<circle cx="267.65" cy="463.98" r="1.20" fill="#3556b6"/>
<circle cx="249.14" cy="463.96" r="1.20" fill="#3556b6"/>
<circle cx="258.91" cy="463.65" r="1.20" fill="#3556b6"/>
<circle cx="230.49" cy="463.76" r="1.20" fill="#3556b6"/>
<circle cx="206.81" cy="463.84" r="1.20" fill="#3556b6"/>
<circle cx="201.02" cy="463.83" r="1.20" fill="#3556b6"/>
<circle cx="189.97" cy="462.91" r="1.20" fill="#3556b6"/>
<circle cx="192.45" cy="463.39" r="1.20" fill="#3556b6"/>
<circle cx="191.42" cy="462.36" r="1.20" fill="#3556b6"/>
<circle cx="195.63" cy="462.32" r="1.20" fill="#3556b6"/>
<circle cx="191.54" cy="463.86" r="1.20" fill="#3556b6"/>
<circle cx="190.14" cy="462.52" r="1.20" fill="#3556b6"/>
<circle cx="205.11" cy="463.75" r="1.20" fill="#3556b6"/>
<circle cx="208.73" cy="463.62" r="1.20" fill="#3556b6"/>
<circle cx="206.36" cy="463.29" r="1.20" fill="#3556b6"/>
<circle cx="203.83" cy="463.36" r="1.20" fill="#3556b6"/>
<circle cx="207.73" cy="463.07" r="1.20" fill="#3556b6"/>
<circle cx="226.29" cy="463.97" r="1.20" fill="#3556b6"/>
<circle cx="222.54" cy="463.26" r="1.20" fill="#3556b6"/>
<circle cx="225.21" cy="463.29" r="1.20" fill="#3556b6"/>
<circle cx="223.38" cy="462.60" r="1.20" fill="#3556b6"/>
<circle cx="226.26" cy="462.88" r="1.20" fill="#3556b6"/>
<circle cx="237.46" cy="462.41" r="1.20" fill="#3556b6"/>
<circle cx="242.68" cy="462.42" r="1.20" fill="#3556b6"/>
<circle cx="244.09" cy="462.79" r="1.20" fill="#3556b6"/>
<circle cx="240.23" cy="462.20" r="1.20" fill="#3556b6"/>
<circle cx="246.18" cy="461.95" r="1.20" fill="#3556b6"/>
<circle cx="239.34" cy="463.55" r="1.20" fill="#3556b6"/>
<circle cx="238.12" cy="462.54" r="1.20" fill="#3556b6"/>
<circle cx="246.61" cy="463.49" r="1.20" fill="#3556b6"/>
<circle cx="261.59" cy="462.24" r="1.20" fill="#3556b6"/>
<circle cx="261.33" cy="462.23" r="1.20" fill="#3556b6"/>
<circle cx="260.97" cy="462.11" r="1.20" fill="#3556b6"/>
<circle cx="265.82" cy="461.54" r="1.20" fill="#3556b6"/>
<circle cx="265.70" cy="462.64" r="1.20" fill="#3556b6"/>
<circle cx="259.20" cy="463.35" r="1.20" fill="#3556b6"/>
<circle cx="259.85" cy="461.52" r="1.20" fill="#3556b6"/>
<circle cx="259.79" cy="462.19" r="1.20" fill="#3556b6"/>
<circle cx="283.85" cy="462.19" r="1.20" fill="#3556b6"/>
<circle cx="282.47" cy="460.18" r="1.20" fill="#3556b6"/>
<circle cx="283.96" cy="463.71" r="1.20" fill="#3556b6"/>
<circle cx="283.65" cy="459.81" r="1.20" fill="#3556b6"/>
<circle cx="213.01" cy="502.49" r="1.20" fill="#3556b6"/>
<circle cx="204.54" cy="502.61" r="1.20" fill="#3556b6"/>
<circle cx="251.33" cy="502.42" r="1.20" fill="#3556b6"/>
<circle cx="214.05" cy="502.49" r="1.20" fill="#3556b6"/>
<circle cx="262.50" cy="501.94" r="1.20" fill="#3556b6"/>
<circle cx="214.89" cy="502.57" r="1.20" fill="#3556b6"/>
<circle cx="210.82" cy="502.13" r="1.20" fill="#3556b6"/>
<circle cx="262.61" cy="502.63" r="1.20" fill="#3556b6"/>
<circle cx="197.48" cy="502.51" r="1.20" fill="#3556b6"/>
<circle cx="256.25" cy="502.07" r="1.20" fill="#3556b6"/>
<circle cx="265.96" cy="502.44" r="1.20" fill="#3556b6"/>
<circle cx="192.51" cy="502.76" r="1.20" fill="#3556b6"/>
<circle cx="254.33" cy="502.48" r="1.20" fill="#3556b6"/>
<circle cx="202.80" cy="502.56" r="1.20" fill="#3556b6"/>
<circle cx="197.11" cy="502.01" r="1.20" fill="#3556b6"/>
<circle cx="223.84" cy="502.37" r="1.20" fill="#3556b6"/>
<circle cx="205.20" cy="502.35" r="1.20" fill="#3556b6"/>
<circle cx="209.55" cy="501.99" r="1.20" fill="#3556b6"/>
<circle cx="259.08" cy="502.18" r="1.20" fill="#3556b6"/>
<circle cx="234.70" cy="502.17" r="1.20" fill="#3556b6"/>
<circle cx="195.86" cy="502.49" r="1.20" fill="#3556b6"/>
<circle cx="260.37" cy="502.12" r="1.20" fill="#3556b6"/>
<circle cx="214.57" cy="502.47" r="1.20" fill="#3556b6"/>
<circle cx="200.29" cy="502.80" r="1.20" fill="#3556b6"/>
<circle cx="265.96" cy="502.64" r="1.20" fill="#3556b6"/>
<circle cx="253.88" cy="502.65" r="1.20" fill="#3556b6"/>
<circle cx="225.87" cy="502.33" r="1.20" fill="#3556b6"/>
<circle cx="203.97" cy="502.56" r="1.20" fill="#3556b6"/>
<circle cx="200.28" cy="502.80" r="1.20" fill="#3556b6"/>
<circle cx="218.82" cy="502.08" r="1.20" fill="#3556b6"/>
<circle cx="206.83" cy="502.43" r="1.20" fill="#3556b6"/>
<circle cx="220.88" cy="502.36" r="1.20" fill="#3556b6"/>
<circle cx="206.35" cy="502.76" r="1.20" fill="#3556b6"/>
<circle cx="215.75" cy="501.96" r="1.20" fill="#3556b6"/>
<circle cx="236.00" cy="502.41" r="1.20" fill="#3556b6"/>
<circle cx="212.85" cy="502.18" r="1.20" fill="#3556b6"/>
<circle cx="201.01" cy="502.27" r="1.20" fill="#3556b6"/>
<circle cx="229.46" cy="502.74" r="1.20" fill="#3556b6"/>
<circle cx="229.58" cy="502.51" r="1.20" fill="#3556b6"/>
<circle cx="189.85" cy="502.41" r="1.20" fill="#3556b6"/>
<circle cx="189.61" cy="502.34" r="1.20" fill="#3556b6"/>
<circle cx="191.06" cy="500.42" r="1.20" fill="#3556b6"/>
<circle cx="190.17" cy="499.77" r="1.20" fill="#3556b6"/>
<circle cx="191.63" cy="501.23" r="1.20" fill="#3556b6"/>
<circle cx="283.05" cy="498.97" r="1.20" fill="#3556b6"/>
<circle cx="282.53" cy="500.86" r="1.20" fill="#3556b6"/>
<circle cx="282.97" cy="501.25" r="1.20" fill="#3556b6"/>
<circle cx="283.12" cy="499.41" r="1.20" fill="#3556b6"/>
<circle cx="370.46" cy="385.55" r="1.20" fill="#3556b6"/>
<circle cx="363.40" cy="385.24" r="1.20" fill="#3556b6"/>
<circle cx="368.44" cy="385.66" r="1.20" fill="#3556b6"/>
<circle cx="365.32" cy="385.69" r="1.20" fill="#3556b6"/>
<circle cx="366.90" cy="414.42" r="1.20" fill="#3556b6"/>
<circle cx="359.20" cy="413.91" r="1.20" fill="#3556b6"/>
<circle cx="359.48" cy="413.59" r="1.20" fill="#3556b6"/>
<circle cx="363.58" cy="413.49" r="1.20" fill="#3556b6"/>
<circle cx="373.80" cy="409.40" r="1.20" fill="#3556b6"/>
<circle cx="362.44" cy="408.13" r="1.20" fill="#3556b6"/>
<circle cx="366.20" cy="416.16" r="1.20" fill="#3556b6"/>
<circle cx="365.98" cy="415.54" r="1.20" fill="#3556b6"/>
<circle cx="362.67" cy="407.62" r="1.20" fill="#3556b6"/>
<circle cx="367.04" cy="407.41" r="1.20" fill="#3556b6"/>
<circle cx="365.51" cy="413.29" r="1.20" fill="#3556b6"/>
<circle cx="361.90" cy="414.07" r="1.20" fill="#3556b6"/>
<circle cx="371.11" cy="410.96" r="1.20" fill="#3556b6"/>
<circle cx="372.64" cy="411.97" r="1.20" fill="#3556b6"/>
<circle cx="372.80" cy="408.17" r="1.20" fill="#3556b6"/>
<circle cx="359.26" cy="410.27" r="1.20" fill="#3556b6"/>
<circle cx="401.30" cy="417.25" r="1.20" fill="#3556b6"/>
<circle cx="401.51" cy="415.44" r="1.20" fill="#3556b6"/>
<circle cx="401.50" cy="418.96" r="1.20" fill="#3556b6"/>
<circle cx="403.94" cy="415.15" r="1.20" fill="#3556b6"/>
<circle cx="404.38" cy="413.66" r="1.20" fill="#3556b6"/>
<circle cx="403.85" cy="414.18" r="1.20" fill="#3556b6"/>
<circle cx="362.31" cy="444.25" r="1.20" fill="#3556b6"/>
<circle cx="364.36" cy="444.44" r="1.20" fill="#3556b6"/>
<circle cx="363.70" cy="444.17" r="1.20" fill="#3556b6"/>
<circle cx="364.14" cy="445.60" r="1.20" fill="#3556b6"/>
<circle cx="361.19" cy="443.24" r="1.20" fill="#3556b6"/>
<circle cx="366.92" cy="445.06" r="1.20" fill="#3556b6"/>
<circle cx="360.90" cy="444.97" r="1.20" fill="#3556b6"/>
<circle cx="373.76" cy="442.98" r="1.20" fill="#3556b6"/>
<circle cx="373.96" cy="442.93" r="1.20" fill="#3556b6"/>
<circle cx="402.35" cy="444.77" r="1.20" fill="#3556b6"/>
<circle cx="402.36" cy="445.44" r="1.20" fill="#3556b6"/>
<circle cx="404.99" cy="444.97" r="1.20" fill="#3556b6"/>
<circle cx="404.44" cy="448.06" r="1.20" fill="#3556b6"/>
<circle cx="402.19" cy="449.99" r="1.20" fill="#3556b6"/>
<circle cx="404.58" cy="444.54" r="1.20" fill="#3556b6"/>
<circle cx="403.72" cy="450.22" r="1.20" fill="#3556b6"/>
<circle cx="403.43" cy="444.25" r="1.20" fill="#3556b6"/>
<circle cx="363.09" cy="481.61" r="1.20" fill="#3556b6"/>
<circle cx="362.78" cy="482.20" r="1.20" fill="#3556b6"/>
<circle cx="362.18" cy="481.77" r="1.20" fill="#3556b6"/>
<circle cx="365.15" cy="482.75" r="1.20" fill="#3556b6"/>
<circle cx="362.44" cy="482.37" r="1.20" fill="#3556b6"/>
<circle cx="371.97" cy="483.55" r="1.20" fill="#3556b6"/>
<circle cx="370.38" cy="484.04" r="1.20" fill="#3556b6"/>
<circle cx="362.37" cy="482.37" r="1.20" fill="#3556b6"/>
<circle cx="402.54" cy="483.14" r="1.20" fill="#3556b6"/>
<circle cx="402.13" cy="486.89" r="1.20" fill="#3556b6"/>
<circle cx="402.63" cy="484.40" r="1.20" fill="#3556b6"/>
<circle cx="402.48" cy="486.93" r="1.20" fill="#3556b6"/>
<circle cx="402.22" cy="485.39" r="1.20" fill="#3556b6"/>
<circle cx="402.12" cy="484.26" r="1.20" fill="#3556b6"/>
<circle cx="402.06" cy="484.39" r="1.20" fill="#3556b6"/>
<circle cx="85.22" cy="385.82" r="1.20" fill="#111111"/>
<circle cx="83.15" cy="384.65" r="1.20" fill="#111111"/>
<circle cx="87.98" cy="385.51" r="1.20" fill="#111111"/>
<circle cx="87.00" cy="385.72" r="1.20" fill="#111111"/>
<circle cx="86.26" cy="384.14" r="1.20" fill="#111111"/>
<circle cx="84.32" cy="384.90" r="1.20" fill="#111111"/>
<circle cx="89.32" cy="385.32" r="1.20" fill="#111111"/>
<circle cx="88.48" cy="385.73" r="1.20" fill="#111111"/>
<circle cx="84.92" cy="384.23" r="1.20" fill="#111111"/>
<circle cx="89.07" cy="385.27" r="1.20" fill="#111111"/>
<circle cx="85.88" cy="385.19" r="1.20" fill="#111111"/>
<circle cx="84.35" cy="385.19" r="1.20" fill="#111111"/>
<circle cx="88.87" cy="384.67" r="1.20" fill="#111111"/>
<circle cx="88.91" cy="384.67" r="1.20" fill="#111111"/>
<circle cx="90.02" cy="382.17" r="1.20" fill="#111111"/>
<circle cx="107.55" cy="384.95" r="1.20" fill="#111111"/>
<circle cx="109.13" cy="385.46" r="1.20" fill="#111111"/>
<circle cx="108.79" cy="384.12" r="1.20" fill="#111111"/>
<circle cx="116.55" cy="384.03" r="1.20" fill="#111111"/>
<circle cx="111.54" cy="385.37" r="1.20" fill="#111111"/>
<circle cx="109.38" cy="385.33" r="1.20" fill="#111111"/>
<circle cx="116.55" cy="384.23" r="1.20" fill="#111111"/>
<circle cx="114.45" cy="384.89" r="1.20" fill="#111111"/>
<circle cx="110.82" cy="384.48" r="1.20" fill="#111111"/>
<circle cx="115.68" cy="384.51" r="1.20" fill="#111111"/>
<circle cx="116.37" cy="384.73" r="1.20" fill="#111111"/>
<circle cx="115.07" cy="384.73" r="1.20" fill="#111111"/>
<circle cx="111.59" cy="384.31" r="1.20" fill="#111111"/>
<circle cx="110.36" cy="384.27" r="1.20" fill="#111111"/>
<circle cx="108.09" cy="384.01" r="1.20" fill="#111111"/>
<circle cx="113.78" cy="385.52" r="1.20" fill="#111111"/>
<circle cx="107.68" cy="382.52" r="1.20" fill="#111111"/>
<circle cx="124.94" cy="385.62" r="1.20" fill="#111111"/>
<circle cx="131.67" cy="383.86" r="1.20" fill="#111111"/>
<circle cx="127.75" cy="384.73" r="1.20" fill="#111111"/>
<circle cx="131.79" cy="385.53" r="1.20" fill="#111111"/>
<circle cx="136.90" cy="385.25" r="1.20" fill="#111111"/>
<circle cx="123.91" cy="384.07" r="1.20" fill="#111111"/>
<circle cx="138.24" cy="385.80" r="1.20" fill="#111111"/>
<circle cx="132.05" cy="385.21" r="1.20" fill="#111111"/>
<circle cx="136.13" cy="385.23" r="1.20" fill="#111111"/>
<circle cx="136.99" cy="385.80" r="1.20" fill="#111111"/>
<circle cx="141.16" cy="384.51" r="1.20" fill="#111111"/>
<circle cx="130.97" cy="384.14" r="1.20" fill="#111111"/>
<circle cx="137.81" cy="385.23" r="1.20" fill="#111111"/>
<circle cx="124.80" cy="384.53" r="1.20" fill="#111111"/>
<circle cx="131.49" cy="384.04" r="1.20" fill="#111111"/>
<circle cx="126.00" cy="384.11" r="1.20" fill="#111111"/>
<circle cx="139.88" cy="385.46" r="1.20" fill="#111111"/>
<circle cx="128.11" cy="384.58" r="1.20" fill="#111111"/>
<circle cx="128.69" cy="384.85" r="1.20" fill="#111111"/>
<circle cx="133.65" cy="385.06" r="1.20" fill="#111111"/>
<circle cx="125.47" cy="385.29" r="1.20" fill="#111111"/>
<circle cx="139.22" cy="384.18" r="1.20" fill="#111111"/>
<circle cx="125.03" cy="384.41" r="1.20" fill="#111111"/>
<circle cx="140.59" cy="384.59" r="1.20" fill="#111111"/>
<circle cx="142.22" cy="384.63" r="1.20" fill="#111111"/>
<circle cx="132.37" cy="385.04" r="1.20" fill="#111111"/>
<circle cx="134.68" cy="384.48" r="1.20" fill="#111111"/>
<circle cx="142.85" cy="385.58" r="1.20" fill="#111111"/>
<circle cx="129.51" cy="383.98" r="1.20" fill="#111111"/>
<circle cx="136.72" cy="385.24" r="1.20" fill="#111111"/>
<circle cx="134.25" cy="385.77" r="1.20" fill="#111111"/>
<circle cx="126.01" cy="385.82" r="1.20" fill="#111111"/>
<circle cx="130.54" cy="383.14" r="1.20" fill="#111111"/>
<circle cx="129.12" cy="382.90" r="1.20" fill="#111111"/>
<circle cx="154.18" cy="385.79" r="1.20" fill="#111111"/>
<circle cx="150.05" cy="385.64" r="1.20" fill="#111111"/>
<circle cx="153.41" cy="385.37" r="1.20" fill="#111111"/>
<circle cx="150.46" cy="385.47" r="1.20" fill="#111111"/>
<circle cx="151.59" cy="384.81" r="1.20" fill="#111111"/>
<circle cx="154.28" cy="385.87" r="1.20" fill="#111111"/>
<circle cx="155.01" cy="385.74" r="1.20" fill="#111111"/>
<circle cx="86.00" cy="417.25" r="1.20" fill="#111111"/>
<circle cx="84.15" cy="418.95" r="1.20" fill="#111111"/>
<circle cx="87.71" cy="415.83" r="1.20" fill="#111111"/>
<circle cx="87.94" cy="414.32" r="1.20" fill="#111111"/>
<circle cx="88.44" cy="417.91" r="1.20" fill="#111111"/>
<circle cx="87.29" cy="415.98" r="1.20" fill="#111111"/>
<circle cx="85.14" cy="415.44" r="1.20" fill="#111111"/>
<circle cx="88.55" cy="416.35" r="1.20" fill="#111111"/>
<circle cx="87.91" cy="418.01" r="1.20" fill="#111111"/>
<circle cx="88.22" cy="417.75" r="1.20" fill="#111111"/>
<circle cx="109.34" cy="419.72" r="1.20" fill="#111111"/>
<circle cx="112.73" cy="418.23" r="1.20" fill="#111111"/>
<circle cx="115.15" cy="416.08" r="1.20" fill="#111111"/>
<circle cx="111.78" cy="417.47" r="1.20" fill="#111111"/>
<circle cx="110.41" cy="419.68" r="1.20" fill="#111111"/>
<circle cx="116.78" cy="416.54" r="1.20" fill="#111111"/>
<circle cx="107.47" cy="419.83" r="1.20" fill="#111111"/>
<circle cx="113.58" cy="418.21" r="1.20" fill="#111111"/>
<circle cx="114.88" cy="416.45" r="1.20" fill="#111111"/>
<circle cx="110.98" cy="418.96" r="1.20" fill="#111111"/>
<circle cx="116.45" cy="416.04" r="1.20" fill="#111111"/>
<circle cx="107.14" cy="421.25" r="1.20" fill="#111111"/>
<circle cx="109.34" cy="418.53" r="1.20" fill="#111111"/>
<circle cx="110.81" cy="419.44" r="1.20" fill="#111111"/>
<circle cx="114.42" cy="416.43" r="1.20" fill="#111111"/>
<circle cx="106.88" cy="420.67" r="1.20" fill="#111111"/>
<circle cx="140.74" cy="421.15" r="1.20" fill="#111111"/>
<circle cx="128.27" cy="418.89" r="1.20" fill="#111111"/>
<circle cx="124.23" cy="421.74" r="1.20" fill="#111111"/>
<circle cx="126.76" cy="421.32" r="1.20" fill="#111111"/>
<circle cx="130.62" cy="419.22" r="1.20" fill="#111111"/>
<circle cx="124.38" cy="421.90" r="1.20" fill="#111111"/>
<circle cx="128.48" cy="424.20" r="1.20" fill="#111111"/>
<circle cx="139.05" cy="420.71" r="1.20" fill="#111111"/>
<circle cx="129.68" cy="421.47" r="1.20" fill="#111111"/>
<circle cx="131.50" cy="424.51" r="1.20" fill="#111111"/>
<circle cx="129.26" cy="424.68" r="1.20" fill="#111111"/>
<circle cx="124.88" cy="419.42" r="1.20" fill="#111111"/>
<circle cx="137.85" cy="422.99" r="1.20" fill="#111111"/>
<circle cx="123.34" cy="419.21" r="1.20" fill="#111111"/>
<circle cx="124.29" cy="423.33" r="1.20" fill="#111111"/>
<circle cx="139.12" cy="421.20" r="1.20" fill="#111111"/>
<circle cx="131.34" cy="419.86" r="1.20" fill="#111111"/>
<circle cx="140.45" cy="421.18" r="1.20" fill="#111111"/>
<circle cx="140.51" cy="424.46" r="1.20" fill="#111111"/>
<circle cx="132.87" cy="420.47" r="1.20" fill="#111111"/>
<circle cx="139.08" cy="421.83" r="1.20" fill="#111111"/>
<circle cx="134.95" cy="423.04" r="1.20" fill="#111111"/>
<circle cx="136.87" cy="421.17" r="1.20" fill="#111111"/>
<circle cx="141.81" cy="421.49" r="1.20" fill="#111111"/>
<circle cx="126.66" cy="419.78" r="1.20" fill="#111111"/>
<circle cx="131.57" cy="424.06" r="1.20" fill="#111111"/>
<circle cx="141.28" cy="421.71" r="1.20" fill="#111111"/>
<circle cx="126.19" cy="423.60" r="1.20" fill="#111111"/>
<circle cx="127.83" cy="418.92" r="1.20" fill="#111111"/>
<circle cx="138.44" cy="424.67" r="1.20" fill="#111111"/>
<circle cx="136.31" cy="422.78" r="1.20" fill="#111111"/>
<circle cx="131.31" cy="420.11" r="1.20" fill="#111111"/>
<circle cx="128.57" cy="423.02" r="1.20" fill="#111111"/>
<circle cx="140.69" cy="419.82" r="1.20" fill="#111111"/>
<circle cx="138.79" cy="420.11" r="1.20" fill="#111111"/>
<circle cx="141.24" cy="420.03" r="1.20" fill="#111111"/>
<circle cx="137.17" cy="423.02" r="1.20" fill="#111111"/>
<circle cx="136.39" cy="418.86" r="1.20" fill="#111111"/>
<circle cx="133.85" cy="420.27" r="1.20" fill="#111111"/>
<circle cx="126.33" cy="421.90" r="1.20" fill="#111111"/>
<circle cx="133.06" cy="420.19" r="1.20" fill="#111111"/>
<circle cx="132.86" cy="423.37" r="1.20" fill="#111111"/>
<circle cx="141.73" cy="421.78" r="1.20" fill="#111111"/>
<circle cx="125.25" cy="419.47" r="1.20" fill="#111111"/>
<circle cx="129.95" cy="418.77" r="1.20" fill="#111111"/>
<circle cx="149.06" cy="415.99" r="1.20" fill="#111111"/>
<circle cx="150.36" cy="416.14" r="1.20" fill="#111111"/>
<circle cx="149.07" cy="416.82" r="1.20" fill="#111111"/>
<circle cx="87.03" cy="454.87" r="1.20" fill="#111111"/>
<circle cx="84.53" cy="453.18" r="1.20" fill="#111111"/>
<circle cx="86.20" cy="451.18" r="1.20" fill="#111111"/>
<circle cx="85.40" cy="454.37" r="1.20" fill="#111111"/>
<circle cx="87.95" cy="455.75" r="1.20" fill="#111111"/>
<circle cx="84.90" cy="456.00" r="1.20" fill="#111111"/>
<circle cx="89.09" cy="452.25" r="1.20" fill="#111111"/>
<circle cx="84.71" cy="454.97" r="1.20" fill="#111111"/>
<circle cx="87.98" cy="456.16" r="1.20" fill="#111111"/>
<circle cx="84.36" cy="455.46" r="1.20" fill="#111111"/>
<circle cx="115.32" cy="456.72" r="1.20" fill="#111111"/>
<circle cx="114.97" cy="456.71" r="1.20" fill="#111111"/>
<circle cx="113.61" cy="454.15" r="1.20" fill="#111111"/>
<circle cx="113.67" cy="455.70" r="1.20" fill="#111111"/>
<circle cx="111.59" cy="453.90" r="1.20" fill="#111111"/>
<circle cx="109.88" cy="452.37" r="1.20" fill="#111111"/>
<circle cx="116.91" cy="458.11" r="1.20" fill="#111111"/>
<circle cx="110.75" cy="451.67" r="1.20" fill="#111111"/>
<circle cx="106.96" cy="448.83" r="1.20" fill="#111111"/>
<circle cx="116.86" cy="456.76" r="1.20" fill="#111111"/>
<circle cx="117.10" cy="457.44" r="1.20" fill="#111111"/>
<circle cx="115.34" cy="454.49" r="1.20" fill="#111111"/>
<circle cx="111.94" cy="453.56" r="1.20" fill="#111111"/>
<circle cx="117.43" cy="456.96" r="1.20" fill="#111111"/>
<circle cx="112.05" cy="453.82" r="1.20" fill="#111111"/>
<circle cx="114.61" cy="454.00" r="1.20" fill="#111111"/>
<circle cx="112.04" cy="453.61" r="1.20" fill="#111111"/>
<circle cx="112.09" cy="454.91" r="1.20" fill="#111111"/>
<circle cx="138.65" cy="451.14" r="1.20" fill="#111111"/>
<circle cx="134.92" cy="451.45" r="1.20" fill="#111111"/>
<circle cx="138.36" cy="454.57" r="1.20" fill="#111111"/>
<circle cx="133.87" cy="456.85" r="1.20" fill="#111111"/>
<circle cx="133.58" cy="452.01" r="1.20" fill="#111111"/>
<circle cx="133.69" cy="457.39" r="1.20" fill="#111111"/>
<circle cx="128.29" cy="459.23" r="1.20" fill="#111111"/>
<circle cx="130.99" cy="452.86" r="1.20" fill="#111111"/>
<circle cx="129.72" cy="451.79" r="1.20" fill="#111111"/>
<circle cx="130.30" cy="454.14" r="1.20" fill="#111111"/>
<circle cx="126.83" cy="453.40" r="1.20" fill="#111111"/>
<circle cx="127.12" cy="457.09" r="1.20" fill="#111111"/>
<circle cx="131.15" cy="452.17" r="1.20" fill="#111111"/>
<circle cx="132.78" cy="457.01" r="1.20" fill="#111111"/>
<circle cx="133.84" cy="451.39" r="1.20" fill="#111111"/>
<circle cx="127.04" cy="458.27" r="1.20" fill="#111111"/>
<circle cx="139.49" cy="455.65" r="1.20" fill="#111111"/>
<circle cx="133.66" cy="453.92" r="1.20" fill="#111111"/>
<circle cx="132.72" cy="455.98" r="1.20" fill="#111111"/>
<circle cx="125.87" cy="451.44" r="1.20" fill="#111111"/>
<circle cx="135.90" cy="448.63" r="1.20" fill="#111111"/>
<circle cx="132.46" cy="449.64" r="1.20" fill="#111111"/>
<circle cx="132.56" cy="448.02" r="1.20" fill="#111111"/>
<circle cx="126.17" cy="456.15" r="1.20" fill="#111111"/>
<circle cx="137.63" cy="454.71" r="1.20" fill="#111111"/>
<circle cx="133.70" cy="449.22" r="1.20" fill="#111111"/>
<circle cx="127.06" cy="458.92" r="1.20" fill="#111111"/>
<circle cx="123.33" cy="452.39" r="1.20" fill="#111111"/>
<circle cx="140.97" cy="456.87" r="1.20" fill="#111111"/>
<circle cx="132.60" cy="454.64" r="1.20" fill="#111111"/>
<circle cx="132.37" cy="449.97" r="1.20" fill="#111111"/>
<circle cx="139.83" cy="452.79" r="1.20" fill="#111111"/>
<circle cx="131.98" cy="448.97" r="1.20" fill="#111111"/>
<circle cx="131.43" cy="456.11" r="1.20" fill="#111111"/>
<circle cx="132.09" cy="451.88" r="1.20" fill="#111111"/>
<circle cx="127.46" cy="450.89" r="1.20" fill="#111111"/>
<circle cx="130.10" cy="458.99" r="1.20" fill="#111111"/>
<circle cx="136.26" cy="449.23" r="1.20" fill="#111111"/>
<circle cx="140.28" cy="448.09" r="1.20" fill="#111111"/>
<circle cx="123.91" cy="448.19" r="1.20" fill="#111111"/>
<circle cx="140.11" cy="449.17" r="1.20" fill="#111111"/>
<circle cx="123.15" cy="451.76" r="1.20" fill="#111111"/>
<circle cx="126.75" cy="449.05" r="1.20" fill="#111111"/>
<circle cx="128.23" cy="459.02" r="1.20" fill="#111111"/>
<circle cx="134.16" cy="451.51" r="1.20" fill="#111111"/>
<circle cx="133.13" cy="454.83" r="1.20" fill="#111111"/>
<circle cx="124.29" cy="451.15" r="1.20" fill="#111111"/>
<circle cx="123.16" cy="452.85" r="1.20" fill="#111111"/>
<circle cx="150.59" cy="456.18" r="1.20" fill="#111111"/>
<circle cx="153.49" cy="457.30" r="1.20" fill="#111111"/>
<circle cx="154.53" cy="457.25" r="1.20" fill="#111111"/>
<circle cx="155.20" cy="456.51" r="1.20" fill="#111111"/>
<circle cx="154.12" cy="456.20" r="1.20" fill="#111111"/>
<circle cx="151.92" cy="458.13" r="1.20" fill="#111111"/>
<circle cx="159.11" cy="454.90" r="1.20" fill="#111111"/>
<circle cx="86.81" cy="491.58" r="1.20" fill="#111111"/>
<circle cx="85.75" cy="492.58" r="1.20" fill="#111111"/>
<circle cx="86.92" cy="488.52" r="1.20" fill="#111111"/>
<circle cx="88.76" cy="492.22" r="1.20" fill="#111111"/>
<circle cx="87.57" cy="490.13" r="1.20" fill="#111111"/>
<circle cx="88.33" cy="490.17" r="1.20" fill="#111111"/>
<circle cx="84.38" cy="493.28" r="1.20" fill="#111111"/>
<circle cx="88.73" cy="492.51" r="1.20" fill="#111111"/>
<circle cx="87.41" cy="493.86" r="1.20" fill="#111111"/>
<circle cx="87.49" cy="492.34" r="1.20" fill="#111111"/>
<circle cx="108.21" cy="488.27" r="1.20" fill="#111111"/>
<circle cx="109.19" cy="487.40" r="1.20" fill="#111111"/>
<circle cx="111.76" cy="490.51" r="1.20" fill="#111111"/>
<circle cx="110.54" cy="488.81" r="1.20" fill="#111111"/>
<circle cx="111.04" cy="488.03" r="1.20" fill="#111111"/>
<circle cx="108.42" cy="487.71" r="1.20" fill="#111111"/>
<circle cx="112.34" cy="488.98" r="1.20" fill="#111111"/>
<circle cx="108.83" cy="487.10" r="1.20" fill="#111111"/>
<circle cx="114.82" cy="492.89" r="1.20" fill="#111111"/>
<circle cx="115.03" cy="491.99" r="1.20" fill="#111111"/>
<circle cx="116.29" cy="492.28" r="1.20" fill="#111111"/>
<circle cx="114.37" cy="489.90" r="1.20" fill="#111111"/>
<circle cx="114.84" cy="491.43" r="1.20" fill="#111111"/>
<circle cx="114.98" cy="492.18" r="1.20" fill="#111111"/>
<circle cx="116.44" cy="492.87" r="1.20" fill="#111111"/>
<circle cx="113.34" cy="491.70" r="1.20" fill="#111111"/>
<circle cx="124.39" cy="492.15" r="1.20" fill="#111111"/>
<circle cx="124.78" cy="488.10" r="1.20" fill="#111111"/>
<circle cx="124.20" cy="492.73" r="1.20" fill="#111111"/>
<circle cx="124.72" cy="492.05" r="1.20" fill="#111111"/>
<circle cx="124.65" cy="490.81" r="1.20" fill="#111111"/>
<circle cx="123.45" cy="489.32" r="1.20" fill="#111111"/>
<circle cx="130.80" cy="492.43" r="1.20" fill="#111111"/>
<circle cx="129.64" cy="492.51" r="1.20" fill="#111111"/>
<circle cx="131.45" cy="493.01" r="1.20" fill="#111111"/>
<circle cx="132.35" cy="494.75" r="1.20" fill="#111111"/>
<circle cx="127.75" cy="489.45" r="1.20" fill="#111111"/>
<circle cx="131.14" cy="495.07" r="1.20" fill="#111111"/>
<circle cx="128.70" cy="490.53" r="1.20" fill="#111111"/>
<circle cx="131.78" cy="496.02" r="1.20" fill="#111111"/>
<circle cx="128.64" cy="489.69" r="1.20" fill="#111111"/>
<circle cx="127.03" cy="488.37" r="1.20" fill="#111111"/>
<circle cx="136.68" cy="497.25" r="1.20" fill="#111111"/>
<circle cx="136.71" cy="497.91" r="1.20" fill="#111111"/>
<circle cx="136.57" cy="498.15" r="1.20" fill="#111111"/>
<circle cx="136.15" cy="496.15" r="1.20" fill="#111111"/>
<circle cx="133.31" cy="497.08" r="1.20" fill="#111111"/>
<circle cx="134.66" cy="495.55" r="1.20" fill="#111111"/>
<circle cx="133.34" cy="496.69" r="1.20" fill="#111111"/>
<circle cx="137.98" cy="498.65" r="1.20" fill="#111111"/>
<circle cx="142.78" cy="496.04" r="1.20" fill="#111111"/>
<circle cx="140.72" cy="496.06" r="1.20" fill="#111111"/>
<circle cx="141.42" cy="496.16" r="1.20" fill="#111111"/>
<circle cx="140.36" cy="495.00" r="1.20" fill="#111111"/>
<circle cx="138.81" cy="495.78" r="1.20" fill="#111111"/>
<circle cx="138.48" cy="498.14" r="1.20" fill="#111111"/>
<circle cx="139.12" cy="496.68" r="1.20" fill="#111111"/>
<circle cx="139.55" cy="496.65" r="1.20" fill="#111111"/>
<circle cx="150.30" cy="493.65" r="1.20" fill="#111111"/>
<circle cx="150.03" cy="494.62" r="1.20" fill="#111111"/>
<circle cx="153.29" cy="492.28" r="1.20" fill="#111111"/>
<circle cx="152.31" cy="495.14" r="1.20" fill="#111111"/>
<circle cx="153.79" cy="494.75" r="1.20" fill="#111111"/>
<circle cx="153.49" cy="493.09" r="1.20" fill="#111111"/>
<circle cx="154.36" cy="494.75" r="1.20" fill="#111111"/>
<circle cx="218.11" cy="385.84" r="1.20" fill="#111111"/>
<circle cx="264.99" cy="384.97" r="1.20" fill="#111111"/>
<circle cx="217.10" cy="385.66" r="1.20" fill="#111111"/>
<circle cx="261.28" cy="385.37" r="1.20" fill="#111111"/>
<circle cx="200.07" cy="385.19" r="1.20" fill="#111111"/>
<circle cx="219.07" cy="384.67" r="1.20" fill="#111111"/>
<circle cx="194.83" cy="384.75" r="1.20" fill="#111111"/>
<circle cx="261.11" cy="385.81" r="1.20" fill="#111111"/>
<circle cx="244.37" cy="384.81" r="1.20" fill="#111111"/>
<circle cx="250.63" cy="384.59" r="1.20" fill="#111111"/>
<circle cx="227.39" cy="384.93" r="1.20" fill="#111111"/>
<circle cx="236.96" cy="385.24" r="1.20" fill="#111111"/>
<circle cx="200.70" cy="385.08" r="1.20" fill="#111111"/>
<circle cx="232.15" cy="385.38" r="1.20" fill="#111111"/>
<circle cx="248.35" cy="384.56" r="1.20" fill="#111111"/>
<circle cx="230.73" cy="385.33" r="1.20" fill="#111111"/>
<circle cx="230.74" cy="384.79" r="1.20" fill="#111111"/>
<circle cx="214.13" cy="384.66" r="1.20" fill="#111111"/>
<circle cx="242.86" cy="384.84" r="1.20" fill="#111111"/>
<circle cx="237.63" cy="385.80" r="1.20" fill="#111111"/>
<circle cx="241.74" cy="384.60" r="1.20" fill="#111111"/>
<circle cx="243.47" cy="384.63" r="1.20" fill="#111111"/>
<circle cx="201.63" cy="385.22" r="1.20" fill="#111111"/>
<circle cx="247.42" cy="384.47" r="1.20" fill="#111111"/>
<circle cx="196.66" cy="385.59" r="1.20" fill="#111111"/>
<circle cx="209.12" cy="385.52" r="1.20" fill="#111111"/>
<circle cx="241.84" cy="385.28" r="1.20" fill="#111111"/>
<circle cx="263.87" cy="384.88" r="1.20" fill="#111111"/>
<circle cx="245.65" cy="384.54" r="1.20" fill="#111111"/>
<circle cx="258.87" cy="385.86" r="1.20" fill="#111111"/>
<circle cx="223.89" cy="384.92" r="1.20" fill="#111111"/>
<circle cx="247.89" cy="384.54" r="1.20" fill="#111111"/>
<circle cx="206.38" cy="385.15" r="1.20" fill="#111111"/>
<circle cx="261.97" cy="385.62" r="1.20" fill="#111111"/>
<circle cx="193.42" cy="385.26" r="1.20" fill="#111111"/>
<circle cx="203.97" cy="385.85" r="1.20" fill="#111111"/>
<circle cx="221.52" cy="384.94" r="1.20" fill="#111111"/>
<circle cx="241.55" cy="384.61" r="1.20" fill="#111111"/>
<circle cx="212.53" cy="385.48" r="1.20" fill="#111111"/>
<circle cx="262.27" cy="385.82" r="1.20" fill="#111111"/>
<circle cx="237.64" cy="385.69" r="1.20" fill="#111111"/>
<circle cx="250.69" cy="385.72" r="1.20" fill="#111111"/>
<circle cx="256.91" cy="385.46" r="1.20" fill="#111111"/>
<circle cx="264.50" cy="384.95" r="1.20" fill="#111111"/>
<circle cx="251.62" cy="385.59" r="1.20" fill="#111111"/>
<circle cx="243.75" cy="384.91" r="1.20" fill="#111111"/>
<circle cx="222.02" cy="385.06" r="1.20" fill="#111111"/>
<circle cx="232.93" cy="384.63" r="1.20" fill="#111111"/>
<circle cx="269.84" cy="384.67" r="1.20" fill="#111111"/>
<circle cx="229.87" cy="385.75" r="1.20" fill="#111111"/>
<circle cx="240.58" cy="384.44" r="1.20" fill="#111111"/>
<circle cx="207.18" cy="385.70" r="1.20" fill="#111111"/>
<circle cx="205.21" cy="385.77" r="1.20" fill="#111111"/>
<circle cx="230.98" cy="385.60" r="1.20" fill="#111111"/>
<circle cx="260.86" cy="384.56" r="1.20" fill="#111111"/>
<circle cx="259.69" cy="385.10" r="1.20" fill="#111111"/>
<circle cx="225.88" cy="384.90" r="1.20" fill="#111111"/>
<circle cx="222.46" cy="385.05" r="1.20" fill="#111111"/>
<circle cx="194.99" cy="385.07" r="1.20" fill="#111111"/>
<circle cx="234.83" cy="385.57" r="1.20" fill="#111111"/>
<circle cx="204.41" cy="385.24" r="1.20" fill="#111111"/>
<circle cx="262.01" cy="384.41" r="1.20" fill="#111111"/>
<circle cx="246.71" cy="385.41" r="1.20" fill="#111111"/>
<circle cx="216.32" cy="384.51" r="1.20" fill="#111111"/>
<circle cx="211.33" cy="385.00" r="1.20" fill="#111111"/>
<circle cx="247.76" cy="385.48" r="1.20" fill="#111111"/>
<circle cx="264.14" cy="385.52" r="1.20" fill="#111111"/>
<circle cx="269.35" cy="384.84" r="1.20" fill="#111111"/>
<circle cx="232.21" cy="385.03" r="1.20" fill="#111111"/>
<circle cx="261.38" cy="384.61" r="1.20" fill="#111111"/>
<circle cx="193.44" cy="385.42" r="1.20" fill="#111111"/>
<circle cx="190.73" cy="385.26" r="1.20" fill="#111111"/>
<circle cx="246.45" cy="385.31" r="1.20" fill="#111111"/>
<circle cx="235.03" cy="385.65" r="1.20" fill="#111111"/>
<circle cx="206.44" cy="385.40" r="1.20" fill="#111111"/>
<circle cx="210.41" cy="384.83" r="1.20" fill="#111111"/>
<circle cx="252.41" cy="385.44" r="1.20" fill="#111111"/>
<circle cx="257.01" cy="385.37" r="1.20" fill="#111111"/>
<circle cx="256.59" cy="384.84" r="1.20" fill="#111111"/>
<circle cx="230.02" cy="384.74" r="1.20" fill="#111111"/>
<circle cx="253.11" cy="385.57" r="1.20" fill="#111111"/>
<circle cx="261.87" cy="385.39" r="1.20" fill="#111111"/>
<circle cx="194.99" cy="384.41" r="1.20" fill="#111111"/>
<circle cx="269.37" cy="384.90" r="1.20" fill="#111111"/>
<circle cx="193.48" cy="385.88" r="1.20" fill="#111111"/>
<circle cx="252.51" cy="384.86" r="1.20" fill="#111111"/>
<circle cx="257.34" cy="384.46" r="1.20" fill="#111111"/>
<circle cx="240.18" cy="384.68" r="1.20" fill="#111111"/>
<circle cx="219.27" cy="385.29" r="1.20" fill="#111111"/>
<circle cx="239.35" cy="385.44" r="1.20" fill="#111111"/>
<circle cx="242.36" cy="384.57" r="1.20" fill="#111111"/>
<circle cx="225.81" cy="384.56" r="1.20" fill="#111111"/>
<circle cx="251.09" cy="385.51" r="1.20" fill="#111111"/>
<circle cx="195.43" cy="385.42" r="1.20" fill="#111111"/>
<circle cx="237.66" cy="385.03" r="1.20" fill="#111111"/>
<circle cx="202.97" cy="384.87" r="1.20" fill="#111111"/>
<circle cx="215.48" cy="385.32" r="1.20" fill="#111111"/>
<circle cx="199.03" cy="384.83" r="1.20" fill="#111111"/>
<circle cx="209.95" cy="385.59" r="1.20" fill="#111111"/>
<circle cx="261.64" cy="385.40" r="1.20" fill="#111111"/>
<circle cx="254.60" cy="385.81" r="1.20" fill="#111111"/>
<circle cx="230.32" cy="384.93" r="1.20" fill="#111111"/>
<circle cx="246.36" cy="385.20" r="1.20" fill="#111111"/>
<circle cx="203.79" cy="385.08" r="1.20" fill="#111111"/>
<circle cx="260.67" cy="385.46" r="1.20" fill="#111111"/>
<circle cx="222.53" cy="384.90" r="1.20" fill="#111111"/>
<circle cx="218.13" cy="384.92" r="1.20" fill="#111111"/>
<circle cx="223.40" cy="385.65" r="1.20" fill="#111111"/>
<circle cx="228.25" cy="385.81" r="1.20" fill="#111111"/>
<circle cx="196.40" cy="385.25" r="1.20" fill="#111111"/>
<circle cx="217.31" cy="384.69" r="1.20" fill="#111111"/>
<circle cx="194.27" cy="385.38" r="1.20" fill="#111111"/>
<circle cx="238.20" cy="385.04" r="1.20" fill="#111111"/>
<circle cx="239.60" cy="385.03" r="1.20" fill="#111111"/>
<circle cx="267.16" cy="385.56" r="1.20" fill="#111111"/>
<circle cx="230.49" cy="385.79" r="1.20" fill="#111111"/>
<circle cx="251.12" cy="385.07" r="1.20" fill="#111111"/>
<circle cx="267.26" cy="385.73" r="1.20" fill="#111111"/>
<circle cx="233.04" cy="385.50" r="1.20" fill="#111111"/>
<circle cx="223.59" cy="384.50" r="1.20" fill="#111111"/>
<circle cx="208.38" cy="385.70" r="1.20" fill="#111111"/>
<circle cx="222.29" cy="385.49" r="1.20" fill="#111111"/>
<circle cx="251.60" cy="384.83" r="1.20" fill="#111111"/>
<circle cx="211.07" cy="384.64" r="1.20" fill="#111111"/>
<circle cx="208.80" cy="385.80" r="1.20" fill="#111111"/>
<circle cx="203.64" cy="385.03" r="1.20" fill="#111111"/>
<circle cx="251.84" cy="384.82" r="1.20" fill="#111111"/>
<circle cx="202.84" cy="385.31" r="1.20" fill="#111111"/>
<circle cx="293.29" cy="384.95" r="1.20" fill="#111111"/>
<circle cx="292.51" cy="385.67" r="1.20" fill="#111111"/>
<circle cx="293.03" cy="385.64" r="1.20" fill="#111111"/>
<circle cx="281.46" cy="385.18" r="1.20" fill="#111111"/>
<circle cx="290.69" cy="384.95" r="1.20" fill="#111111"/>
<circle cx="288.29" cy="385.63" r="1.20" fill="#111111"/>
<circle cx="289.51" cy="385.19" r="1.20" fill="#111111"/>
<circle cx="281.01" cy="385.50" r="1.20" fill="#111111"/>
<circle cx="286.76" cy="384.80" r="1.20" fill="#111111"/>
<circle cx="295.60" cy="384.43" r="1.20" fill="#111111"/>
<circle cx="289.52" cy="385.37" r="1.20" fill="#111111"/>
<circle cx="293.86" cy="384.70" r="1.20" fill="#111111"/>
<circle cx="295.40" cy="385.52" r="1.20" fill="#111111"/>
<circle cx="295.97" cy="385.01" r="1.20" fill="#111111"/>
<circle cx="290.67" cy="385.55" r="1.20" fill="#111111"/>
<circle cx="294.83" cy="385.68" r="1.20" fill="#111111"/>
<circle cx="291.35" cy="384.51" r="1.20" fill="#111111"/>
<circle cx="293.04" cy="385.58" r="1.20" fill="#111111"/>
<circle cx="295.70" cy="384.63" r="1.20" fill="#111111"/>
<circle cx="295.93" cy="384.70" r="1.20" fill="#111111"/>
<circle cx="295.24" cy="385.57" r="1.20" fill="#111111"/>
<circle cx="284.18" cy="385.54" r="1.20" fill="#111111"/>
<circle cx="288.13" cy="385.63" r="1.20" fill="#111111"/>
<circle cx="294.55" cy="384.65" r="1.20" fill="#111111"/>
<circle cx="192.76" cy="421.65" r="1.20" fill="#111111"/>
<circle cx="190.49" cy="421.86" r="1.20" fill="#111111"/>
<circle cx="192.00" cy="421.40" r="1.20" fill="#111111"/>
<circle cx="196.74" cy="422.49" r="1.20" fill="#111111"/>
<circle cx="195.14" cy="419.27" r="1.20" fill="#111111"/>
<circle cx="191.65" cy="420.03" r="1.20" fill="#111111"/>
<circle cx="191.90" cy="418.90" r="1.20" fill="#111111"/>
<circle cx="194.51" cy="421.17" r="1.20" fill="#111111"/>
<circle cx="199.15" cy="420.54" r="1.20" fill="#111111"/>
<circle cx="193.21" cy="421.95" r="1.20" fill="#111111"/>
<circle cx="190.20" cy="421.40" r="1.20" fill="#111111"/>
<circle cx="189.26" cy="419.02" r="1.20" fill="#111111"/>
<circle cx="216.15" cy="415.44" r="1.20" fill="#111111"/>
<circle cx="208.68" cy="419.32" r="1.20" fill="#111111"/>
<circle cx="205.18" cy="421.10" r="1.20" fill="#111111"/>
<circle cx="205.18" cy="420.58" r="1.20" fill="#111111"/>
<circle cx="209.06" cy="419.69" r="1.20" fill="#111111"/>
<circle cx="209.44" cy="418.64" r="1.20" fill="#111111"/>
<circle cx="202.53" cy="420.62" r="1.20" fill="#111111"/>
<circle cx="216.30" cy="415.65" r="1.20" fill="#111111"/>
<circle cx="209.75" cy="419.29" r="1.20" fill="#111111"/>
<circle cx="212.89" cy="418.30" r="1.20" fill="#111111"/>
<circle cx="215.27" cy="417.42" r="1.20" fill="#111111"/>
<circle cx="203.49" cy="419.71" r="1.20" fill="#111111"/>
<circle cx="203.79" cy="421.12" r="1.20" fill="#111111"/>
<circle cx="212.54" cy="417.98" r="1.20" fill="#111111"/>
<circle cx="207.10" cy="418.14" r="1.20" fill="#111111"/>
<circle cx="215.62" cy="415.16" r="1.20" fill="#111111"/>
<circle cx="234.53" cy="421.39" r="1.20" fill="#111111"/>
<circle cx="235.34" cy="421.19" r="1.20" fill="#111111"/>
<circle cx="245.11" cy="422.12" r="1.20" fill="#111111"/>
<circle cx="241.49" cy="418.75" r="1.20" fill="#111111"/>
<circle cx="227.25" cy="418.79" r="1.20" fill="#111111"/>
<circle cx="238.01" cy="418.68" r="1.20" fill="#111111"/>
<circle cx="233.43" cy="422.91" r="1.20" fill="#111111"/>
<circle cx="232.55" cy="417.67" r="1.20" fill="#111111"/>
<circle cx="243.58" cy="421.76" r="1.20" fill="#111111"/>
<circle cx="236.86" cy="423.64" r="1.20" fill="#111111"/>
<circle cx="238.73" cy="420.07" r="1.20" fill="#111111"/>
<circle cx="230.11" cy="422.07" r="1.20" fill="#111111"/>
<circle cx="222.16" cy="422.29" r="1.20" fill="#111111"/>
<circle cx="231.14" cy="421.09" r="1.20" fill="#111111"/>
<circle cx="224.01" cy="419.34" r="1.20" fill="#111111"/>
<circle cx="220.27" cy="422.67" r="1.20" fill="#111111"/>
<circle cx="227.39" cy="422.69" r="1.20" fill="#111111"/>
<circle cx="241.13" cy="417.69" r="1.20" fill="#111111"/>
<circle cx="232.23" cy="421.66" r="1.20" fill="#111111"/>
<circle cx="241.92" cy="418.94" r="1.20" fill="#111111"/>
<circle cx="236.91" cy="417.87" r="1.20" fill="#111111"/>
<circle cx="221.92" cy="420.01" r="1.20" fill="#111111"/>
<circle cx="226.97" cy="417.59" r="1.20" fill="#111111"/>
<circle cx="221.68" cy="418.12" r="1.20" fill="#111111"/>
<circle cx="243.81" cy="423.46" r="1.20" fill="#111111"/>
<circle cx="243.00" cy="420.56" r="1.20" fill="#111111"/>
<circle cx="243.39" cy="420.80" r="1.20" fill="#111111"/>
<circle cx="245.46" cy="421.79" r="1.20" fill="#111111"/>
<circle cx="225.01" cy="419.74" r="1.20" fill="#111111"/>
<circle cx="245.36" cy="422.18" r="1.20" fill="#111111"/>
<circle cx="254.24" cy="421.64" r="1.20" fill="#111111"/>
<circle cx="250.46" cy="419.61" r="1.20" fill="#111111"/>
<circle cx="255.24" cy="420.31" r="1.20" fill="#111111"/>
<circle cx="257.17" cy="419.38" r="1.20" fill="#111111"/>
<circle cx="246.42" cy="419.61" r="1.20" fill="#111111"/>
<circle cx="246.42" cy="421.78" r="1.20" fill="#111111"/>
<circle cx="252.42" cy="420.81" r="1.20" fill="#111111"/>
<circle cx="254.23" cy="420.81" r="1.20" fill="#111111"/>
<circle cx="255.72" cy="419.97" r="1.20" fill="#111111"/>
<circle cx="253.11" cy="419.61" r="1.20" fill="#111111"/>
<circle cx="252.03" cy="420.09" r="1.20" fill="#111111"/>
<circle cx="246.07" cy="422.31" r="1.20" fill="#111111"/>
<circle cx="261.75" cy="422.00" r="1.20" fill="#111111"/>
<circle cx="260.31" cy="419.61" r="1.20" fill="#111111"/>
<circle cx="263.31" cy="422.35" r="1.20" fill="#111111"/>
<circle cx="265.86" cy="422.27" r="1.20" fill="#111111"/>
<circle cx="261.60" cy="422.15" r="1.20" fill="#111111"/>
<circle cx="266.13" cy="420.58" r="1.20" fill="#111111"/>
<circle cx="258.16" cy="419.54" r="1.20" fill="#111111"/>
<circle cx="260.15" cy="421.83" r="1.20" fill="#111111"/>
<circle cx="259.24" cy="420.10" r="1.20" fill="#111111"/>
<circle cx="264.68" cy="421.88" r="1.20" fill="#111111"/>
<circle cx="269.94" cy="421.12" r="1.20" fill="#111111"/>
<circle cx="259.60" cy="419.05" r="1.20" fill="#111111"/>
<circle cx="289.08" cy="419.17" r="1.20" fill="#111111"/>
<circle cx="289.63" cy="419.13" r="1.20" fill="#111111"/>
<circle cx="288.60" cy="421.44" r="1.20" fill="#111111"/>
<circle cx="290.79" cy="418.72" r="1.20" fill="#111111"/>
<circle cx="290.28" cy="421.36" r="1.20" fill="#111111"/>
<circle cx="194.20" cy="456.46" r="1.20" fill="#111111"/>
<circle cx="194.78" cy="455.51" r="1.20" fill="#111111"/>
<circle cx="191.82" cy="454.81" r="1.20" fill="#111111"/>
<circle cx="196.65" cy="457.76" r="1.20" fill="#111111"/>
<circle cx="198.44" cy="456.44" r="1.20" fill="#111111"/>
<circle cx="191.96" cy="454.37" r="1.20" fill="#111111"/>
<circle cx="189.49" cy="454.84" r="1.20" fill="#111111"/>
<circle cx="198.38" cy="456.13" r="1.20" fill="#111111"/>
<circle cx="199.04" cy="456.98" r="1.20" fill="#111111"/>
<circle cx="199.05" cy="458.30" r="1.20" fill="#111111"/>
<circle cx="215.73" cy="457.39" r="1.20" fill="#111111"/>
<circle cx="213.41" cy="452.23" r="1.20" fill="#111111"/>
<circle cx="211.48" cy="453.17" r="1.20" fill="#111111"/>
<circle cx="213.86" cy="453.17" r="1.20" fill="#111111"/>
<circle cx="205.05" cy="455.49" r="1.20" fill="#111111"/>
<circle cx="213.46" cy="453.95" r="1.20" fill="#111111"/>
<circle cx="217.20" cy="457.46" r="1.20" fill="#111111"/>
<circle cx="211.81" cy="454.61" r="1.20" fill="#111111"/>
<circle cx="210.19" cy="452.70" r="1.20" fill="#111111"/>
<circle cx="211.55" cy="458.15" r="1.20" fill="#111111"/>
<circle cx="251.50" cy="452.85" r="1.20" fill="#111111"/>
<circle cx="254.16" cy="454.61" r="1.20" fill="#111111"/>
<circle cx="243.51" cy="452.10" r="1.20" fill="#111111"/>
<circle cx="254.30" cy="453.13" r="1.20" fill="#111111"/>
<circle cx="259.66" cy="457.27" r="1.20" fill="#111111"/>
<circle cx="254.19" cy="452.10" r="1.20" fill="#111111"/>
<circle cx="255.73" cy="451.48" r="1.20" fill="#111111"/>
<circle cx="240.19" cy="452.78" r="1.20" fill="#111111"/>
<circle cx="257.20" cy="452.84" r="1.20" fill="#111111"/>
<circle cx="245.65" cy="454.66" r="1.20" fill="#111111"/>
<circle cx="264.40" cy="456.47" r="1.20" fill="#111111"/>
<circle cx="236.60" cy="456.82" r="1.20" fill="#111111"/>
<circle cx="260.85" cy="452.23" r="1.20" fill="#111111"/>
<circle cx="238.41" cy="455.23" r="1.20" fill="#111111"/>
<circle cx="258.26" cy="453.58" r="1.20" fill="#111111"/>
<circle cx="241.83" cy="451.44" r="1.20" fill="#111111"/>
<circle cx="246.40" cy="457.33" r="1.20" fill="#111111"/>
<circle cx="238.91" cy="455.55" r="1.20" fill="#111111"/>
<circle cx="228.95" cy="453.67" r="1.20" fill="#111111"/>
<circle cx="247.43" cy="453.14" r="1.20" fill="#111111"/>
<circle cx="263.75" cy="456.52" r="1.20" fill="#111111"/>
<circle cx="234.77" cy="453.59" r="1.20" fill="#111111"/>
<circle cx="255.94" cy="453.23" r="1.20" fill="#111111"/>
<circle cx="224.50" cy="452.55" r="1.20" fill="#111111"/>
<circle cx="233.16" cy="457.48" r="1.20" fill="#111111"/>
<circle cx="266.52" cy="457.19" r="1.20" fill="#111111"/>
<circle cx="265.55" cy="456.52" r="1.20" fill="#111111"/>
<circle cx="231.48" cy="451.69" r="1.20" fill="#111111"/>
<circle cx="255.53" cy="451.39" r="1.20" fill="#111111"/>
<circle cx="223.81" cy="453.28" r="1.20" fill="#111111"/>
<circle cx="241.98" cy="456.08" r="1.20" fill="#111111"/>
<circle cx="241.64" cy="452.46" r="1.20" fill="#111111"/>
<circle cx="243.46" cy="451.57" r="1.20" fill="#111111"/>
<circle cx="265.11" cy="453.82" r="1.20" fill="#111111"/>
<circle cx="227.56" cy="457.07" r="1.20" fill="#111111"/>
<circle cx="246.78" cy="452.28" r="1.20" fill="#111111"/>
<circle cx="267.99" cy="453.04" r="1.20" fill="#111111"/>
<circle cx="222.04" cy="451.74" r="1.20" fill="#111111"/>
<circle cx="249.23" cy="457.10" r="1.20" fill="#111111"/>
<circle cx="254.25" cy="451.53" r="1.20" fill="#111111"/>
<circle cx="234.59" cy="454.03" r="1.20" fill="#111111"/>
<circle cx="250.91" cy="453.82" r="1.20" fill="#111111"/>
<circle cx="237.51" cy="454.20" r="1.20" fill="#111111"/>
<circle cx="264.37" cy="454.19" r="1.20" fill="#111111"/>
<circle cx="229.75" cy="454.05" r="1.20" fill="#111111"/>
<circle cx="256.26" cy="457.45" r="1.20" fill="#111111"/>
<circle cx="261.67" cy="454.71" r="1.20" fill="#111111"/>
<circle cx="231.87" cy="456.45" r="1.20" fill="#111111"/>
<circle cx="225.69" cy="452.13" r="1.20" fill="#111111"/>
<circle cx="259.69" cy="455.13" r="1.20" fill="#111111"/>
<circle cx="218.89" cy="462.59" r="1.20" fill="#111111"/>
<circle cx="211.03" cy="461.68" r="1.20" fill="#111111"/>
<circle cx="283.52" cy="456.96" r="1.20" fill="#111111"/>
<circle cx="282.64" cy="457.29" r="1.20" fill="#111111"/>
<circle cx="283.11" cy="455.83" r="1.20" fill="#111111"/>
<circle cx="293.06" cy="449.97" r="1.20" fill="#111111"/>
<circle cx="294.78" cy="453.19" r="1.20" fill="#111111"/>
<circle cx="291.36" cy="454.42" r="1.20" fill="#111111"/>
<circle cx="292.67" cy="452.90" r="1.20" fill="#111111"/>
<circle cx="293.57" cy="453.44" r="1.20" fill="#111111"/>
<circle cx="290.88" cy="451.20" r="1.20" fill="#111111"/>
<circle cx="190.65" cy="493.81" r="1.20" fill="#111111"/>
<circle cx="195.14" cy="492.49" r="1.20" fill="#111111"/>
<circle cx="190.34" cy="493.02" r="1.20" fill="#111111"/>
<circle cx="193.98" cy="493.47" r="1.20" fill="#111111"/>
<circle cx="189.75" cy="491.77" r="1.20" fill="#111111"/>
<circle cx="196.68" cy="494.47" r="1.20" fill="#111111"/>
<circle cx="194.90" cy="491.76" r="1.20" fill="#111111"/>
<circle cx="197.16" cy="495.55" r="1.20" fill="#111111"/>
<circle cx="192.50" cy="494.09" r="1.20" fill="#111111"/>
<circle cx="198.56" cy="492.74" r="1.20" fill="#111111"/>
<circle cx="197.25" cy="495.54" r="1.20" fill="#111111"/>
<circle cx="197.20" cy="494.98" r="1.20" fill="#111111"/>
<circle cx="191.03" cy="492.87" r="1.20" fill="#111111"/>
<circle cx="195.69" cy="494.32" r="1.20" fill="#111111"/>
<circle cx="210.62" cy="491.59" r="1.20" fill="#111111"/>
<circle cx="211.66" cy="494.70" r="1.20" fill="#111111"/>
<circle cx="206.71" cy="492.05" r="1.20" fill="#111111"/>
<circle cx="205.96" cy="493.07" r="1.20" fill="#111111"/>
<circle cx="211.05" cy="494.59" r="1.20" fill="#111111"/>
<circle cx="202.52" cy="492.35" r="1.20" fill="#111111"/>
<circle cx="209.91" cy="490.71" r="1.20" fill="#111111"/>
<circle cx="205.23" cy="492.41" r="1.20" fill="#111111"/>
<circle cx="204.80" cy="491.13" r="1.20" fill="#111111"/>
<circle cx="208.13" cy="492.98" r="1.20" fill="#111111"/>
<circle cx="209.40" cy="491.18" r="1.20" fill="#111111"/>
<circle cx="211.29" cy="490.82" r="1.20" fill="#111111"/>
<circle cx="219.45" cy="490.59" r="1.20" fill="#111111"/>
<circle cx="219.80" cy="493.34" r="1.20" fill="#111111"/>
<circle cx="212.25" cy="496.66" r="1.20" fill="#111111"/>
<circle cx="221.45" cy="491.40" r="1.20" fill="#111111"/>
<circle cx="220.18" cy="494.92" r="1.20" fill="#111111"/>
<circle cx="219.86" cy="493.87" r="1.20" fill="#111111"/>
<circle cx="214.95" cy="494.65" r="1.20" fill="#111111"/>
<circle cx="220.34" cy="491.51" r="1.20" fill="#111111"/>
<circle cx="221.88" cy="494.64" r="1.20" fill="#111111"/>
<circle cx="216.37" cy="493.25" r="1.20" fill="#111111"/>
<circle cx="216.48" cy="494.40" r="1.20" fill="#111111"/>
<circle cx="220.98" cy="492.33" r="1.20" fill="#111111"/>
<circle cx="223.98" cy="494.77" r="1.20" fill="#111111"/>
<circle cx="227.16" cy="493.57" r="1.20" fill="#111111"/>
<circle cx="223.30" cy="492.83" r="1.20" fill="#111111"/>
<circle cx="231.09" cy="487.88" r="1.20" fill="#111111"/>
<circle cx="230.96" cy="490.39" r="1.20" fill="#111111"/>
<circle cx="233.97" cy="488.15" r="1.20" fill="#111111"/>
<circle cx="233.51" cy="486.99" r="1.20" fill="#111111"/>
<circle cx="228.30" cy="493.33" r="1.20" fill="#111111"/>
<circle cx="226.47" cy="490.86" r="1.20" fill="#111111"/>
<circle cx="227.44" cy="492.85" r="1.20" fill="#111111"/>
<circle cx="224.87" cy="492.31" r="1.20" fill="#111111"/>
<circle cx="222.02" cy="493.37" r="1.20" fill="#111111"/>
<circle cx="224.10" cy="495.61" r="1.20" fill="#111111"/>
<circle cx="225.58" cy="493.70" r="1.20" fill="#111111"/>
<circle cx="229.57" cy="489.86" r="1.20" fill="#111111"/>
<circle cx="228.27" cy="490.95" r="1.20" fill="#111111"/>
<circle cx="235.40" cy="489.07" r="1.20" fill="#111111"/>
<circle cx="240.84" cy="493.62" r="1.20" fill="#111111"/>
<circle cx="244.69" cy="492.55" r="1.20" fill="#111111"/>
<circle cx="239.80" cy="492.60" r="1.20" fill="#111111"/>
<circle cx="240.20" cy="489.72" r="1.20" fill="#111111"/>
<circle cx="241.97" cy="493.97" r="1.20" fill="#111111"/>
<circle cx="238.14" cy="488.63" r="1.20" fill="#111111"/>
<circle cx="236.08" cy="489.26" r="1.20" fill="#111111"/>
<circle cx="243.68" cy="491.79" r="1.20" fill="#111111"/>
<circle cx="241.34" cy="493.97" r="1.20" fill="#111111"/>
<circle cx="237.84" cy="491.75" r="1.20" fill="#111111"/>
<circle cx="237.60" cy="489.65" r="1.20" fill="#111111"/>
<circle cx="248.54" cy="494.23" r="1.20" fill="#111111"/>
<circle cx="245.58" cy="493.35" r="1.20" fill="#111111"/>
<circle cx="249.75" cy="491.28" r="1.20" fill="#111111"/>
<circle cx="248.48" cy="490.55" r="1.20" fill="#111111"/>
<circle cx="255.22" cy="487.85" r="1.20" fill="#111111"/>
<circle cx="255.35" cy="490.26" r="1.20" fill="#111111"/>
<circle cx="249.93" cy="489.71" r="1.20" fill="#111111"/>
<circle cx="246.85" cy="490.62" r="1.20" fill="#111111"/>
<circle cx="253.98" cy="491.06" r="1.20" fill="#111111"/>
<circle cx="245.03" cy="492.98" r="1.20" fill="#111111"/>
<circle cx="247.16" cy="493.88" r="1.20" fill="#111111"/>
<circle cx="249.22" cy="492.17" r="1.20" fill="#111111"/>
<circle cx="264.93" cy="492.18" r="1.20" fill="#111111"/>
<circle cx="265.66" cy="492.05" r="1.20" fill="#111111"/>
<circle cx="260.80" cy="492.34" r="1.20" fill="#111111"/>
<circle cx="260.56" cy="491.42" r="1.20" fill="#111111"/>
<circle cx="261.80" cy="491.65" r="1.20" fill="#111111"/>
<circle cx="267.00" cy="494.51" r="1.20" fill="#111111"/>
<circle cx="262.73" cy="493.77" r="1.20" fill="#111111"/>
<circle cx="262.84" cy="491.96" r="1.20" fill="#111111"/>
<circle cx="264.11" cy="493.04" r="1.20" fill="#111111"/>
<circle cx="257.65" cy="491.20" r="1.20" fill="#111111"/>
<circle cx="259.30" cy="492.56" r="1.20" fill="#111111"/>
<circle cx="267.11" cy="492.92" r="1.20" fill="#111111"/>
<circle cx="267.30" cy="491.86" r="1.20" fill="#111111"/>
<circle cx="259.27" cy="492.00" r="1.20" fill="#111111"/>
<circle cx="228.99" cy="501.11" r="1.20" fill="#111111"/>
<circle cx="228.84" cy="501.60" r="1.20" fill="#111111"/>
<circle cx="295.24" cy="492.50" r="1.20" fill="#111111"/>
<circle cx="291.83" cy="494.05" r="1.20" fill="#111111"/>
<circle cx="291.97" cy="493.54" r="1.20" fill="#111111"/>
<circle cx="289.79" cy="492.93" r="1.20" fill="#111111"/>
<circle cx="288.56" cy="494.10" r="1.20" fill="#111111"/>
<circle cx="294.29" cy="492.96" r="1.20" fill="#111111"/>
<circle cx="345.42" cy="385.25" r="1.20" fill="#111111"/>
<circle cx="373.20" cy="385.59" r="1.20" fill="#111111"/>
<circle cx="392.36" cy="384.70" r="1.20" fill="#111111"/>
<circle cx="359.71" cy="385.26" r="1.20" fill="#111111"/>
<circle cx="344.26" cy="385.52" r="1.20" fill="#111111"/>
<circle cx="377.77" cy="384.85" r="1.20" fill="#111111"/>
<circle cx="401.17" cy="384.35" r="1.20" fill="#111111"/>
<circle cx="391.51" cy="384.78" r="1.20" fill="#111111"/>
<circle cx="348.50" cy="385.05" r="1.20" fill="#111111"/>
<circle cx="405.87" cy="384.39" r="1.20" fill="#111111"/>
<circle cx="392.84" cy="384.19" r="1.20" fill="#111111"/>
<circle cx="400.81" cy="385.41" r="1.20" fill="#111111"/>
<circle cx="406.96" cy="384.02" r="1.20" fill="#111111"/>
<circle cx="379.41" cy="384.78" r="1.20" fill="#111111"/>
<circle cx="400.46" cy="384.34" r="1.20" fill="#111111"/>
<circle cx="406.22" cy="384.99" r="1.20" fill="#111111"/>
<circle cx="403.72" cy="385.05" r="1.20" fill="#111111"/>
<circle cx="366.67" cy="384.94" r="1.20" fill="#111111"/>
<circle cx="379.97" cy="385.85" r="1.20" fill="#111111"/>
<circle cx="347.93" cy="384.26" r="1.20" fill="#111111"/>
<circle cx="330.94" cy="384.18" r="1.20" fill="#111111"/>
<circle cx="408.61" cy="385.00" r="1.20" fill="#111111"/>
<circle cx="405.23" cy="384.15" r="1.20" fill="#111111"/>
<circle cx="361.40" cy="384.40" r="1.20" fill="#111111"/>
<circle cx="346.03" cy="385.13" r="1.20" fill="#111111"/>
<circle cx="343.09" cy="385.30" r="1.20" fill="#111111"/>
<circle cx="412.95" cy="384.67" r="1.20" fill="#111111"/>
<circle cx="356.35" cy="385.71" r="1.20" fill="#111111"/>
<circle cx="402.35" cy="384.10" r="1.20" fill="#111111"/>
<circle cx="413.99" cy="385.80" r="1.20" fill="#111111"/>
<circle cx="396.92" cy="385.31" r="1.20" fill="#111111"/>
<circle cx="345.04" cy="384.95" r="1.20" fill="#111111"/>
<circle cx="354.64" cy="384.10" r="1.20" fill="#111111"/>
<circle cx="341.20" cy="385.19" r="1.20" fill="#111111"/>
<circle cx="342.48" cy="384.51" r="1.20" fill="#111111"/>
<circle cx="370.89" cy="384.96" r="1.20" fill="#111111"/>
<circle cx="406.25" cy="384.76" r="1.20" fill="#111111"/>
<circle cx="372.52" cy="384.23" r="1.20" fill="#111111"/>
<circle cx="379.15" cy="384.16" r="1.20" fill="#111111"/>
<circle cx="384.10" cy="384.50" r="1.20" fill="#111111"/>
<circle cx="373.98" cy="385.68" r="1.20" fill="#111111"/>
<circle cx="378.83" cy="384.20" r="1.20" fill="#111111"/>
<circle cx="393.59" cy="384.05" r="1.20" fill="#111111"/>
<circle cx="350.25" cy="384.23" r="1.20" fill="#111111"/>
<circle cx="342.47" cy="385.87" r="1.20" fill="#111111"/>
<circle cx="331.33" cy="385.50" r="1.20" fill="#111111"/>
<circle cx="347.54" cy="384.38" r="1.20" fill="#111111"/>
<circle cx="372.32" cy="384.21" r="1.20" fill="#111111"/>
<circle cx="359.50" cy="385.61" r="1.20" fill="#111111"/>
<circle cx="353.05" cy="385.53" r="1.20" fill="#111111"/>
<circle cx="394.84" cy="384.08" r="1.20" fill="#111111"/>
<circle cx="375.49" cy="384.83" r="1.20" fill="#111111"/>
<circle cx="377.04" cy="384.55" r="1.20" fill="#111111"/>
<circle cx="400.36" cy="384.30" r="1.20" fill="#111111"/>
<circle cx="366.79" cy="384.93" r="1.20" fill="#111111"/>
<circle cx="368.46" cy="385.58" r="1.20" fill="#111111"/>
<circle cx="334.44" cy="384.31" r="1.20" fill="#111111"/>
<circle cx="366.40" cy="385.57" r="1.20" fill="#111111"/>
<circle cx="331.52" cy="385.85" r="1.20" fill="#111111"/>
<circle cx="365.41" cy="384.79" r="1.20" fill="#111111"/>
<circle cx="329.42" cy="379.38" r="1.20" fill="#111111"/>
<circle cx="340.08" cy="418.08" r="1.20" fill="#111111"/>
<circle cx="330.51" cy="419.91" r="1.20" fill="#111111"/>
<circle cx="340.98" cy="418.06" r="1.20" fill="#111111"/>
<circle cx="346.96" cy="416.64" r="1.20" fill="#111111"/>
<circle cx="339.00" cy="418.91" r="1.20" fill="#111111"/>
<circle cx="333.52" cy="419.39" r="1.20" fill="#111111"/>
<circle cx="334.75" cy="417.06" r="1.20" fill="#111111"/>
<circle cx="345.57" cy="417.21" r="1.20" fill="#111111"/>
<circle cx="331.62" cy="418.55" r="1.20" fill="#111111"/>
<circle cx="346.33" cy="419.65" r="1.20" fill="#111111"/>
<circle cx="343.35" cy="420.43" r="1.20" fill="#111111"/>
<circle cx="346.18" cy="418.01" r="1.20" fill="#111111"/>
<circle cx="346.12" cy="420.42" r="1.20" fill="#111111"/>
<circle cx="343.64" cy="419.04" r="1.20" fill="#111111"/>
<circle cx="335.77" cy="416.35" r="1.20" fill="#111111"/>
<circle cx="343.09" cy="417.56" r="1.20" fill="#111111"/>
<circle cx="364.88" cy="415.81" r="1.20" fill="#111111"/>
<circle cx="358.29" cy="417.99" r="1.20" fill="#111111"/>
<circle cx="369.03" cy="419.67" r="1.20" fill="#111111"/>
<circle cx="357.88" cy="417.97" r="1.20" fill="#111111"/>
<circle cx="365.74" cy="415.91" r="1.20" fill="#111111"/>
<circle cx="367.86" cy="419.34" r="1.20" fill="#111111"/>
<circle cx="361.57" cy="416.12" r="1.20" fill="#111111"/>
<circle cx="358.26" cy="418.92" r="1.20" fill="#111111"/>
<circle cx="361.42" cy="417.37" r="1.20" fill="#111111"/>
<circle cx="369.32" cy="419.77" r="1.20" fill="#111111"/>
<circle cx="363.69" cy="415.97" r="1.20" fill="#111111"/>
<circle cx="368.14" cy="415.97" r="1.20" fill="#111111"/>
<circle cx="372.05" cy="417.77" r="1.20" fill="#111111"/>
<circle cx="360.50" cy="418.90" r="1.20" fill="#111111"/>
<circle cx="365.56" cy="415.74" r="1.20" fill="#111111"/>
<circle cx="360.59" cy="416.37" r="1.20" fill="#111111"/>
<circle cx="360.16" cy="419.32" r="1.20" fill="#111111"/>
<circle cx="356.09" cy="418.49" r="1.20" fill="#111111"/>
<circle cx="394.18" cy="417.91" r="1.20" fill="#111111"/>
<circle cx="390.43" cy="420.03" r="1.20" fill="#111111"/>
<circle cx="384.27" cy="417.23" r="1.20" fill="#111111"/>
<circle cx="378.27" cy="418.80" r="1.20" fill="#111111"/>
<circle cx="394.31" cy="419.95" r="1.20" fill="#111111"/>
<circle cx="393.73" cy="416.50" r="1.20" fill="#111111"/>
<circle cx="382.60" cy="419.45" r="1.20" fill="#111111"/>
<circle cx="391.39" cy="416.95" r="1.20" fill="#111111"/>
<circle cx="384.90" cy="415.40" r="1.20" fill="#111111"/>
<circle cx="388.91" cy="414.61" r="1.20" fill="#111111"/>
<circle cx="384.88" cy="417.74" r="1.20" fill="#111111"/>
<circle cx="394.65" cy="418.61" r="1.20" fill="#111111"/>
<circle cx="393.29" cy="415.56" r="1.20" fill="#111111"/>
<circle cx="391.13" cy="416.72" r="1.20" fill="#111111"/>
<circle cx="395.39" cy="419.48" r="1.20" fill="#111111"/>
<circle cx="397.17" cy="415.01" r="1.20" fill="#111111"/>
<circle cx="329.70" cy="414.15" r="1.20" fill="#111111"/>
<circle cx="331.00" cy="412.61" r="1.20" fill="#111111"/>
<circle cx="334.28" cy="422.34" r="1.20" fill="#111111"/>
<circle cx="414.31" cy="419.78" r="1.20" fill="#111111"/>
<circle cx="414.79" cy="419.96" r="1.20" fill="#111111"/>
<circle cx="331.77" cy="449.28" r="1.20" fill="#111111"/>
<circle cx="335.11" cy="453.86" r="1.20" fill="#111111"/>
<circle cx="334.09" cy="450.90" r="1.20" fill="#111111"/>
<circle cx="337.02" cy="453.94" r="1.20" fill="#111111"/>
<circle cx="331.03" cy="454.71" r="1.20" fill="#111111"/>
<circle cx="333.01" cy="456.17" r="1.20" fill="#111111"/>
<circle cx="335.86" cy="448.32" r="1.20" fill="#111111"/>
<circle cx="335.79" cy="457.45" r="1.20" fill="#111111"/>
<circle cx="331.39" cy="448.53" r="1.20" fill="#111111"/>
<circle cx="339.77" cy="454.16" r="1.20" fill="#111111"/>
<circle cx="344.72" cy="456.43" r="1.20" fill="#111111"/>
<circle cx="346.08" cy="452.71" r="1.20" fill="#111111"/>
<circle cx="345.51" cy="453.88" r="1.20" fill="#111111"/>
<circle cx="342.07" cy="452.98" r="1.20" fill="#111111"/>
<circle cx="345.31" cy="457.74" r="1.20" fill="#111111"/>
<circle cx="344.01" cy="453.70" r="1.20" fill="#111111"/>
<circle cx="350.47" cy="449.35" r="1.20" fill="#111111"/>
<circle cx="355.36" cy="450.56" r="1.20" fill="#111111"/>
<circle cx="358.70" cy="448.55" r="1.20" fill="#111111"/>
<circle cx="351.79" cy="454.36" r="1.20" fill="#111111"/>
<circle cx="356.35" cy="449.77" r="1.20" fill="#111111"/>
<circle cx="351.29" cy="452.33" r="1.20" fill="#111111"/>
<circle cx="358.22" cy="454.14" r="1.20" fill="#111111"/>
<circle cx="349.18" cy="448.33" r="1.20" fill="#111111"/>
<circle cx="348.13" cy="453.81" r="1.20" fill="#111111"/>
<circle cx="348.25" cy="452.00" r="1.20" fill="#111111"/>
<circle cx="368.91" cy="456.46" r="1.20" fill="#111111"/>
<circle cx="357.55" cy="454.52" r="1.20" fill="#111111"/>
<circle cx="359.27" cy="454.06" r="1.20" fill="#111111"/>
<circle cx="363.57" cy="456.16" r="1.20" fill="#111111"/>
<circle cx="371.33" cy="456.16" r="1.20" fill="#111111"/>
<circle cx="366.18" cy="457.71" r="1.20" fill="#111111"/>
<circle cx="372.42" cy="456.71" r="1.20" fill="#111111"/>
<circle cx="368.21" cy="451.15" r="1.20" fill="#111111"/>
<circle cx="359.42" cy="453.20" r="1.20" fill="#111111"/>
<circle cx="356.42" cy="451.64" r="1.20" fill="#111111"/>
<circle cx="368.22" cy="453.11" r="1.20" fill="#111111"/>
<circle cx="355.83" cy="455.34" r="1.20" fill="#111111"/>
<circle cx="366.91" cy="456.22" r="1.20" fill="#111111"/>
<circle cx="370.09" cy="454.08" r="1.20" fill="#111111"/>
<circle cx="359.24" cy="452.02" r="1.20" fill="#111111"/>
<circle cx="367.91" cy="456.27" r="1.20" fill="#111111"/>
<circle cx="386.79" cy="453.24" r="1.20" fill="#111111"/>
<circle cx="389.12" cy="454.76" r="1.20" fill="#111111"/>
<circle cx="389.33" cy="457.16" r="1.20" fill="#111111"/>
<circle cx="385.83" cy="456.93" r="1.20" fill="#111111"/>
<circle cx="389.50" cy="452.90" r="1.20" fill="#111111"/>
<circle cx="389.65" cy="453.49" r="1.20" fill="#111111"/>
<circle cx="386.69" cy="454.28" r="1.20" fill="#111111"/>
<circle cx="387.41" cy="456.62" r="1.20" fill="#111111"/>
<circle cx="400.68" cy="451.51" r="1.20" fill="#111111"/>
<circle cx="396.97" cy="448.50" r="1.20" fill="#111111"/>
<circle cx="401.05" cy="451.69" r="1.20" fill="#111111"/>
<circle cx="400.38" cy="450.98" r="1.20" fill="#111111"/>
<circle cx="401.40" cy="451.69" r="1.20" fill="#111111"/>
<circle cx="417.94" cy="457.26" r="1.20" fill="#111111"/>
<circle cx="413.53" cy="455.84" r="1.20" fill="#111111"/>
<circle cx="414.01" cy="457.56" r="1.20" fill="#111111"/>
<circle cx="331.61" cy="461.92" r="1.20" fill="#111111"/>
<circle cx="345.10" cy="462.40" r="1.20" fill="#111111"/>
<circle cx="367.12" cy="462.19" r="1.20" fill="#111111"/>
<circle cx="338.09" cy="486.69" r="1.20" fill="#111111"/>
<circle cx="333.02" cy="490.65" r="1.20" fill="#111111"/>
<circle cx="341.35" cy="488.34" r="1.20" fill="#111111"/>
<circle cx="335.38" cy="487.45" r="1.20" fill="#111111"/>
<circle cx="336.55" cy="491.66" r="1.20" fill="#111111"/>
<circle cx="341.59" cy="489.44" r="1.20" fill="#111111"/>
<circle cx="337.19" cy="489.34" r="1.20" fill="#111111"/>
<circle cx="340.28" cy="489.33" r="1.20" fill="#111111"/>
<circle cx="336.02" cy="488.65" r="1.20" fill="#111111"/>
<circle cx="341.77" cy="485.27" r="1.20" fill="#111111"/>
<circle cx="345.16" cy="485.20" r="1.20" fill="#111111"/>
<circle cx="346.79" cy="492.80" r="1.20" fill="#111111"/>
<circle cx="345.98" cy="487.68" r="1.20" fill="#111111"/>
<circle cx="347.81" cy="486.64" r="1.20" fill="#111111"/>
<circle cx="346.03" cy="489.51" r="1.20" fill="#111111"/>
<circle cx="370.42" cy="491.46" r="1.20" fill="#111111"/>
<circle cx="365.71" cy="494.89" r="1.20" fill="#111111"/>
<circle cx="358.38" cy="494.42" r="1.20" fill="#111111"/>
<circle cx="359.48" cy="490.79" r="1.20" fill="#111111"/>
<circle cx="365.97" cy="492.19" r="1.20" fill="#111111"/>
<circle cx="366.12" cy="494.22" r="1.20" fill="#111111"/>
<circle cx="358.34" cy="491.30" r="1.20" fill="#111111"/>
<circle cx="374.45" cy="494.06" r="1.20" fill="#111111"/>
<circle cx="365.65" cy="493.96" r="1.20" fill="#111111"/>
<circle cx="356.21" cy="488.96" r="1.20" fill="#111111"/>
<circle cx="370.59" cy="490.06" r="1.20" fill="#111111"/>
<circle cx="368.07" cy="494.82" r="1.20" fill="#111111"/>
<circle cx="362.13" cy="488.92" r="1.20" fill="#111111"/>
<circle cx="364.56" cy="490.69" r="1.20" fill="#111111"/>
<circle cx="374.18" cy="490.68" r="1.20" fill="#111111"/>
<circle cx="358.63" cy="489.39" r="1.20" fill="#111111"/>
<circle cx="369.78" cy="493.73" r="1.20" fill="#111111"/>
<circle cx="355.83" cy="493.19" r="1.20" fill="#111111"/>
<circle cx="363.52" cy="493.67" r="1.20" fill="#111111"/>
<circle cx="362.60" cy="492.32" r="1.20" fill="#111111"/>
<circle cx="386.21" cy="491.69" r="1.20" fill="#111111"/>
<circle cx="392.62" cy="491.28" r="1.20" fill="#111111"/>
<circle cx="392.29" cy="496.21" r="1.20" fill="#111111"/>
<circle cx="384.01" cy="495.54" r="1.20" fill="#111111"/>
<circle cx="391.26" cy="491.82" r="1.20" fill="#111111"/>
<circle cx="395.25" cy="491.48" r="1.20" fill="#111111"/>
<circle cx="394.43" cy="494.11" r="1.20" fill="#111111"/>
<circle cx="388.38" cy="496.44" r="1.20" fill="#111111"/>
<circle cx="383.14" cy="492.40" r="1.20" fill="#111111"/>
<circle cx="392.19" cy="495.71" r="1.20" fill="#111111"/>
<circle cx="384.80" cy="497.28" r="1.20" fill="#111111"/>
<circle cx="389.89" cy="495.86" r="1.20" fill="#111111"/>
<circle cx="395.84" cy="496.98" r="1.20" fill="#111111"/>
<circle cx="390.31" cy="494.44" r="1.20" fill="#111111"/>
<circle cx="404.00" cy="492.05" r="1.20" fill="#111111"/>
<circle cx="403.77" cy="491.80" r="1.20" fill="#111111"/>
<circle cx="403.20" cy="491.92" r="1.20" fill="#111111"/>
<circle cx="404.47" cy="490.36" r="1.20" fill="#111111"/>
<circle cx="402.05" cy="490.54" r="1.20" fill="#111111"/>
<circle cx="419.55" cy="493.97" r="1.20" fill="#111111"/>
<circle cx="419.53" cy="492.76" r="1.20" fill="#111111"/>
<circle cx="333.49" cy="500.88" r="1.20" fill="#111111"/>
<circle cx="349.06" cy="501.16" r="1.20" fill="#111111"/>
<circle cx="354.67" cy="497.88" r="1.20" fill="#111111"/>
<circle cx="354.51" cy="498.00" r="1.20" fill="#111111"/>
<text x="0.60" y="559.80" font-size="15" text-anchor="start" fill="#111" style="font-weight:bold;">f</text>
<rect x="70.40" y="567.80" width="8.15" height="14.68" fill="#3040a0"/>
<rect x="78.20" y="567.80" width="8.15" height="14.68" fill="#3444aa"/>
<rect x="86.00" y="567.80" width="8.15" height="14.68" fill="#3545b0"/>
<rect x="93.80" y="567.80" width="8.15" height="14.68" fill="#3646b2"/>
<rect x="101.60" y="567.80" width="8.15" height="14.68" fill="#20204a"/>
<rect x="109.40" y="567.80" width="8.15" height="14.68" fill="#3050c0"/>
<rect x="117.20" y="567.80" width="15.95" height="14.68" fill="#3a4ab4"/>
<rect x="132.80" y="567.80" width="15.95" height="14.68" fill="#3a50c0"/>
<rect x="148.40" y="567.80" width="15.95" height="14.68" fill="#3a4eba"/>
<rect x="164.00" y="567.80" width="8.15" height="14.68" fill="#3a3a85"/>
<rect x="171.80" y="567.80" width="8.15" height="14.68" fill="#4060c8"/>
<rect x="179.60" y="567.80" width="15.95" height="14.68" fill="#3a55c0"/>
<rect x="195.20" y="567.80" width="8.15" height="14.68" fill="#3545a8"/>
<rect x="203.00" y="567.80" width="8.15" height="14.68" fill="#303a90"/>
<rect x="210.80" y="567.80" width="8.15" height="14.68" fill="#3040a0"/>
<rect x="218.60" y="567.80" width="8.15" height="14.68" fill="#3545b0"/>
<rect x="226.40" y="567.80" width="8.15" height="14.68" fill="#3a50c0"/>
<rect x="234.20" y="567.80" width="8.15" height="14.68" fill="#3545a8"/>
<rect x="242.00" y="567.80" width="8.15" height="14.68" fill="#353570"/>
<rect x="249.80" y="567.80" width="8.15" height="14.68" fill="#1a1a40"/>
<rect x="257.60" y="567.80" width="8.15" height="14.68" fill="#35356a"/>
<rect x="265.40" y="567.80" width="8.15" height="14.68" fill="#1e1e48"/>
<rect x="273.20" y="567.80" width="8.15" height="14.68" fill="#222250"/>
<rect x="281.00" y="567.80" width="8.15" height="14.68" fill="#404080"/>
<rect x="288.80" y="567.80" width="8.15" height="14.68" fill="#252555"/>
<rect x="296.60" y="567.80" width="8.15" height="14.68" fill="#1a1a10"/>
<rect x="304.40" y="567.80" width="8.15" height="14.68" fill="#303020"/>
<rect x="312.20" y="567.80" width="8.15" height="14.68" fill="#303060"/>
<rect x="320.00" y="567.80" width="8.15" height="14.68" fill="#353528"/>
<rect x="327.80" y="567.80" width="8.15" height="14.68" fill="#25251a"/>
<rect x="335.60" y="567.80" width="8.15" height="14.68" fill="#303025"/>
<rect x="343.40" y="567.80" width="8.15" height="14.68" fill="#a0a050"/>
<rect x="351.20" y="567.80" width="23.75" height="14.68" fill="#3a55c0"/>
<rect x="374.60" y="567.80" width="8.15" height="14.68" fill="#3a50b8"/>
<rect x="382.40" y="567.80" width="8.15" height="14.68" fill="#2e2e28"/>
<rect x="390.20" y="567.80" width="8.15" height="14.68" fill="#25251a"/>
<rect x="398.00" y="567.80" width="8.15" height="14.68" fill="#2e2e28"/>
<rect x="405.80" y="567.80" width="7.80" height="14.68" fill="#8a8a48"/>
<rect x="70.40" y="582.12" width="8.15" height="14.68" fill="#3040a0"/>
<rect x="78.20" y="582.12" width="8.15" height="14.68" fill="#3242a4"/>
<rect x="86.00" y="582.12" width="8.15" height="14.68" fill="#3048b8"/>
<rect x="93.80" y="582.12" width="8.15" height="14.68" fill="#3555c0"/>
<rect x="101.60" y="582.12" width="8.15" height="14.68" fill="#3040b0"/>
<rect x="109.40" y="582.12" width="8.15" height="14.68" fill="#3a3a80"/>
<rect x="117.20" y="582.12" width="15.95" height="14.68" fill="#3545aa"/>
<rect x="132.80" y="582.12" width="15.95" height="14.68" fill="#3545a8"/>
<rect x="148.40" y="582.12" width="8.15" height="14.68" fill="#3a4ab0"/>
<rect x="156.20" y="582.12" width="8.15" height="14.68" fill="#3a55c0"/>
<rect x="164.00" y="582.12" width="8.15" height="14.68" fill="#3a3a80"/>
<rect x="171.80" y="582.12" width="8.15" height="14.68" fill="#252545"/>
<rect x="179.60" y="582.12" width="8.15" height="14.68" fill="#3a3a80"/>
<rect x="187.40" y="582.12" width="8.15" height="14.68" fill="#3545a0"/>
<rect x="195.20" y="582.12" width="8.15" height="14.68" fill="#3545a8"/>
<rect x="203.00" y="582.12" width="8.15" height="14.68" fill="#3040a0"/>
<rect x="210.80" y="582.12" width="8.15" height="14.68" fill="#3545a8"/>
<rect x="218.60" y="582.12" width="8.15" height="14.68" fill="#3545b0"/>
<rect x="226.40" y="582.12" width="8.15" height="14.68" fill="#3a4ab0"/>
<rect x="234.20" y="582.12" width="8.15" height="14.68" fill="#3545a8"/>
<rect x="242.00" y="582.12" width="8.15" height="14.68" fill="#202045"/>
<rect x="249.80" y="582.12" width="8.15" height="14.68" fill="#303025"/>
<rect x="257.60" y="582.12" width="8.15" height="14.68" fill="#35356a"/>
<rect x="265.40" y="582.12" width="8.15" height="14.68" fill="#1a1a40"/>
<rect x="273.20" y="582.12" width="8.15" height="14.68" fill="#2a2a58"/>
<rect x="281.00" y="582.12" width="8.15" height="14.68" fill="#1e1e48"/>
<rect x="288.80" y="582.12" width="8.15" height="14.68" fill="#151535"/>
<rect x="296.60" y="582.12" width="8.15" height="14.68" fill="#2a2a58"/>
<rect x="304.40" y="582.12" width="8.15" height="14.68" fill="#0a0a18"/>
<rect x="312.20" y="582.12" width="8.15" height="14.68" fill="#303020"/>
<rect x="320.00" y="582.12" width="8.15" height="14.68" fill="#2a2a58"/>
<rect x="327.80" y="582.12" width="8.15" height="14.68" fill="#25251a"/>
<rect x="335.60" y="582.12" width="8.15" height="14.68" fill="#303025"/>
<rect x="343.40" y="582.12" width="8.15" height="14.68" fill="#3a3a75"/>
<rect x="351.20" y="582.12" width="8.15" height="14.68" fill="#3a55c0"/>
<rect x="359.00" y="582.12" width="8.15" height="14.68" fill="#151540"/>
<rect x="366.80" y="582.12" width="15.95" height="14.68" fill="#3a3a85"/>
<rect x="382.40" y="582.12" width="8.15" height="14.68" fill="#1e1e45"/>
<rect x="390.20" y="582.12" width="8.15" height="14.68" fill="#25251a"/>
<rect x="398.00" y="582.12" width="8.15" height="14.68" fill="#2a2a25"/>
<rect x="405.80" y="582.12" width="7.80" height="14.68" fill="#353570"/>
<rect x="70.40" y="596.45" width="8.15" height="14.68" fill="#9a9a50"/>
<rect x="78.20" y="596.45" width="8.15" height="14.68" fill="#5a5a30"/>
<rect x="86.00" y="596.45" width="8.15" height="14.68" fill="#808040"/>
<rect x="93.80" y="596.45" width="8.15" height="14.68" fill="#b0b050"/>
<rect x="101.60" y="596.45" width="8.15" height="14.68" fill="#c8c858"/>
<rect x="109.40" y="596.45" width="8.15" height="14.68" fill="#6a6a38"/>
<rect x="117.20" y="596.45" width="8.15" height="14.68" fill="#808045"/>
<rect x="125.00" y="596.45" width="8.15" height="14.68" fill="#5a5a35"/>
<rect x="132.80" y="596.45" width="8.15" height="14.68" fill="#25254a"/>
<rect x="140.60" y="596.45" width="8.15" height="14.68" fill="#8a8a50"/>
<rect x="148.40" y="596.45" width="8.15" height="14.68" fill="#606035"/>
<rect x="156.20" y="596.45" width="8.15" height="14.68" fill="#5a5a35"/>
<rect x="164.00" y="596.45" width="8.15" height="14.68" fill="#a0a055"/>
<rect x="171.80" y="596.45" width="8.15" height="14.68" fill="#8a8a50"/>
<rect x="179.60" y="596.45" width="8.15" height="14.68" fill="#606038"/>
<rect x="187.40" y="596.45" width="8.15" height="14.68" fill="#7a7a45"/>
<rect x="195.20" y="596.45" width="15.95" height="14.68" fill="#8a8a48"/>
<rect x="210.80" y="596.45" width="8.15" height="14.68" fill="#6a6a38"/>
<rect x="218.60" y="596.45" width="8.15" height="14.68" fill="#7a7a40"/>
<rect x="226.40" y="596.45" width="8.15" height="14.68" fill="#55552e"/>
<rect x="234.20" y="596.45" width="8.15" height="14.68" fill="#8a8a48"/>
<rect x="242.00" y="596.45" width="8.15" height="14.68" fill="#3a3a85"/>
<rect x="249.80" y="596.45" width="8.15" height="14.68" fill="#3545a0"/>
<rect x="257.60" y="596.45" width="8.15" height="14.68" fill="#303075"/>
<rect x="265.40" y="596.45" width="8.15" height="14.68" fill="#1e1e48"/>
<rect x="273.20" y="596.45" width="8.15" height="14.68" fill="#35351e"/>
<rect x="281.00" y="596.45" width="15.95" height="14.68" fill="#3a3a80"/>
<rect x="296.60" y="596.45" width="8.15" height="14.68" fill="#252555"/>
<rect x="304.40" y="596.45" width="8.15" height="14.68" fill="#3a5ac8"/>
<rect x="312.20" y="596.45" width="8.15" height="14.68" fill="#3545a8"/>
<rect x="320.00" y="596.45" width="15.95" height="14.68" fill="#3a5ac8"/>
<rect x="335.60" y="596.45" width="8.15" height="14.68" fill="#3a4095"/>
<rect x="343.40" y="596.45" width="8.15" height="14.68" fill="#15152e"/>
<rect x="351.20" y="596.45" width="15.95" height="14.68" fill="#3a55c0"/>
<rect x="366.80" y="596.45" width="8.15" height="14.68" fill="#3a3a85"/>
<rect x="374.60" y="596.45" width="8.15" height="14.68" fill="#3a3a90"/>
<rect x="382.40" y="596.45" width="15.95" height="14.68" fill="#3a55c0"/>
<rect x="398.00" y="596.45" width="8.15" height="14.68" fill="#3a48a8"/>
<rect x="405.80" y="596.45" width="7.80" height="14.68" fill="#151535"/>
<rect x="70.40" y="610.77" width="8.15" height="14.68" fill="#8a8a45"/>
<rect x="78.20" y="610.77" width="8.15" height="14.68" fill="#c0c058"/>
<rect x="86.00" y="610.77" width="8.15" height="14.68" fill="#707040"/>
<rect x="93.80" y="610.77" width="8.15" height="14.68" fill="#353520"/>
<rect x="101.60" y="610.77" width="8.15" height="14.68" fill="#909050"/>
<rect x="109.40" y="610.77" width="8.15" height="14.68" fill="#808048"/>
<rect x="117.20" y="610.77" width="8.15" height="14.68" fill="#606035"/>
<rect x="125.00" y="610.77" width="8.15" height="14.68" fill="#707040"/>
<rect x="132.80" y="610.77" width="8.15" height="14.68" fill="#25254a"/>
<rect x="140.60" y="610.77" width="8.15" height="14.68" fill="#555530"/>
<rect x="148.40" y="610.77" width="15.95" height="14.68" fill="#303020"/>
<rect x="164.00" y="610.77" width="8.15" height="14.68" fill="#c8c858"/>
<rect x="171.80" y="610.77" width="8.15" height="14.68" fill="#555530"/>
<rect x="179.60" y="610.77" width="8.15" height="14.68" fill="#707040"/>
<rect x="187.40" y="610.77" width="8.15" height="14.68" fill="#5a5a35"/>
<rect x="195.20" y="610.77" width="8.15" height="14.68" fill="#8a8a48"/>
<rect x="203.00" y="610.77" width="8.15" height="14.68" fill="#c0c058"/>
<rect x="210.80" y="610.77" width="15.95" height="14.68" fill="#8a8a48"/>
<rect x="226.40" y="610.77" width="8.15" height="14.68" fill="#808045"/>
<rect x="234.20" y="610.77" width="8.15" height="14.68" fill="#8a8a48"/>
<rect x="242.00" y="610.77" width="8.15" height="14.68" fill="#3a3a80"/>
<rect x="249.80" y="610.77" width="8.15" height="14.68" fill="#2a2a60"/>
<rect x="257.60" y="610.77" width="15.95" height="14.68" fill="#1e1e48"/>
<rect x="273.20" y="610.77" width="8.15" height="14.68" fill="#3a3a80"/>
<rect x="281.00" y="610.77" width="8.15" height="14.68" fill="#252560"/>
<rect x="288.80" y="610.77" width="8.15" height="14.68" fill="#35356a"/>
<rect x="296.60" y="610.77" width="8.15" height="14.68" fill="#222250"/>
<rect x="304.40" y="610.77" width="8.15" height="14.68" fill="#35351e"/>
<rect x="312.20" y="610.77" width="8.15" height="14.68" fill="#303020"/>
<rect x="320.00" y="610.77" width="15.95" height="14.68" fill="#353565"/>
<rect x="335.60" y="610.77" width="8.15" height="14.68" fill="#10101e"/>
<rect x="343.40" y="610.77" width="8.15" height="14.68" fill="#353570"/>
<rect x="351.20" y="610.77" width="31.55" height="14.68" fill="#3a55c0"/>
<rect x="382.40" y="610.77" width="15.95" height="14.68" fill="#303060"/>
<rect x="398.00" y="610.77" width="8.15" height="14.68" fill="#10101e"/>
<rect x="405.80" y="610.77" width="7.80" height="14.68" fill="#303060"/>
<rect x="70.40" y="625.10" width="8.15" height="14.68" fill="#e8e858"/>
<rect x="78.20" y="625.10" width="8.15" height="14.68" fill="#d8d860"/>
<rect x="86.00" y="625.10" width="8.15" height="14.68" fill="#e8e858"/>
<rect x="93.80" y="625.10" width="8.15" height="14.68" fill="#a8a848"/>
<rect x="101.60" y="625.10" width="8.15" height="14.68" fill="#e8e858"/>
<rect x="109.40" y="625.10" width="8.15" height="14.68" fill="#c8c855"/>
<rect x="117.20" y="625.10" width="8.15" height="14.68" fill="#9a9a45"/>
<rect x="125.00" y="625.10" width="8.15" height="14.68" fill="#c0c050"/>
<rect x="132.80" y="625.10" width="8.15" height="14.68" fill="#5a5a35"/>
<rect x="140.60" y="625.10" width="8.15" height="14.68" fill="#d8d858"/>
<rect x="148.40" y="625.10" width="8.15" height="14.68" fill="#e0e058"/>
<rect x="156.20" y="625.10" width="8.15" height="14.68" fill="#c8c855"/>
<rect x="164.00" y="625.10" width="8.15" height="14.68" fill="#eeee60"/>
<rect x="171.80" y="625.10" width="8.15" height="14.68" fill="#b0b050"/>
<rect x="179.60" y="625.10" width="8.15" height="14.68" fill="#e0e058"/>
<rect x="187.40" y="625.10" width="8.15" height="14.68" fill="#8a8a45"/>
<rect x="195.20" y="625.10" width="8.15" height="14.68" fill="#d0d058"/>
<rect x="203.00" y="625.10" width="8.15" height="14.68" fill="#c8c855"/>
<rect x="210.80" y="625.10" width="15.95" height="14.68" fill="#b8b850"/>
<rect x="226.40" y="625.10" width="8.15" height="14.68" fill="#a8a848"/>
<rect x="234.20" y="625.10" width="8.15" height="14.68" fill="#b8b850"/>
<rect x="242.00" y="625.10" width="8.15" height="14.68" fill="#3a4cac"/>
<rect x="249.80" y="625.10" width="8.15" height="14.68" fill="#3a48a8"/>
<rect x="257.60" y="625.10" width="8.15" height="14.68" fill="#3a4cb0"/>
<rect x="265.40" y="625.10" width="8.15" height="14.68" fill="#3a4aa8"/>
<rect x="273.20" y="625.10" width="8.15" height="14.68" fill="#3a55c0"/>
<rect x="281.00" y="625.10" width="8.15" height="14.68" fill="#3a4aa8"/>
<rect x="288.80" y="625.10" width="15.95" height="14.68" fill="#3a50b4"/>
<rect x="304.40" y="625.10" width="15.95" height="14.68" fill="#3a50b8"/>
<rect x="320.00" y="625.10" width="31.55" height="14.68" fill="#3a55b8"/>
<rect x="351.20" y="625.10" width="15.95" height="14.68" fill="#3a3a80"/>
<rect x="366.80" y="625.10" width="8.15" height="14.68" fill="#353578"/>
<rect x="374.60" y="625.10" width="8.15" height="14.68" fill="#101020"/>
<rect x="382.40" y="625.10" width="31.20" height="14.68" fill="#3a55b8"/>
<rect x="70.40" y="639.42" width="171.95" height="14.68" fill="#e8e85a"/>
<rect x="242.00" y="639.42" width="109.55" height="14.68" fill="#3d5ab8"/>
<rect x="351.20" y="639.42" width="8.15" height="14.68" fill="#3a4cb0"/>
<rect x="359.00" y="639.42" width="8.15" height="14.68" fill="#3a48a8"/>
<rect x="366.80" y="639.42" width="8.15" height="14.68" fill="#3a4cb0"/>
<rect x="374.60" y="639.42" width="39.00" height="14.68" fill="#3d5ab8"/>
<rect x="70.40" y="653.75" width="171.95" height="14.68" fill="#e8e85a"/>
<rect x="242.00" y="653.75" width="109.55" height="14.68" fill="#3d5ab8"/>
<rect x="351.20" y="653.75" width="8.15" height="14.68" fill="#3a4cb0"/>
<rect x="359.00" y="653.75" width="8.15" height="14.68" fill="#3a48a8"/>
<rect x="366.80" y="653.75" width="8.15" height="14.68" fill="#3a4cb0"/>
<rect x="374.60" y="653.75" width="39.00" height="14.68" fill="#3d5ab8"/>
<rect x="70.40" y="668.07" width="171.95" height="14.33" fill="#e8e85a"/>
<rect x="242.00" y="668.07" width="109.55" height="14.33" fill="#3d5ab8"/>
<rect x="351.20" y="668.07" width="8.15" height="14.33" fill="#3a4cb0"/>
<rect x="359.00" y="668.07" width="8.15" height="14.33" fill="#3a48a8"/>
<rect x="366.80" y="668.07" width="8.15" height="14.33" fill="#3a4cb0"/>
<rect x="374.60" y="668.07" width="39.00" height="14.33" fill="#3d5ab8"/>
<line x1="70.40" y1="567.40" x2="413.60" y2="567.40" stroke="#222" stroke-width="0.9"/>
<line x1="86.00" y1="564.60" x2="86.00" y2="567.80" stroke="#222" stroke-width="0.8"/>
<line x1="242.00" y1="564.60" x2="242.00" y2="567.80" stroke="#222" stroke-width="0.8"/>
<line x1="296.60" y1="564.60" x2="296.60" y2="567.80" stroke="#222" stroke-width="0.8"/>
<line x1="304.40" y1="564.60" x2="304.40" y2="567.80" stroke="#222" stroke-width="0.8"/>
<line x1="320.00" y1="564.60" x2="320.00" y2="567.80" stroke="#222" stroke-width="0.8"/>
<line x1="351.20" y1="564.60" x2="351.20" y2="567.80" stroke="#222" stroke-width="0.8"/>
<line x1="382.40" y1="564.60" x2="382.40" y2="567.80" stroke="#222" stroke-width="0.8"/>
<line x1="413.30" y1="564.60" x2="413.30" y2="567.80" stroke="#222" stroke-width="0.8"/>
<text x="75.00" y="563.60" font-size="8.6" text-anchor="middle" fill="#1c1c1c" style="font-style:italic;">Meg3</text>
<text x="157.50" y="563.60" font-size="8.6" text-anchor="middle" fill="#1c1c1c" style="font-style:italic;">Rian</text>
<text x="265.60" y="563.60" font-size="8.6" text-anchor="middle" fill="#1c1c1c" style="font-style:italic;">Impact</text>
<text x="300.40" y="563.60" font-size="8.6" text-anchor="middle" fill="#1c1c1c" style="font-style:italic;">Mest</text>
<text x="312.50" y="554.20" font-size="8.6" text-anchor="middle" fill="#1c1c1c" style="font-style:italic;">Peg10</text>
<text x="333.70" y="563.60" font-size="8.6" text-anchor="middle" fill="#1c1c1c" style="font-style:italic;">Peg3</text>
<text x="366.90" y="563.60" font-size="8.6" text-anchor="middle" fill="#1c1c1c" style="font-style:italic;">Slc38a4</text>
<text x="398.00" y="563.60" font-size="8.6" text-anchor="middle" fill="#1c1c1c" style="font-style:italic;">Zim2</text>
<text x="69.40" y="580.20" font-size="8.6" text-anchor="end" fill="#1c1c1c" style="">#2</text>
<text x="69.40" y="593.40" font-size="8.6" text-anchor="end" fill="#1c1c1c" style="">#15</text>
<text x="69.40" y="608.40" font-size="8.6" text-anchor="end" fill="#1c1c1c" style="">#20</text>
<text x="69.40" y="621.60" font-size="8.6" text-anchor="end" fill="#1c1c1c" style="">#23</text>
<text x="69.40" y="636.60" font-size="8.6" text-anchor="end" fill="#1c1c1c" style="">#8</text>
<text x="69.40" y="650.60" font-size="8.6" text-anchor="end" fill="#1c1c1c" style="">#12</text>
<text x="31.00" y="586.30" font-size="8.4" text-anchor="start" fill="#1c1c1c" style="">XX</text>
<text x="31.00" y="615.00" font-size="8.4" text-anchor="start" fill="#1c1c1c" style="">XY</text>
<text x="31.00" y="636.60" font-size="8.4" text-anchor="start" fill="#1c1c1c" style="">XX</text>
<text x="31.00" y="650.70" font-size="8.4" text-anchor="start" fill="#1c1c1c" style="">XY</text>
<text x="31.00" y="667.40" font-size="8.4" text-anchor="start" fill="#1c1c1c" style="">XX</text>
<text x="31.00" y="680.50" font-size="8.4" text-anchor="start" fill="#1c1c1c" style="">XY</text>
<line x1="51.30" y1="569.20" x2="51.30" y2="596.40" stroke="#222" stroke-width="1.1"/>
<line x1="51.30" y1="599.40" x2="51.30" y2="626.20" stroke="#222" stroke-width="1.1"/>
<line x1="26.20" y1="569.20" x2="26.20" y2="624.20" stroke="#222" stroke-width="1.1"/>
<line x1="26.20" y1="628.20" x2="26.20" y2="654.40" stroke="#222" stroke-width="1.1"/>
<line x1="26.20" y1="658.00" x2="26.20" y2="683.50" stroke="#222" stroke-width="1.1"/>
<text x="23.20" y="598.20" font-size="8.6" text-anchor="middle" fill="#1c1c1c" style="" transform="rotate(-90 23.20 598.20)">2i/L</text>
<text x="23.20" y="641.20" font-size="8.6" text-anchor="middle" fill="#1c1c1c" style="" transform="rotate(-90 23.20 641.20)">S/L</text>
<text x="23.20" y="671.40" font-size="8.6" text-anchor="middle" fill="#1c1c1c" style="" transform="rotate(-90 23.20 671.40)">MEFs</text>
<defs><linearGradient id="fg" x1="0" y1="0" x2="0" y2="1"><stop offset="0" stop-color="#3d5ab8"/><stop offset="0.2" stop-color="#33449a"/><stop offset="0.45" stop-color="#15152a"/><stop offset="0.52" stop-color="#0e0e0e"/><stop offset="0.62" stop-color="#303018"/><stop offset="1" stop-color="#eeee5a"/></linearGradient></defs>
<rect x="430.00" y="582.20" width="11.40" height="86.40" fill="url(#fg)" stroke="#222" stroke-width="0.8"/>
<text x="425.40" y="624.20" font-size="8.6" text-anchor="middle" fill="#1c1c1c" style="" transform="rotate(-90 425.40 624.20)">Allelic expression balance</text>
<g transform="translate(439.60 576.60) rotate(-90)" stroke="#1c1c1c" stroke-width="0.9" fill="none"><circle cx="0" cy="0" r="2.56"/><path d="M1.80 -1.80 L6.03 -6.03"/><path d="M3.21 -6.03 L6.03 -6.03 L6.03 -3.21 Z" fill="#1c1c1c" stroke-linejoin="miter"/></g>
<g transform="translate(435.30 677.30) rotate(-90)" stroke="#1c1c1c" stroke-width="0.9" fill="none"><circle cx="0" cy="0" r="2.56"/><path d="M0 2.56 V6.54 M-3.59 4.10 H3.59"/></g>
<text x="1.00" y="10.30" font-size="15" text-anchor="start" fill="#111" style="font-weight:bold;">a</text>
<g transform="translate(0 0.00)"><path d="M58.6 51.4 C63 53.4 70 53.2 77 52.9 C82 52.6 86.5 52.3 86.7 54.6 C86.7 57.6 80.5 60 77 61.8 C75.3 62.8 74.2 63.8 73.5 64.8" stroke="#c4929a" stroke-width="2.7" fill="none" stroke-linecap="round"/><path d="M58.6 51.4 C63 53.4 70 53.2 77 52.9 C82 52.6 86.5 52.3 86.7 54.6 C86.7 57.6 80.5 60 77 61.8 C75.3 62.8 74.2 63.8 73.5 64.8" stroke="#efc9cd" stroke-width="1.4" fill="none" stroke-linecap="round"/><path d="M15.5 46.4 C17.2 43.6 20.6 40.6 24.4 37.6 C27.5 35.2 30.5 34.2 34 33.8 C38 33 42 32.9 45.5 33.4 C51.5 34.2 56.4 38.6 58.8 43.8 C60.5 47.6 60.8 51.4 60 53.4 L50 53.6 C47 53.8 44 53.4 41 53.3 L33.5 53.1 C31.5 53.4 30.3 54 29.6 54.6 L25.8 55.2 C25 55 25.2 54.2 26.2 53.9 C27.2 53.5 28 52.8 28.6 51.6 C25.5 50.6 22 49.2 18.8 48 C17.3 47.5 16.2 47 15.5 46.4 Z" fill="#c4c5cc" stroke="#4a4a4a" stroke-width="0.55" stroke-linejoin="round"/><path d="M26.6 36.2 C26 34 27.4 32.6 29.2 32.8 C31.6 33 33.6 34.8 33.8 37.2 C34 39.2 32.6 40.4 30.8 40.4 C29 40.2 27.4 38.6 26.6 36.2 Z" fill="#c4c5cc" stroke="#4a4a4a" stroke-width="0.55"/><path d="M28.6 34.8 C30 34.6 31.6 36 31.8 38" fill="none" stroke="#666" stroke-width="0.45"/><path d="M30.8 40.2 C29.6 42.5 29.2 45.5 30 48.4 C30.4 49.6 30 51 28.6 51.6" fill="none" stroke="#4a4a4a" stroke-width="0.45"/><path d="M47.2 47.2 C45.6 48.8 45.4 51.2 46.4 53.3" fill="none" stroke="#4a4a4a" stroke-width="0.5"/><path d="M25.8 53.9 C27.5 53.5 29.6 53.5 30.8 54.0 L30.2 55.0 C28.6 55.3 26.8 55.4 25.6 55.2 Z" fill="#4a4a4a"/><path d="M44.4 53.0 C46.2 52.6 48.4 52.7 49.4 53.2 L48.8 54.1 C47.3 54.3 45.6 54.3 44.4 54.0 Z" fill="#4a4a4a"/><circle cx="22.7" cy="42.9" r="1.25" fill="#222"/><path d="M18.4 46.6 C19.1 47.3 20.0 47.4 20.8 46.9" fill="none" stroke="#555" stroke-width="0.4"/></g>
<g transform="translate(0 45.60)"><path d="M58.6 51.4 C63 53.4 70 53.2 77 52.9 C82 52.6 86.5 52.3 86.7 54.6 C86.7 57.6 80.5 60 77 61.8 C75.3 62.8 74.2 63.8 73.5 64.8" stroke="#c4929a" stroke-width="2.7" fill="none" stroke-linecap="round"/><path d="M58.6 51.4 C63 53.4 70 53.2 77 52.9 C82 52.6 86.5 52.3 86.7 54.6 C86.7 57.6 80.5 60 77 61.8 C75.3 62.8 74.2 63.8 73.5 64.8" stroke="#efc9cd" stroke-width="1.4" fill="none" stroke-linecap="round"/><path d="M15.5 46.4 C17.2 43.6 20.6 40.6 24.4 37.6 C27.5 35.2 30.5 34.2 34 33.8 C38 33 42 32.9 45.5 33.4 C51.5 34.2 56.4 38.6 58.8 43.8 C60.5 47.6 60.8 51.4 60 53.4 L50 53.6 C47 53.8 44 53.4 41 53.3 L33.5 53.1 C31.5 53.4 30.3 54 29.6 54.6 L25.8 55.2 C25 55 25.2 54.2 26.2 53.9 C27.2 53.5 28 52.8 28.6 51.6 C25.5 50.6 22 49.2 18.8 48 C17.3 47.5 16.2 47 15.5 46.4 Z" fill="#ffffff" stroke="#4a4a4a" stroke-width="0.55" stroke-linejoin="round"/><path d="M26.6 36.2 C26 34 27.4 32.6 29.2 32.8 C31.6 33 33.6 34.8 33.8 37.2 C34 39.2 32.6 40.4 30.8 40.4 C29 40.2 27.4 38.6 26.6 36.2 Z" fill="#ffffff" stroke="#4a4a4a" stroke-width="0.55"/><path d="M28.6 34.8 C30 34.6 31.6 36 31.8 38" fill="none" stroke="#666" stroke-width="0.45"/><path d="M30.8 40.2 C29.6 42.5 29.2 45.5 30 48.4 C30.4 49.6 30 51 28.6 51.6" fill="none" stroke="#4a4a4a" stroke-width="0.45"/><path d="M47.2 47.2 C45.6 48.8 45.4 51.2 46.4 53.3" fill="none" stroke="#4a4a4a" stroke-width="0.5"/><path d="M25.8 53.9 C27.5 53.5 29.6 53.5 30.8 54.0 L30.2 55.0 C28.6 55.3 26.8 55.4 25.6 55.2 Z" fill="#4a4a4a"/><path d="M44.4 53.0 C46.2 52.6 48.4 52.7 49.4 53.2 L48.8 54.1 C47.3 54.3 45.6 54.3 44.4 54.0 Z" fill="#4a4a4a"/><circle cx="22.7" cy="42.9" r="1.25" fill="#222"/><path d="M18.4 46.6 C19.1 47.3 20.0 47.4 20.8 46.9" fill="none" stroke="#555" stroke-width="0.4"/></g>
<text x="29.60" y="28.30" font-size="8.8" text-anchor="start" fill="#1c1c1c" style="">MSM/Ms</text>
<g transform="translate(68.20 26.60) rotate(0)" stroke="#1c1c1c" stroke-width="0.9" fill="none"><circle cx="0" cy="0" r="1.80"/><path d="M1.26 -1.26 L4.24 -4.24"/><path d="M2.26 -4.24 L4.24 -4.24 L4.24 -2.26 Z" fill="#1c1c1c" stroke-linejoin="miter"/></g>
<text x="27.80" y="121.30" font-size="8.7" text-anchor="start" fill="#1c1c1c" style="">129X1/SvJ</text>
<g transform="translate(72.90 116.10) rotate(0)" stroke="#1c1c1c" stroke-width="0.9" fill="none"><circle cx="0" cy="0" r="2.09"/><path d="M0 2.09 V5.33 M-2.93 3.34 H2.93"/></g>
<line x1="74.90" y1="74.70" x2="111.20" y2="74.70" stroke="#1a1a1a" stroke-width="1.2"/>
<path d="M117.60 74.70 L110.40 77.90 L111.60 74.70 L110.40 71.50 Z" fill="#1a1a1a"/>
<line x1="156.90" y1="66.50" x2="188.26" y2="45.82" stroke="#1a1a1a" stroke-width="1.2"/>
<path d="M193.60 42.30 L189.35 48.94 L188.59 45.60 L185.83 43.59 Z" fill="#1a1a1a"/>
<line x1="158.00" y1="74.20" x2="191.40" y2="74.20" stroke="#1a1a1a" stroke-width="1.2"/>
<path d="M197.80 74.20 L190.60 77.40 L191.80 74.20 L190.60 71.00 Z" fill="#1a1a1a"/>
<line x1="156.60" y1="91.00" x2="187.56" y2="107.58" stroke="#1a1a1a" stroke-width="1.2"/>
<path d="M193.20 110.60 L185.34 110.02 L187.91 107.77 L188.36 104.38 Z" fill="#1a1a1a"/>
<circle cx="137.0" cy="74.6" r="13.4" fill="none" stroke="#c6c6c6" stroke-width="3.7"/>
<circle cx="137.0" cy="74.6" r="13.4" fill="none" stroke="#d8d8d8" stroke-width="0.9" stroke-dasharray="2 1.4"/>
<path d="M127.6 65.6 C128.2 62.6 131.6 61.6 136.2 61.5 C141 61.5 144.6 62.5 144.9 65.4 C144.4 68.6 140.6 70.6 136.2 70.7 C132 70.6 128.4 68.8 127.6 65.6 Z" fill="#7b7b7e"/>
<defs><radialGradient id="sp1" cx="0.42" cy="0.38" r="0.62"><stop offset="0" stop-color="#ddd7ec"/><stop offset="0.7" stop-color="#ccc2e2"/><stop offset="1" stop-color="#b9add6"/></radialGradient><radialGradient id="sp2" cx="0.42" cy="0.38" r="0.62"><stop offset="0" stop-color="#d6e5e1"/><stop offset="0.7" stop-color="#c5d9d4"/><stop offset="1" stop-color="#aac8c1"/></radialGradient></defs>
<circle cx="216.10" cy="36.30" r="10.30" fill="url(#sp1)"/>
<circle cx="216.10" cy="72.40" r="10.30" fill="url(#sp2)"/>
<text x="216.00" y="55.60" font-size="8.8" text-anchor="middle" fill="#1c1c1c" style="">2i/L ES cells</text>
<text x="216.00" y="94.30" font-size="8.8" text-anchor="middle" fill="#1c1c1c" style="">S/L ES cells</text>
<text x="216.40" y="139.80" font-size="8.8" text-anchor="middle" fill="#1c1c1c" style="">MEFs</text>
<text x="174.90" y="85.20" font-size="8.8" text-anchor="middle" fill="#1c1c1c" style="">Serum/LIF</text>
<text x="156.20" y="46.00" font-size="8.8" text-anchor="start" fill="#1c1c1c" style="" transform="rotate(-32.5 156.20 46.00)">2i/LIF</text>
<text x="149.60" y="61.80" font-size="8.7" text-anchor="start" fill="#1c1c1c" style="" transform="rotate(-32.5 149.60 61.80)">(p0: + serum, feeders)</text>
<text x="151.90" y="101.00" font-size="8.7" text-anchor="start" fill="#1c1c1c" style="font-style:italic;" transform="rotate(28.2 151.90 101.00)">In utero</text>
<path d="M208.7 105.4 C209.3 103.6 211.3 102.2 213.4 101.8 C216 101.2 219.5 101.3 221.5 102 C223.4 102.8 224.5 104.6 224.5 106.7 C224.6 108 224.3 109.2 224.3 110 C225.4 111 226.6 112.3 227.2 114.5 C227.8 116.5 227.6 118.8 226.8 120.1 C226.2 121.4 225.6 122.2 224.8 122.8 C223.8 124.3 222.7 125.4 221.5 126.2 C220.2 127.5 218.8 128.5 217.4 128.9 C215.6 129.7 213.8 130 212.1 129.9 C210.4 129.8 208.8 129.5 207.4 128.9 C205.9 128.2 204.8 127.3 204 126.2 C203.2 125 202.8 123.6 202.7 122.1 C202.6 120.7 202.7 119.4 203 118.1 C203.3 116.6 203.9 115.3 204.7 114.4 C205.5 113.5 206.4 112.9 207.4 112.8 C207.9 112.7 208.3 112.7 208.6 112.8 C208.2 111.4 208.1 110 208.4 108.7 C208.5 107.5 208.5 106.4 208.7 105.4 Z" fill="#f4d9cc" stroke="#a08880" stroke-width="0.5"/>
<path d="M207 116.1 C207.5 115.2 208 114.6 208.7 114.4 C209.6 114.5 210.3 115 210.7 115.8 C210.9 117 210.9 118.3 210.7 119.5 C210.4 120.5 209.9 121.4 209.4 122.1 C208.8 121.4 208.4 120.8 208.1 120.1 C207.6 119.6 207.1 119.1 206.7 118.5 C206.7 117.7 206.8 116.9 207 116.1 Z" fill="#fff" stroke="#a08880" stroke-width="0.4"/>
<path d="M211.7 115.6 C212.6 116.2 213.4 116.4 214.2 116.1 M213.2 119.8 C214.4 120.6 215.6 121.4 216.8 122.1 M210.2 113.2 C210.8 113.8 211.2 114.4 211.5 115.2 M205.4 122.6 C206.4 124.4 208 125.6 209.8 126" fill="none" stroke="#a08880" stroke-width="0.4"/>
<circle cx="213.80" cy="111.90" r="0.85" fill="#6a4a44"/></g>
</svg></body></html>
